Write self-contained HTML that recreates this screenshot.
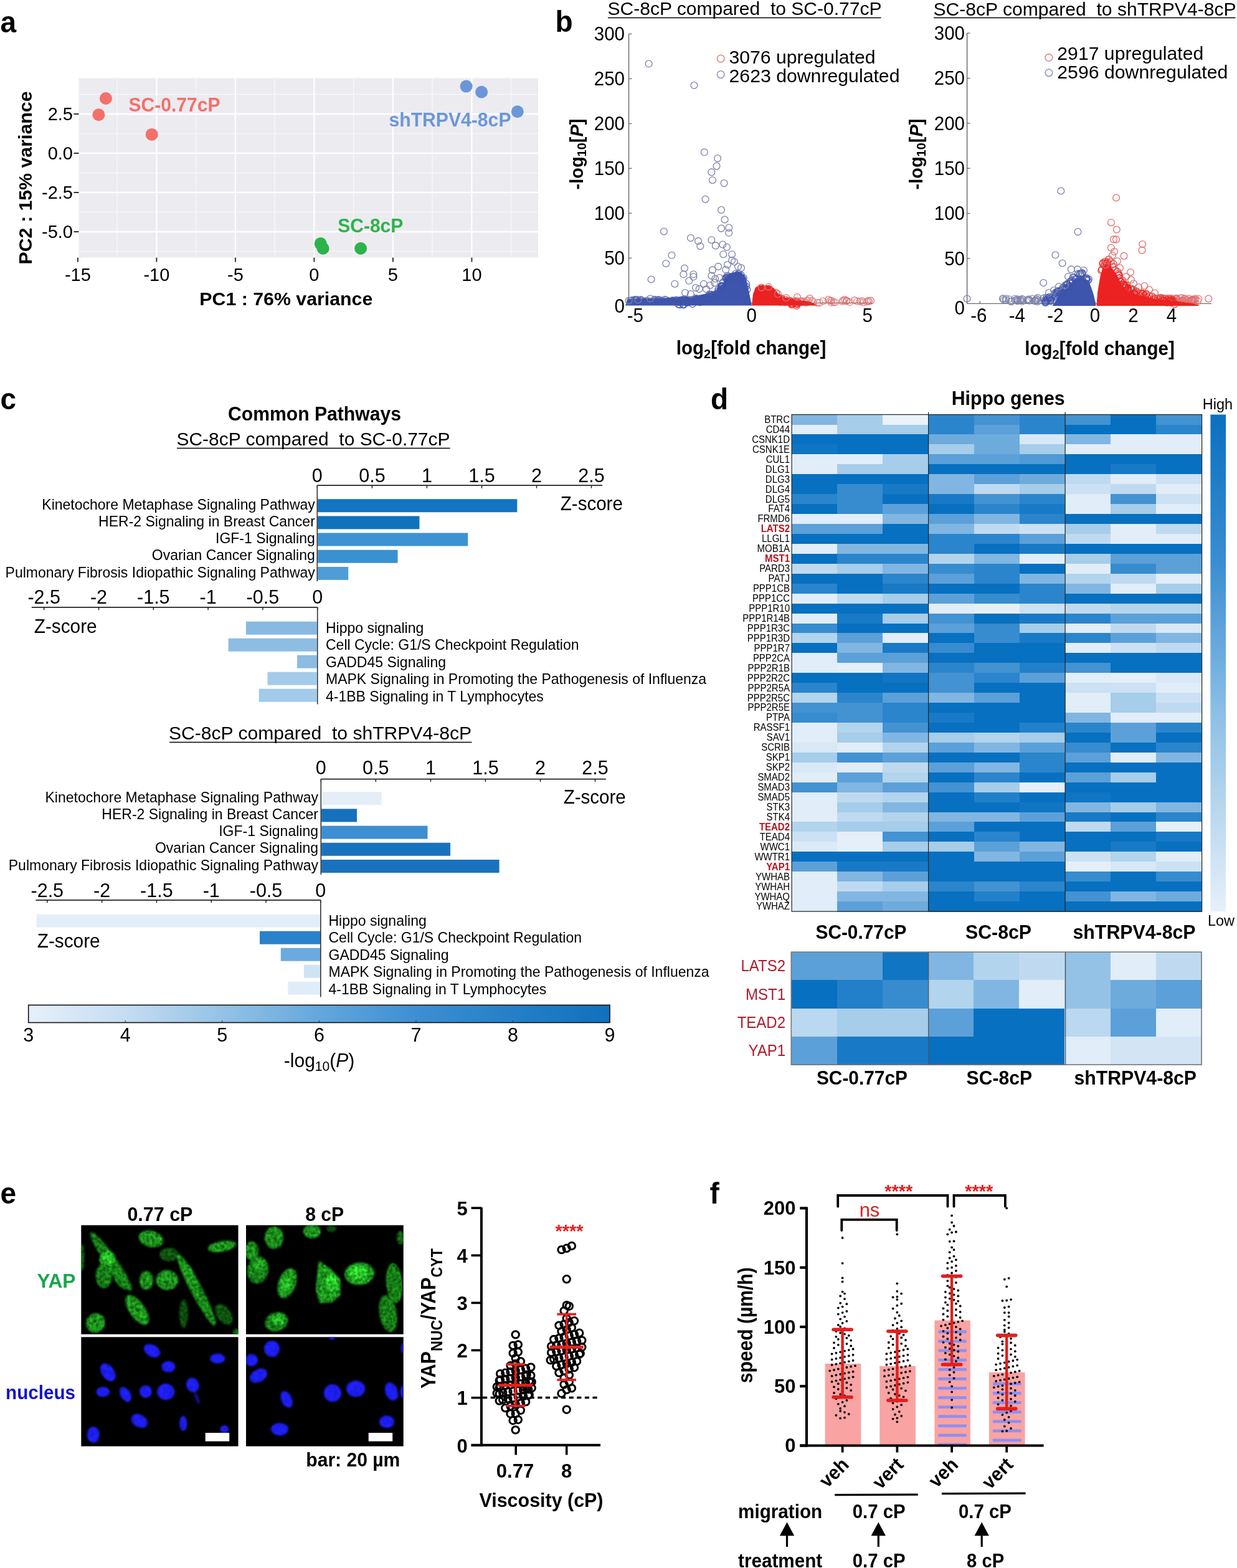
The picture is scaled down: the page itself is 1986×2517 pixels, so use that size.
<!DOCTYPE html>
<html><head><meta charset="utf-8"><title>Figure</title>
<style>html,body{margin:0;padding:0;background:#fff;}svg{display:block;}</style>
</head><body>
<svg width="1986" height="2517" viewBox="0 0 1986 2517" font-family='"Liberation Sans", Arial, Helvetica, sans-serif'>
<rect width="1986" height="2517" fill="#fff"/>
<text x="0" y="0" font-size="46" font-weight="bold" transform="translate(0.5 51.5) scale(1 1.038)">a</text>
<rect x="126.5" y="125.5" width="737.5" height="288" fill="#ecebf0"/>
<line x1="188.1" y1="125.5" x2="188.1" y2="413.5" stroke="#fafafa" stroke-width="1.1"/>
<line x1="314.6" y1="125.5" x2="314.6" y2="413.5" stroke="#fafafa" stroke-width="1.1"/>
<line x1="441.1" y1="125.5" x2="441.1" y2="413.5" stroke="#fafafa" stroke-width="1.1"/>
<line x1="567.6" y1="125.5" x2="567.6" y2="413.5" stroke="#fafafa" stroke-width="1.1"/>
<line x1="694.1" y1="125.5" x2="694.1" y2="413.5" stroke="#fafafa" stroke-width="1.1"/>
<line x1="820.6" y1="125.5" x2="820.6" y2="413.5" stroke="#fafafa" stroke-width="1.1"/>
<line x1="126.5" y1="151.5" x2="864" y2="151.5" stroke="#fafafa" stroke-width="1.1"/>
<line x1="126.5" y1="214.5" x2="864" y2="214.5" stroke="#fafafa" stroke-width="1.1"/>
<line x1="126.5" y1="277.5" x2="864" y2="277.5" stroke="#fafafa" stroke-width="1.1"/>
<line x1="126.5" y1="340.5" x2="864" y2="340.5" stroke="#fafafa" stroke-width="1.1"/>
<line x1="126.5" y1="403.5" x2="864" y2="403.5" stroke="#fafafa" stroke-width="1.1"/>
<line x1="251.4" y1="125.5" x2="251.4" y2="413.5" stroke="#ffffff" stroke-width="2.3"/>
<line x1="377.9" y1="125.5" x2="377.9" y2="413.5" stroke="#ffffff" stroke-width="2.3"/>
<line x1="504.4" y1="125.5" x2="504.4" y2="413.5" stroke="#ffffff" stroke-width="2.3"/>
<line x1="630.9" y1="125.5" x2="630.9" y2="413.5" stroke="#ffffff" stroke-width="2.3"/>
<line x1="757.4" y1="125.5" x2="757.4" y2="413.5" stroke="#ffffff" stroke-width="2.3"/>
<line x1="126.5" y1="183" x2="864" y2="183" stroke="#ffffff" stroke-width="2.3"/>
<line x1="126.5" y1="246" x2="864" y2="246" stroke="#ffffff" stroke-width="2.3"/>
<line x1="126.5" y1="309" x2="864" y2="309" stroke="#ffffff" stroke-width="2.3"/>
<line x1="126.5" y1="372" x2="864" y2="372" stroke="#ffffff" stroke-width="2.3"/>
<circle cx="169.9" cy="158" r="10" fill="#f4706a"/>
<circle cx="158.4" cy="184.3" r="10" fill="#f4706a"/>
<circle cx="243.7" cy="215.9" r="10" fill="#f4706a"/>
<circle cx="748.6" cy="138.6" r="10" fill="#6b97d8"/>
<circle cx="773.1" cy="147.7" r="10" fill="#6b97d8"/>
<circle cx="830.8" cy="179.3" r="10" fill="#6b97d8"/>
<circle cx="514.7" cy="391.1" r="10" fill="#2eb34b"/>
<circle cx="518.6" cy="398.8" r="10" fill="#2eb34b"/>
<circle cx="579.1" cy="398.8" r="10" fill="#2eb34b"/>
<text x="0" y="0" font-size="29.5" font-weight="bold" fill="#f4706a" textLength="147" lengthAdjust="spacingAndGlyphs" transform="translate(206.5 179) scale(1 1.038)">SC-0.77cP</text>
<text x="0" y="0" font-size="29.5" font-weight="bold" fill="#6b97d8" textLength="196" lengthAdjust="spacingAndGlyphs" transform="translate(624.5 202.5) scale(1 1.038)">shTRPV4-8cP</text>
<text x="0" y="0" font-size="29.5" font-weight="bold" fill="#2eb34b" textLength="105" lengthAdjust="spacingAndGlyphs" transform="translate(542.3 373) scale(1 1.038)">SC-8cP</text>
<line x1="118.5" y1="183" x2="126.5" y2="183" stroke="#333" stroke-width="2"/>
<text x="0" y="0" font-size="29" text-anchor="end" transform="translate(117 193.4) scale(1 1.038)">2.5</text>
<line x1="118.5" y1="246" x2="126.5" y2="246" stroke="#333" stroke-width="2"/>
<text x="0" y="0" font-size="29" text-anchor="end" transform="translate(117 256.4) scale(1 1.038)">0.0</text>
<line x1="118.5" y1="309" x2="126.5" y2="309" stroke="#333" stroke-width="2"/>
<text x="0" y="0" font-size="29" text-anchor="end" transform="translate(117 319.4) scale(1 1.038)">-2.5</text>
<line x1="118.5" y1="372" x2="126.5" y2="372" stroke="#333" stroke-width="2"/>
<text x="0" y="0" font-size="29" text-anchor="end" transform="translate(117 382.4) scale(1 1.038)">-5.0</text>
<line x1="124.9" y1="413.5" x2="124.9" y2="420.5" stroke="#333" stroke-width="2"/>
<text x="0" y="0" font-size="29" text-anchor="middle" transform="translate(124.9 451) scale(1 1.038)">-15</text>
<line x1="251.4" y1="413.5" x2="251.4" y2="420.5" stroke="#333" stroke-width="2"/>
<text x="0" y="0" font-size="29" text-anchor="middle" transform="translate(251.4 451) scale(1 1.038)">-10</text>
<line x1="377.9" y1="413.5" x2="377.9" y2="420.5" stroke="#333" stroke-width="2"/>
<text x="0" y="0" font-size="29" text-anchor="middle" transform="translate(377.9 451) scale(1 1.038)">-5</text>
<line x1="504.4" y1="413.5" x2="504.4" y2="420.5" stroke="#333" stroke-width="2"/>
<text x="0" y="0" font-size="29" text-anchor="middle" transform="translate(504.4 451) scale(1 1.038)">0</text>
<line x1="630.9" y1="413.5" x2="630.9" y2="420.5" stroke="#333" stroke-width="2"/>
<text x="0" y="0" font-size="29" text-anchor="middle" transform="translate(630.9 451) scale(1 1.038)">5</text>
<line x1="757.4" y1="413.5" x2="757.4" y2="420.5" stroke="#333" stroke-width="2"/>
<text x="0" y="0" font-size="29" text-anchor="middle" transform="translate(757.4 451) scale(1 1.038)">10</text>
<text x="0" y="0" font-size="29" text-anchor="middle" font-weight="bold" textLength="278" lengthAdjust="spacingAndGlyphs" transform="translate(459.3 490) scale(1 1.038)">PC1 : 76% variance</text>
<text x="0" y="0" font-size="29" text-anchor="middle" font-weight="bold" textLength="278" lengthAdjust="spacingAndGlyphs" transform="translate(51.4 285.5) rotate(-90) scale(1 1.038)">PC2 : 15% variance</text>
<text x="0" y="0" font-size="46" font-weight="bold" transform="translate(891.5 50.8) scale(1 1.038)">b</text>
<line x1="1009.5" y1="54.4" x2="1009.5" y2="486.3" stroke="#6e6e6e" stroke-width="1.5"/>
<line x1="1009.5" y1="486.3" x2="1400" y2="486.3" stroke="#6e6e6e" stroke-width="1.2"/>
<line x1="1009.5" y1="54.4" x2="1014.5" y2="54.4" stroke="#6e6e6e" stroke-width="1.3"/>
<line x1="1009.5" y1="126.4" x2="1014.5" y2="126.4" stroke="#6e6e6e" stroke-width="1.3"/>
<line x1="1009.5" y1="198.4" x2="1014.5" y2="198.4" stroke="#6e6e6e" stroke-width="1.3"/>
<line x1="1009.5" y1="270.3" x2="1014.5" y2="270.3" stroke="#6e6e6e" stroke-width="1.3"/>
<line x1="1009.5" y1="342.3" x2="1014.5" y2="342.3" stroke="#6e6e6e" stroke-width="1.3"/>
<line x1="1009.5" y1="414.3" x2="1014.5" y2="414.3" stroke="#6e6e6e" stroke-width="1.3"/>
<text x="0" y="0" font-size="29.5" text-anchor="end" transform="translate(1003 64.6) scale(1 1.038)">300</text>
<text x="0" y="0" font-size="29.5" text-anchor="end" transform="translate(1003 136.6) scale(1 1.038)">250</text>
<text x="0" y="0" font-size="29.5" text-anchor="end" transform="translate(1003 208.6) scale(1 1.038)">200</text>
<text x="0" y="0" font-size="29.5" text-anchor="end" transform="translate(1003 280.5) scale(1 1.038)">150</text>
<text x="0" y="0" font-size="29.5" text-anchor="end" transform="translate(1003 352.5) scale(1 1.038)">100</text>
<text x="0" y="0" font-size="29.5" text-anchor="end" transform="translate(1003 424.5) scale(1 1.038)">50</text>
<text x="0" y="0" font-size="29.5" text-anchor="end" transform="translate(1003 502) scale(1 1.038)">0</text>
<text x="0" y="0" font-size="29.5" text-anchor="middle" transform="translate(1019.9 517) scale(1 1.038)">-5</text>
<text x="0" y="0" font-size="29.5" text-anchor="middle" transform="translate(1206.7 517) scale(1 1.038)">0</text>
<text x="0" y="0" font-size="29.5" text-anchor="middle" transform="translate(1392.6 517) scale(1 1.038)">5</text>
<circle cx="1051.8" cy="481.6" r="5.4" fill="none" stroke="#5a68b0" stroke-width="1.3" stroke-opacity="0.8"/>
<circle cx="1093.3" cy="481.9" r="5.4" fill="none" stroke="#5a68b0" stroke-width="1.3" stroke-opacity="0.8"/>
<circle cx="1056.7" cy="481.5" r="5.4" fill="none" stroke="#5a68b0" stroke-width="1.3" stroke-opacity="0.8"/>
<circle cx="1028.3" cy="481.8" r="5.4" fill="none" stroke="#5a68b0" stroke-width="1.3" stroke-opacity="0.8"/>
<circle cx="1067.4" cy="480.9" r="5.4" fill="none" stroke="#5a68b0" stroke-width="1.3" stroke-opacity="0.8"/>
<circle cx="1020.3" cy="482.4" r="5.4" fill="none" stroke="#5a68b0" stroke-width="1.3" stroke-opacity="0.8"/>
<circle cx="1020" cy="480.9" r="5.4" fill="none" stroke="#5a68b0" stroke-width="1.3" stroke-opacity="0.8"/>
<circle cx="1073" cy="483.2" r="5.4" fill="none" stroke="#5a68b0" stroke-width="1.3" stroke-opacity="0.8"/>
<circle cx="1098.4" cy="480.4" r="5.4" fill="none" stroke="#5a68b0" stroke-width="1.3" stroke-opacity="0.8"/>
<circle cx="1069.5" cy="481.5" r="5.4" fill="none" stroke="#5a68b0" stroke-width="1.3" stroke-opacity="0.8"/>
<circle cx="1025.9" cy="483.3" r="5.4" fill="none" stroke="#5a68b0" stroke-width="1.3" stroke-opacity="0.8"/>
<circle cx="1058.5" cy="483.1" r="5.4" fill="none" stroke="#5a68b0" stroke-width="1.3" stroke-opacity="0.8"/>
<circle cx="1028.7" cy="482.6" r="5.4" fill="none" stroke="#5a68b0" stroke-width="1.3" stroke-opacity="0.8"/>
<circle cx="1014.6" cy="481.9" r="5.4" fill="none" stroke="#5a68b0" stroke-width="1.3" stroke-opacity="0.8"/>
<circle cx="1050.8" cy="480.8" r="5.4" fill="none" stroke="#5a68b0" stroke-width="1.3" stroke-opacity="0.8"/>
<circle cx="1057.7" cy="481.4" r="5.4" fill="none" stroke="#5a68b0" stroke-width="1.3" stroke-opacity="0.8"/>
<circle cx="1056" cy="481.3" r="5.4" fill="none" stroke="#5a68b0" stroke-width="1.3" stroke-opacity="0.8"/>
<circle cx="1052.2" cy="482.5" r="5.4" fill="none" stroke="#5a68b0" stroke-width="1.3" stroke-opacity="0.8"/>
<circle cx="1099.8" cy="480.3" r="5.4" fill="none" stroke="#5a68b0" stroke-width="1.3" stroke-opacity="0.8"/>
<circle cx="1085.9" cy="481.2" r="5.4" fill="none" stroke="#5a68b0" stroke-width="1.3" stroke-opacity="0.8"/>
<circle cx="1039.7" cy="482.6" r="5.4" fill="none" stroke="#5a68b0" stroke-width="1.3" stroke-opacity="0.8"/>
<circle cx="1037.4" cy="483.1" r="5.4" fill="none" stroke="#5a68b0" stroke-width="1.3" stroke-opacity="0.8"/>
<circle cx="1079.4" cy="482.1" r="5.4" fill="none" stroke="#5a68b0" stroke-width="1.3" stroke-opacity="0.8"/>
<circle cx="1086.5" cy="482.1" r="5.4" fill="none" stroke="#5a68b0" stroke-width="1.3" stroke-opacity="0.8"/>
<circle cx="1096.3" cy="480.8" r="5.4" fill="none" stroke="#5a68b0" stroke-width="1.3" stroke-opacity="0.8"/>
<circle cx="1012" cy="482.7" r="5.4" fill="none" stroke="#5a68b0" stroke-width="1.3" stroke-opacity="0.8"/>
<circle cx="1092.1" cy="481.9" r="5.4" fill="none" stroke="#5a68b0" stroke-width="1.3" stroke-opacity="0.8"/>
<circle cx="1098.3" cy="482.1" r="5.4" fill="none" stroke="#5a68b0" stroke-width="1.3" stroke-opacity="0.8"/>
<circle cx="1018.4" cy="481.4" r="5.4" fill="none" stroke="#5a68b0" stroke-width="1.3" stroke-opacity="0.8"/>
<circle cx="1080.5" cy="482.5" r="5.4" fill="none" stroke="#5a68b0" stroke-width="1.3" stroke-opacity="0.8"/>
<circle cx="1019.7" cy="482.3" r="5.4" fill="none" stroke="#5a68b0" stroke-width="1.3" stroke-opacity="0.8"/>
<circle cx="1096.8" cy="481" r="5.4" fill="none" stroke="#5a68b0" stroke-width="1.3" stroke-opacity="0.8"/>
<circle cx="1022.4" cy="482.6" r="5.4" fill="none" stroke="#5a68b0" stroke-width="1.3" stroke-opacity="0.8"/>
<circle cx="1020.9" cy="483.1" r="5.4" fill="none" stroke="#5a68b0" stroke-width="1.3" stroke-opacity="0.8"/>
<circle cx="1082.1" cy="482.8" r="5.4" fill="none" stroke="#5a68b0" stroke-width="1.3" stroke-opacity="0.8"/>
<circle cx="1061.2" cy="482" r="5.4" fill="none" stroke="#5a68b0" stroke-width="1.3" stroke-opacity="0.8"/>
<circle cx="1028.8" cy="481.1" r="5.4" fill="none" stroke="#5a68b0" stroke-width="1.3" stroke-opacity="0.8"/>
<circle cx="1023.5" cy="481.4" r="5.4" fill="none" stroke="#5a68b0" stroke-width="1.3" stroke-opacity="0.8"/>
<circle cx="1022.3" cy="482" r="5.4" fill="none" stroke="#5a68b0" stroke-width="1.3" stroke-opacity="0.8"/>
<circle cx="1030.7" cy="482.5" r="5.4" fill="none" stroke="#5a68b0" stroke-width="1.3" stroke-opacity="0.8"/>
<circle cx="1393.7" cy="483.1" r="5.4" fill="none" stroke="#e07070" stroke-width="1.3" stroke-opacity="0.8"/>
<circle cx="1295" cy="482.8" r="5.4" fill="none" stroke="#e07070" stroke-width="1.3" stroke-opacity="0.8"/>
<circle cx="1281.2" cy="484.7" r="5.4" fill="none" stroke="#e07070" stroke-width="1.3" stroke-opacity="0.8"/>
<circle cx="1376.4" cy="483.7" r="5.4" fill="none" stroke="#e07070" stroke-width="1.3" stroke-opacity="0.8"/>
<circle cx="1264.8" cy="482.3" r="5.4" fill="none" stroke="#e07070" stroke-width="1.3" stroke-opacity="0.8"/>
<circle cx="1281.6" cy="485.3" r="5.4" fill="none" stroke="#e07070" stroke-width="1.3" stroke-opacity="0.8"/>
<circle cx="1364.4" cy="485" r="5.4" fill="none" stroke="#e07070" stroke-width="1.3" stroke-opacity="0.8"/>
<circle cx="1293.9" cy="486" r="5.4" fill="none" stroke="#e07070" stroke-width="1.3" stroke-opacity="0.8"/>
<circle cx="1263.3" cy="484" r="5.4" fill="none" stroke="#e07070" stroke-width="1.3" stroke-opacity="0.8"/>
<circle cx="1286" cy="483.9" r="5.4" fill="none" stroke="#e07070" stroke-width="1.3" stroke-opacity="0.8"/>
<circle cx="1305" cy="484.5" r="5.4" fill="none" stroke="#e07070" stroke-width="1.3" stroke-opacity="0.8"/>
<circle cx="1392" cy="484.4" r="5.4" fill="none" stroke="#e07070" stroke-width="1.3" stroke-opacity="0.8"/>
<circle cx="1335" cy="482.8" r="5.4" fill="none" stroke="#e07070" stroke-width="1.3" stroke-opacity="0.8"/>
<circle cx="1277.1" cy="485.7" r="5.4" fill="none" stroke="#e07070" stroke-width="1.3" stroke-opacity="0.8"/>
<circle cx="1384.4" cy="483" r="5.4" fill="none" stroke="#e07070" stroke-width="1.3" stroke-opacity="0.8"/>
<circle cx="1286.9" cy="485.5" r="5.4" fill="none" stroke="#e07070" stroke-width="1.3" stroke-opacity="0.8"/>
<circle cx="1359.4" cy="482.5" r="5.4" fill="none" stroke="#e07070" stroke-width="1.3" stroke-opacity="0.8"/>
<circle cx="1279.1" cy="482.5" r="5.4" fill="none" stroke="#e07070" stroke-width="1.3" stroke-opacity="0.8"/>
<circle cx="1380.6" cy="483.9" r="5.4" fill="none" stroke="#e07070" stroke-width="1.3" stroke-opacity="0.8"/>
<circle cx="1312.4" cy="485.9" r="5.4" fill="none" stroke="#e07070" stroke-width="1.3" stroke-opacity="0.8"/>
<circle cx="1255.7" cy="482.4" r="5.4" fill="none" stroke="#e07070" stroke-width="1.3" stroke-opacity="0.8"/>
<circle cx="1285.3" cy="483.5" r="5.4" fill="none" stroke="#e07070" stroke-width="1.3" stroke-opacity="0.8"/>
<circle cx="1288" cy="483" r="5.4" fill="none" stroke="#e07070" stroke-width="1.3" stroke-opacity="0.8"/>
<circle cx="1338.3" cy="485.1" r="5.4" fill="none" stroke="#e07070" stroke-width="1.3" stroke-opacity="0.8"/>
<circle cx="1276" cy="483.4" r="5.4" fill="none" stroke="#e07070" stroke-width="1.3" stroke-opacity="0.8"/>
<circle cx="1260.2" cy="485.4" r="5.4" fill="none" stroke="#e07070" stroke-width="1.3" stroke-opacity="0.8"/>
<circle cx="1332.8" cy="482.9" r="5.4" fill="none" stroke="#e07070" stroke-width="1.3" stroke-opacity="0.8"/>
<circle cx="1340.9" cy="485.2" r="5.4" fill="none" stroke="#e07070" stroke-width="1.3" stroke-opacity="0.8"/>
<circle cx="1385.8" cy="485.5" r="5.4" fill="none" stroke="#e07070" stroke-width="1.3" stroke-opacity="0.8"/>
<circle cx="1252.5" cy="485.2" r="5.4" fill="none" stroke="#e07070" stroke-width="1.3" stroke-opacity="0.8"/>
<circle cx="1316" cy="486.1" r="5.4" fill="none" stroke="#e07070" stroke-width="1.3" stroke-opacity="0.8"/>
<circle cx="1276.1" cy="484.8" r="5.4" fill="none" stroke="#e07070" stroke-width="1.3" stroke-opacity="0.8"/>
<circle cx="1334.7" cy="485.8" r="5.4" fill="none" stroke="#e07070" stroke-width="1.3" stroke-opacity="0.8"/>
<circle cx="1303.6" cy="482.7" r="5.4" fill="none" stroke="#e07070" stroke-width="1.3" stroke-opacity="0.8"/>
<circle cx="1395.1" cy="483.7" r="5.4" fill="none" stroke="#e07070" stroke-width="1.3" stroke-opacity="0.8"/>
<circle cx="1352.3" cy="484" r="5.4" fill="none" stroke="#e07070" stroke-width="1.3" stroke-opacity="0.8"/>
<circle cx="1270.8" cy="486.2" r="5.4" fill="none" stroke="#e07070" stroke-width="1.3" stroke-opacity="0.8"/>
<circle cx="1252.6" cy="482.7" r="5.4" fill="none" stroke="#e07070" stroke-width="1.3" stroke-opacity="0.8"/>
<circle cx="1353.7" cy="482.4" r="5.4" fill="none" stroke="#e07070" stroke-width="1.3" stroke-opacity="0.8"/>
<circle cx="1253.1" cy="483.8" r="5.4" fill="none" stroke="#e07070" stroke-width="1.3" stroke-opacity="0.8"/>
<circle cx="1321.4" cy="483.4" r="5.4" fill="none" stroke="#e07070" stroke-width="1.3" stroke-opacity="0.8"/>
<circle cx="1297.2" cy="482.3" r="5.4" fill="none" stroke="#e07070" stroke-width="1.3" stroke-opacity="0.8"/>
<circle cx="1261.1" cy="484.1" r="5.4" fill="none" stroke="#e07070" stroke-width="1.3" stroke-opacity="0.8"/>
<circle cx="1359.1" cy="482.7" r="5.4" fill="none" stroke="#e07070" stroke-width="1.3" stroke-opacity="0.8"/>
<circle cx="1359.1" cy="483.5" r="5.4" fill="none" stroke="#e07070" stroke-width="1.3" stroke-opacity="0.8"/>
<path d="M1004 490.5 L1004 490.5 L1008 480 L1030 479 L1060 478.5 L1085 477.5 L1116 475 L1140 470 L1151 465 L1160 456 L1166 444 L1171 439 L1180 436.5 L1190 437 L1196 443 L1200 456 L1204 476 L1207 490.5 L1207 490.5 Z" fill="#3d55ad"/>
<path d="M1207 490.5 L1207 490 L1209 472 L1213 462 L1220 458 L1235 458 L1242 462 L1247 468 L1252 475 L1265 479 L1285 482 L1300 484 L1312 490 L1312 490.5 Z" fill="#ec2222"/>
<circle cx="1176.8" cy="446.4" r="5.4" fill="none" stroke="#3d55ad" stroke-width="1.3" stroke-opacity="0.85"/>
<circle cx="1127.4" cy="481.8" r="5.4" fill="none" stroke="#3d55ad" stroke-width="1.3" stroke-opacity="0.85"/>
<circle cx="1188.9" cy="448.2" r="5.4" fill="none" stroke="#3d55ad" stroke-width="1.3" stroke-opacity="0.85"/>
<circle cx="1134.7" cy="480.7" r="5.4" fill="none" stroke="#3d55ad" stroke-width="1.3" stroke-opacity="0.85"/>
<circle cx="1184.7" cy="443.9" r="5.4" fill="none" stroke="#3d55ad" stroke-width="1.3" stroke-opacity="0.85"/>
<circle cx="1158" cy="459.1" r="5.4" fill="none" stroke="#3d55ad" stroke-width="1.3" stroke-opacity="0.85"/>
<circle cx="1153.3" cy="467.5" r="5.4" fill="none" stroke="#3d55ad" stroke-width="1.3" stroke-opacity="0.85"/>
<circle cx="1097" cy="488.4" r="5.4" fill="none" stroke="#3d55ad" stroke-width="1.3" stroke-opacity="0.85"/>
<circle cx="1199.3" cy="464.9" r="5.4" fill="none" stroke="#3d55ad" stroke-width="1.3" stroke-opacity="0.85"/>
<circle cx="1169.6" cy="444.2" r="5.4" fill="none" stroke="#3d55ad" stroke-width="1.3" stroke-opacity="0.85"/>
<circle cx="1170.3" cy="445.7" r="5.4" fill="none" stroke="#3d55ad" stroke-width="1.3" stroke-opacity="0.85"/>
<circle cx="1137.3" cy="480.3" r="5.4" fill="none" stroke="#3d55ad" stroke-width="1.3" stroke-opacity="0.85"/>
<circle cx="1097.4" cy="489.4" r="5.4" fill="none" stroke="#3d55ad" stroke-width="1.3" stroke-opacity="0.85"/>
<circle cx="1091.3" cy="489.2" r="5.4" fill="none" stroke="#3d55ad" stroke-width="1.3" stroke-opacity="0.85"/>
<circle cx="1141.9" cy="472.9" r="5.4" fill="none" stroke="#3d55ad" stroke-width="1.3" stroke-opacity="0.85"/>
<circle cx="1166.2" cy="446.4" r="5.4" fill="none" stroke="#3d55ad" stroke-width="1.3" stroke-opacity="0.85"/>
<circle cx="1156.8" cy="465.5" r="5.4" fill="none" stroke="#3d55ad" stroke-width="1.3" stroke-opacity="0.85"/>
<circle cx="1116.7" cy="478.9" r="5.4" fill="none" stroke="#3d55ad" stroke-width="1.3" stroke-opacity="0.85"/>
<circle cx="1121.7" cy="483.4" r="5.4" fill="none" stroke="#3d55ad" stroke-width="1.3" stroke-opacity="0.85"/>
<circle cx="1110.7" cy="481.6" r="5.4" fill="none" stroke="#3d55ad" stroke-width="1.3" stroke-opacity="0.85"/>
<circle cx="1189.4" cy="446.5" r="5.4" fill="none" stroke="#3d55ad" stroke-width="1.3" stroke-opacity="0.85"/>
<circle cx="1137.5" cy="480.8" r="5.4" fill="none" stroke="#3d55ad" stroke-width="1.3" stroke-opacity="0.85"/>
<circle cx="1124.6" cy="482.5" r="5.4" fill="none" stroke="#3d55ad" stroke-width="1.3" stroke-opacity="0.85"/>
<circle cx="1110.2" cy="484" r="5.4" fill="none" stroke="#3d55ad" stroke-width="1.3" stroke-opacity="0.85"/>
<circle cx="1178.3" cy="445.8" r="5.4" fill="none" stroke="#3d55ad" stroke-width="1.3" stroke-opacity="0.85"/>
<circle cx="1186.6" cy="442.9" r="5.4" fill="none" stroke="#3d55ad" stroke-width="1.3" stroke-opacity="0.85"/>
<circle cx="1153.3" cy="464.8" r="5.4" fill="none" stroke="#3d55ad" stroke-width="1.3" stroke-opacity="0.85"/>
<circle cx="1103.3" cy="485.9" r="5.4" fill="none" stroke="#3d55ad" stroke-width="1.3" stroke-opacity="0.85"/>
<circle cx="1181.8" cy="445.3" r="5.4" fill="none" stroke="#3d55ad" stroke-width="1.3" stroke-opacity="0.85"/>
<circle cx="1167.7" cy="450" r="5.4" fill="none" stroke="#3d55ad" stroke-width="1.3" stroke-opacity="0.85"/>
<circle cx="1119" cy="479.6" r="5.4" fill="none" stroke="#3d55ad" stroke-width="1.3" stroke-opacity="0.85"/>
<circle cx="1138.5" cy="474.9" r="5.4" fill="none" stroke="#3d55ad" stroke-width="1.3" stroke-opacity="0.85"/>
<circle cx="1112" cy="483.5" r="5.4" fill="none" stroke="#3d55ad" stroke-width="1.3" stroke-opacity="0.85"/>
<circle cx="1158.1" cy="460" r="5.4" fill="none" stroke="#3d55ad" stroke-width="1.3" stroke-opacity="0.85"/>
<circle cx="1123.3" cy="484.4" r="5.4" fill="none" stroke="#3d55ad" stroke-width="1.3" stroke-opacity="0.85"/>
<circle cx="1198" cy="455.6" r="5.4" fill="none" stroke="#3d55ad" stroke-width="1.3" stroke-opacity="0.85"/>
<circle cx="1096.4" cy="483.1" r="5.4" fill="none" stroke="#3d55ad" stroke-width="1.3" stroke-opacity="0.85"/>
<circle cx="1185.8" cy="439.5" r="5.4" fill="none" stroke="#3d55ad" stroke-width="1.3" stroke-opacity="0.85"/>
<circle cx="1167.4" cy="446.6" r="5.4" fill="none" stroke="#3d55ad" stroke-width="1.3" stroke-opacity="0.85"/>
<circle cx="1122.6" cy="484.2" r="5.4" fill="none" stroke="#3d55ad" stroke-width="1.3" stroke-opacity="0.85"/>
<circle cx="1090.1" cy="485.2" r="5.4" fill="none" stroke="#3d55ad" stroke-width="1.3" stroke-opacity="0.85"/>
<circle cx="1138.9" cy="472.5" r="5.4" fill="none" stroke="#3d55ad" stroke-width="1.3" stroke-opacity="0.85"/>
<circle cx="1180.9" cy="439.5" r="5.4" fill="none" stroke="#3d55ad" stroke-width="1.3" stroke-opacity="0.85"/>
<circle cx="1103.8" cy="481.8" r="5.4" fill="none" stroke="#3d55ad" stroke-width="1.3" stroke-opacity="0.85"/>
<circle cx="1158.5" cy="459.1" r="5.4" fill="none" stroke="#3d55ad" stroke-width="1.3" stroke-opacity="0.85"/>
<circle cx="1158.6" cy="460.8" r="5.4" fill="none" stroke="#3d55ad" stroke-width="1.3" stroke-opacity="0.85"/>
<circle cx="1178.4" cy="446.2" r="5.4" fill="none" stroke="#3d55ad" stroke-width="1.3" stroke-opacity="0.85"/>
<circle cx="1164.7" cy="446.2" r="5.4" fill="none" stroke="#3d55ad" stroke-width="1.3" stroke-opacity="0.85"/>
<circle cx="1141.2" cy="472.8" r="5.4" fill="none" stroke="#3d55ad" stroke-width="1.3" stroke-opacity="0.85"/>
<circle cx="1089.2" cy="488.4" r="5.4" fill="none" stroke="#3d55ad" stroke-width="1.3" stroke-opacity="0.85"/>
<circle cx="1168" cy="442.9" r="5.4" fill="none" stroke="#3d55ad" stroke-width="1.3" stroke-opacity="0.85"/>
<circle cx="1118.5" cy="481.4" r="5.4" fill="none" stroke="#3d55ad" stroke-width="1.3" stroke-opacity="0.85"/>
<circle cx="1166.1" cy="446.6" r="5.4" fill="none" stroke="#3d55ad" stroke-width="1.3" stroke-opacity="0.85"/>
<circle cx="1156.8" cy="464" r="5.4" fill="none" stroke="#3d55ad" stroke-width="1.3" stroke-opacity="0.85"/>
<circle cx="1132.1" cy="481.4" r="5.4" fill="none" stroke="#3d55ad" stroke-width="1.3" stroke-opacity="0.85"/>
<circle cx="1189.5" cy="441.3" r="5.4" fill="none" stroke="#3d55ad" stroke-width="1.3" stroke-opacity="0.85"/>
<circle cx="1192.5" cy="448.2" r="5.4" fill="none" stroke="#3d55ad" stroke-width="1.3" stroke-opacity="0.85"/>
<circle cx="1102.5" cy="485.7" r="5.4" fill="none" stroke="#3d55ad" stroke-width="1.3" stroke-opacity="0.85"/>
<circle cx="1158.1" cy="463.8" r="5.4" fill="none" stroke="#3d55ad" stroke-width="1.3" stroke-opacity="0.85"/>
<circle cx="1130.2" cy="480" r="5.4" fill="none" stroke="#3d55ad" stroke-width="1.3" stroke-opacity="0.85"/>
<circle cx="1186.5" cy="446.6" r="5.4" fill="none" stroke="#3d55ad" stroke-width="1.3" stroke-opacity="0.85"/>
<circle cx="1193.8" cy="446.3" r="5.4" fill="none" stroke="#3d55ad" stroke-width="1.3" stroke-opacity="0.85"/>
<circle cx="1160.9" cy="453.1" r="5.4" fill="none" stroke="#3d55ad" stroke-width="1.3" stroke-opacity="0.85"/>
<circle cx="1168.9" cy="448.3" r="5.4" fill="none" stroke="#3d55ad" stroke-width="1.3" stroke-opacity="0.85"/>
<circle cx="1159.9" cy="459.6" r="5.4" fill="none" stroke="#3d55ad" stroke-width="1.3" stroke-opacity="0.85"/>
<circle cx="1111.9" cy="487.9" r="5.4" fill="none" stroke="#3d55ad" stroke-width="1.3" stroke-opacity="0.85"/>
<circle cx="1197.8" cy="459.6" r="5.4" fill="none" stroke="#3d55ad" stroke-width="1.3" stroke-opacity="0.85"/>
<circle cx="1148.1" cy="473.9" r="5.4" fill="none" stroke="#3d55ad" stroke-width="1.3" stroke-opacity="0.85"/>
<circle cx="1123.9" cy="484.9" r="5.4" fill="none" stroke="#3d55ad" stroke-width="1.3" stroke-opacity="0.85"/>
<circle cx="1183.8" cy="441.6" r="5.4" fill="none" stroke="#3d55ad" stroke-width="1.3" stroke-opacity="0.85"/>
<circle cx="1217.8" cy="465.3" r="5.4" fill="none" stroke="#ec2222" stroke-width="1.3" stroke-opacity="0.85"/>
<circle cx="1250.5" cy="481.3" r="5.4" fill="none" stroke="#ec2222" stroke-width="1.3" stroke-opacity="0.85"/>
<circle cx="1246.1" cy="470.1" r="5.4" fill="none" stroke="#ec2222" stroke-width="1.3" stroke-opacity="0.85"/>
<circle cx="1268.6" cy="483" r="5.4" fill="none" stroke="#ec2222" stroke-width="1.3" stroke-opacity="0.85"/>
<circle cx="1268" cy="483.7" r="5.4" fill="none" stroke="#ec2222" stroke-width="1.3" stroke-opacity="0.85"/>
<circle cx="1235.5" cy="466.8" r="5.4" fill="none" stroke="#ec2222" stroke-width="1.3" stroke-opacity="0.85"/>
<circle cx="1221.8" cy="462" r="5.4" fill="none" stroke="#ec2222" stroke-width="1.3" stroke-opacity="0.85"/>
<circle cx="1248.2" cy="477.7" r="5.4" fill="none" stroke="#ec2222" stroke-width="1.3" stroke-opacity="0.85"/>
<circle cx="1270.8" cy="487.7" r="5.4" fill="none" stroke="#ec2222" stroke-width="1.3" stroke-opacity="0.85"/>
<circle cx="1278.2" cy="487.4" r="5.4" fill="none" stroke="#ec2222" stroke-width="1.3" stroke-opacity="0.85"/>
<circle cx="1278.4" cy="484.6" r="5.4" fill="none" stroke="#ec2222" stroke-width="1.3" stroke-opacity="0.85"/>
<circle cx="1227.5" cy="464.7" r="5.4" fill="none" stroke="#ec2222" stroke-width="1.3" stroke-opacity="0.85"/>
<circle cx="1232.3" cy="466.1" r="5.4" fill="none" stroke="#ec2222" stroke-width="1.3" stroke-opacity="0.85"/>
<circle cx="1256.7" cy="483.1" r="5.4" fill="none" stroke="#ec2222" stroke-width="1.3" stroke-opacity="0.85"/>
<circle cx="1271.1" cy="486.8" r="5.4" fill="none" stroke="#ec2222" stroke-width="1.3" stroke-opacity="0.85"/>
<circle cx="1233.8" cy="463.7" r="5.4" fill="none" stroke="#ec2222" stroke-width="1.3" stroke-opacity="0.85"/>
<circle cx="1271.2" cy="489.2" r="5.4" fill="none" stroke="#ec2222" stroke-width="1.3" stroke-opacity="0.85"/>
<circle cx="1226.6" cy="467" r="5.4" fill="none" stroke="#ec2222" stroke-width="1.3" stroke-opacity="0.85"/>
<circle cx="1279.8" cy="487.9" r="5.4" fill="none" stroke="#ec2222" stroke-width="1.3" stroke-opacity="0.85"/>
<circle cx="1252.1" cy="479.4" r="5.4" fill="none" stroke="#ec2222" stroke-width="1.3" stroke-opacity="0.85"/>
<circle cx="1249.5" cy="478" r="5.4" fill="none" stroke="#ec2222" stroke-width="1.3" stroke-opacity="0.85"/>
<circle cx="1254.4" cy="478.9" r="5.4" fill="none" stroke="#ec2222" stroke-width="1.3" stroke-opacity="0.85"/>
<circle cx="1279.9" cy="487.8" r="5.4" fill="none" stroke="#ec2222" stroke-width="1.3" stroke-opacity="0.85"/>
<circle cx="1240" cy="469.5" r="5.4" fill="none" stroke="#ec2222" stroke-width="1.3" stroke-opacity="0.85"/>
<circle cx="1251.4" cy="480.6" r="5.4" fill="none" stroke="#ec2222" stroke-width="1.3" stroke-opacity="0.85"/>
<circle cx="1260.4" cy="481" r="5.4" fill="none" stroke="#ec2222" stroke-width="1.3" stroke-opacity="0.85"/>
<circle cx="1249.7" cy="477.7" r="5.4" fill="none" stroke="#ec2222" stroke-width="1.3" stroke-opacity="0.85"/>
<circle cx="1279" cy="490.6" r="5.4" fill="none" stroke="#ec2222" stroke-width="1.3" stroke-opacity="0.85"/>
<circle cx="1230.8" cy="464.3" r="5.4" fill="none" stroke="#ec2222" stroke-width="1.3" stroke-opacity="0.85"/>
<circle cx="1220.9" cy="464" r="5.4" fill="none" stroke="#ec2222" stroke-width="1.3" stroke-opacity="0.85"/>
<circle cx="1041.6" cy="102.3" r="5.4" fill="none" stroke="#7d82aa" stroke-width="1.3"/>
<circle cx="1114.4" cy="137" r="5.4" fill="none" stroke="#7d82aa" stroke-width="1.3"/>
<circle cx="1130.8" cy="244.3" r="5.4" fill="none" stroke="#7d82aa" stroke-width="1.3"/>
<circle cx="1152.1" cy="254.1" r="5.4" fill="none" stroke="#7d82aa" stroke-width="1.3"/>
<circle cx="1150.5" cy="266.6" r="5.4" fill="none" stroke="#7d82aa" stroke-width="1.3"/>
<circle cx="1142.3" cy="276.4" r="5.4" fill="none" stroke="#7d82aa" stroke-width="1.3"/>
<circle cx="1143.9" cy="289.2" r="5.4" fill="none" stroke="#7d82aa" stroke-width="1.3"/>
<circle cx="1162.6" cy="294.1" r="5.4" fill="none" stroke="#7d82aa" stroke-width="1.3"/>
<circle cx="1132.5" cy="319.7" r="5.4" fill="none" stroke="#7d82aa" stroke-width="1.3"/>
<circle cx="1158" cy="337" r="5.4" fill="none" stroke="#7d82aa" stroke-width="1.3"/>
<circle cx="1163.6" cy="352.5" r="5.4" fill="none" stroke="#7d82aa" stroke-width="1.3"/>
<circle cx="1158" cy="366.6" r="5.4" fill="none" stroke="#7d82aa" stroke-width="1.3"/>
<circle cx="1170.2" cy="365.6" r="5.4" fill="none" stroke="#7d82aa" stroke-width="1.3"/>
<circle cx="1170.2" cy="373.8" r="5.4" fill="none" stroke="#7d82aa" stroke-width="1.3"/>
<circle cx="1065.9" cy="371.5" r="5.4" fill="none" stroke="#7d82aa" stroke-width="1.3"/>
<circle cx="1108.9" cy="382" r="5.4" fill="none" stroke="#7d82aa" stroke-width="1.3"/>
<circle cx="1121" cy="386.9" r="5.4" fill="none" stroke="#7d82aa" stroke-width="1.3"/>
<circle cx="1124.3" cy="395.1" r="5.4" fill="none" stroke="#7d82aa" stroke-width="1.3"/>
<circle cx="1142.3" cy="385.2" r="5.4" fill="none" stroke="#7d82aa" stroke-width="1.3"/>
<circle cx="1148.9" cy="394.4" r="5.4" fill="none" stroke="#7d82aa" stroke-width="1.3"/>
<circle cx="1160.3" cy="392.5" r="5.4" fill="none" stroke="#7d82aa" stroke-width="1.3"/>
<circle cx="1166.9" cy="396.7" r="5.4" fill="none" stroke="#7d82aa" stroke-width="1.3"/>
<circle cx="1161.3" cy="408.2" r="5.4" fill="none" stroke="#7d82aa" stroke-width="1.3"/>
<circle cx="1175.1" cy="408.2" r="5.4" fill="none" stroke="#7d82aa" stroke-width="1.3"/>
<circle cx="1175.1" cy="418" r="5.4" fill="none" stroke="#7d82aa" stroke-width="1.3"/>
<circle cx="1179" cy="420.3" r="5.4" fill="none" stroke="#7d82aa" stroke-width="1.3"/>
<circle cx="1078.4" cy="409.8" r="5.4" fill="none" stroke="#7d82aa" stroke-width="1.3"/>
<circle cx="1069.2" cy="423" r="5.4" fill="none" stroke="#7d82aa" stroke-width="1.3"/>
<circle cx="1099" cy="430.5" r="5.4" fill="none" stroke="#7d82aa" stroke-width="1.3"/>
<circle cx="1097.4" cy="440.3" r="5.4" fill="none" stroke="#7d82aa" stroke-width="1.3"/>
<circle cx="1113.4" cy="440.3" r="5.4" fill="none" stroke="#7d82aa" stroke-width="1.3"/>
<circle cx="1113.4" cy="444.3" r="5.4" fill="none" stroke="#7d82aa" stroke-width="1.3"/>
<circle cx="1106.2" cy="450.8" r="5.4" fill="none" stroke="#7d82aa" stroke-width="1.3"/>
<circle cx="1153.1" cy="427.9" r="5.4" fill="none" stroke="#7d82aa" stroke-width="1.3"/>
<circle cx="1143.9" cy="433.4" r="5.4" fill="none" stroke="#7d82aa" stroke-width="1.3"/>
<circle cx="1142.3" cy="442.6" r="5.4" fill="none" stroke="#7d82aa" stroke-width="1.3"/>
<circle cx="1148.2" cy="447.5" r="5.4" fill="none" stroke="#7d82aa" stroke-width="1.3"/>
<circle cx="1147.2" cy="454.1" r="5.4" fill="none" stroke="#7d82aa" stroke-width="1.3"/>
<circle cx="1165.2" cy="432.8" r="5.4" fill="none" stroke="#7d82aa" stroke-width="1.3"/>
<circle cx="1045.6" cy="448.5" r="5.4" fill="none" stroke="#7d82aa" stroke-width="1.3"/>
<circle cx="1083.3" cy="455.7" r="5.4" fill="none" stroke="#7d82aa" stroke-width="1.3"/>
<circle cx="1129.8" cy="455.7" r="5.4" fill="none" stroke="#7d82aa" stroke-width="1.3"/>
<circle cx="1122.6" cy="463.9" r="5.4" fill="none" stroke="#7d82aa" stroke-width="1.3"/>
<circle cx="1108.9" cy="472.1" r="5.4" fill="none" stroke="#7d82aa" stroke-width="1.3"/>
<circle cx="1009.5" cy="482.6" r="5.4" fill="none" stroke="#7d82aa" stroke-width="1.3"/>
<circle cx="1024.3" cy="481.3" r="5.4" fill="none" stroke="#7d82aa" stroke-width="1.3"/>
<circle cx="1043.9" cy="479.3" r="5.4" fill="none" stroke="#7d82aa" stroke-width="1.3"/>
<circle cx="1134" cy="464" r="5.4" fill="none" stroke="#7d82aa" stroke-width="1.3"/>
<circle cx="1140" cy="458" r="5.4" fill="none" stroke="#7d82aa" stroke-width="1.3"/>
<circle cx="1155" cy="446" r="5.4" fill="none" stroke="#7d82aa" stroke-width="1.3"/>
<circle cx="1168" cy="425" r="5.4" fill="none" stroke="#7d82aa" stroke-width="1.3"/>
<circle cx="1185" cy="428" r="5.4" fill="none" stroke="#7d82aa" stroke-width="1.3"/>
<circle cx="1190" cy="430" r="5.4" fill="none" stroke="#7d82aa" stroke-width="1.3"/>
<circle cx="1117" cy="462" r="5.4" fill="none" stroke="#7d82aa" stroke-width="1.3"/>
<circle cx="1100" cy="470" r="5.4" fill="none" stroke="#7d82aa" stroke-width="1.3"/>
<circle cx="1222.6" cy="461.6" r="5.4" fill="none" stroke="#e07070" stroke-width="1.3"/>
<circle cx="1234" cy="460.7" r="5.4" fill="none" stroke="#e07070" stroke-width="1.3"/>
<circle cx="1248.9" cy="472" r="5.4" fill="none" stroke="#e07070" stroke-width="1.3"/>
<circle cx="1280" cy="477" r="5.4" fill="none" stroke="#e07070" stroke-width="1.3"/>
<circle cx="1398" cy="482.6" r="5.4" fill="none" stroke="#e07070" stroke-width="1.3"/>
<circle cx="1262" cy="478" r="5.4" fill="none" stroke="#e07070" stroke-width="1.3"/>
<circle cx="1300" cy="479" r="5.4" fill="none" stroke="#e07070" stroke-width="1.3"/>
<circle cx="1330" cy="481" r="5.4" fill="none" stroke="#e07070" stroke-width="1.3"/>
<circle cx="1356" cy="481" r="5.4" fill="none" stroke="#e07070" stroke-width="1.3"/>
<circle cx="1372" cy="482" r="5.4" fill="none" stroke="#e07070" stroke-width="1.3"/>
<circle cx="1157.2" cy="94.1" r="5.8" fill="none" stroke="#d88a8a" stroke-width="1.6"/>
<circle cx="1157.2" cy="119.6" r="5.8" fill="none" stroke="#8c94b8" stroke-width="1.6"/>
<text x="0" y="0" font-size="29" textLength="235" lengthAdjust="spacingAndGlyphs" transform="translate(1170.5 102.2) scale(1 1.038)">3076 upregulated</text>
<text x="0" y="0" font-size="29" textLength="274" lengthAdjust="spacingAndGlyphs" transform="translate(1170.5 132.1) scale(1 1.038)">2623 downregulated</text>
<text x="0" y="0" font-size="28.6" textLength="440" lengthAdjust="spacingAndGlyphs" transform="translate(975.5 24) scale(1 1.038)" xml:space="preserve">SC-8cP compared  to SC-0.77cP</text>
<line x1="976" y1="28.4" x2="1414.5" y2="28.4" stroke="#000" stroke-width="1.5"/>
<text x="0" y="0" font-size="29" text-anchor="middle" font-weight="bold" transform="translate(935.5 247.5) rotate(-90) scale(1 1.038)">-log<tspan font-size="20" dy="5">10</tspan><tspan dy="-5">[</tspan><tspan font-style="italic">P</tspan>]</text>
<text x="0" y="0" font-size="29.5" text-anchor="middle" font-weight="bold" transform="translate(1206 569) scale(1 1.038)">log<tspan font-size="20" dy="6">2</tspan><tspan dy="-6">[fold change]</tspan></text>
<line x1="1552.6" y1="53" x2="1552.6" y2="487.3" stroke="#6e6e6e" stroke-width="1.5"/>
<line x1="1552.6" y1="487.3" x2="1945" y2="487.3" stroke="#6e6e6e" stroke-width="1.2"/>
<line x1="1552.6" y1="53.2" x2="1557.6" y2="53.2" stroke="#6e6e6e" stroke-width="1.3"/>
<line x1="1552.6" y1="125.6" x2="1557.6" y2="125.6" stroke="#6e6e6e" stroke-width="1.3"/>
<line x1="1552.6" y1="197.9" x2="1557.6" y2="197.9" stroke="#6e6e6e" stroke-width="1.3"/>
<line x1="1552.6" y1="270.2" x2="1557.6" y2="270.2" stroke="#6e6e6e" stroke-width="1.3"/>
<line x1="1552.6" y1="342.6" x2="1557.6" y2="342.6" stroke="#6e6e6e" stroke-width="1.3"/>
<line x1="1552.6" y1="414.9" x2="1557.6" y2="414.9" stroke="#6e6e6e" stroke-width="1.3"/>
<line x1="1573.3" y1="487.3" x2="1573.3" y2="483.3" stroke="#6e6e6e" stroke-width="1.3"/>
<line x1="1634.8" y1="487.3" x2="1634.8" y2="483.3" stroke="#6e6e6e" stroke-width="1.3"/>
<line x1="1696.4" y1="487.3" x2="1696.4" y2="483.3" stroke="#6e6e6e" stroke-width="1.3"/>
<line x1="1757.9" y1="487.3" x2="1757.9" y2="483.3" stroke="#6e6e6e" stroke-width="1.3"/>
<line x1="1819.4" y1="487.3" x2="1819.4" y2="483.3" stroke="#6e6e6e" stroke-width="1.3"/>
<line x1="1881" y1="487.3" x2="1881" y2="483.3" stroke="#6e6e6e" stroke-width="1.3"/>
<text x="0" y="0" font-size="29.5" text-anchor="end" transform="translate(1549 63.8) scale(1 1.038)">300</text>
<text x="0" y="0" font-size="29.5" text-anchor="end" transform="translate(1549 136.2) scale(1 1.038)">250</text>
<text x="0" y="0" font-size="29.5" text-anchor="end" transform="translate(1549 208.5) scale(1 1.038)">200</text>
<text x="0" y="0" font-size="29.5" text-anchor="end" transform="translate(1549 280.9) scale(1 1.038)">150</text>
<text x="0" y="0" font-size="29.5" text-anchor="end" transform="translate(1549 353.2) scale(1 1.038)">100</text>
<text x="0" y="0" font-size="29.5" text-anchor="end" transform="translate(1549 425.6) scale(1 1.038)">50</text>
<text x="0" y="0" font-size="29.5" text-anchor="end" transform="translate(1549 505) scale(1 1.038)">0</text>
<text x="0" y="0" font-size="29.5" text-anchor="middle" transform="translate(1571.3 517) scale(1 1.038)">-6</text>
<text x="0" y="0" font-size="29.5" text-anchor="middle" transform="translate(1632.8 517) scale(1 1.038)">-4</text>
<text x="0" y="0" font-size="29.5" text-anchor="middle" transform="translate(1694.4 517) scale(1 1.038)">-2</text>
<text x="0" y="0" font-size="29.5" text-anchor="middle" transform="translate(1757.9 517) scale(1 1.038)">0</text>
<text x="0" y="0" font-size="29.5" text-anchor="middle" transform="translate(1819.4 517) scale(1 1.038)">2</text>
<text x="0" y="0" font-size="29.5" text-anchor="middle" transform="translate(1881 517) scale(1 1.038)">4</text>
<circle cx="1686.6" cy="483.6" r="5.4" fill="none" stroke="#7d82aa" stroke-width="1.3" stroke-opacity="0.85"/>
<circle cx="1609.9" cy="479.3" r="5.4" fill="none" stroke="#7d82aa" stroke-width="1.3" stroke-opacity="0.85"/>
<circle cx="1623.1" cy="483.7" r="5.4" fill="none" stroke="#7d82aa" stroke-width="1.3" stroke-opacity="0.85"/>
<circle cx="1661.4" cy="482.6" r="5.4" fill="none" stroke="#7d82aa" stroke-width="1.3" stroke-opacity="0.85"/>
<circle cx="1680.9" cy="483.1" r="5.4" fill="none" stroke="#7d82aa" stroke-width="1.3" stroke-opacity="0.85"/>
<circle cx="1686.7" cy="482.7" r="5.4" fill="none" stroke="#7d82aa" stroke-width="1.3" stroke-opacity="0.85"/>
<circle cx="1657.3" cy="479.6" r="5.4" fill="none" stroke="#7d82aa" stroke-width="1.3" stroke-opacity="0.85"/>
<circle cx="1664.2" cy="479.7" r="5.4" fill="none" stroke="#7d82aa" stroke-width="1.3" stroke-opacity="0.85"/>
<circle cx="1666.1" cy="484.1" r="5.4" fill="none" stroke="#7d82aa" stroke-width="1.3" stroke-opacity="0.85"/>
<circle cx="1680.3" cy="481.4" r="5.4" fill="none" stroke="#7d82aa" stroke-width="1.3" stroke-opacity="0.85"/>
<circle cx="1633.5" cy="483.3" r="5.4" fill="none" stroke="#7d82aa" stroke-width="1.3" stroke-opacity="0.85"/>
<circle cx="1677.7" cy="481.4" r="5.4" fill="none" stroke="#7d82aa" stroke-width="1.3" stroke-opacity="0.85"/>
<circle cx="1684.9" cy="480.4" r="5.4" fill="none" stroke="#7d82aa" stroke-width="1.3" stroke-opacity="0.85"/>
<circle cx="1686.8" cy="481.5" r="5.4" fill="none" stroke="#7d82aa" stroke-width="1.3" stroke-opacity="0.85"/>
<circle cx="1665.3" cy="481.2" r="5.4" fill="none" stroke="#7d82aa" stroke-width="1.3" stroke-opacity="0.85"/>
<circle cx="1629.2" cy="479.5" r="5.4" fill="none" stroke="#7d82aa" stroke-width="1.3" stroke-opacity="0.85"/>
<circle cx="1633.6" cy="480.4" r="5.4" fill="none" stroke="#7d82aa" stroke-width="1.3" stroke-opacity="0.85"/>
<circle cx="1686.3" cy="481" r="5.4" fill="none" stroke="#7d82aa" stroke-width="1.3" stroke-opacity="0.85"/>
<circle cx="1619.7" cy="480.2" r="5.4" fill="none" stroke="#7d82aa" stroke-width="1.3" stroke-opacity="0.85"/>
<circle cx="1662.7" cy="483.4" r="5.4" fill="none" stroke="#7d82aa" stroke-width="1.3" stroke-opacity="0.85"/>
<circle cx="1612" cy="481.6" r="5.4" fill="none" stroke="#7d82aa" stroke-width="1.3" stroke-opacity="0.85"/>
<circle cx="1610.6" cy="479.7" r="5.4" fill="none" stroke="#7d82aa" stroke-width="1.3" stroke-opacity="0.85"/>
<circle cx="1649.5" cy="481.7" r="5.4" fill="none" stroke="#7d82aa" stroke-width="1.3" stroke-opacity="0.85"/>
<circle cx="1641.6" cy="481" r="5.4" fill="none" stroke="#7d82aa" stroke-width="1.3" stroke-opacity="0.85"/>
<circle cx="1683.2" cy="482.8" r="5.4" fill="none" stroke="#7d82aa" stroke-width="1.3" stroke-opacity="0.85"/>
<circle cx="1638.6" cy="481.4" r="5.4" fill="none" stroke="#7d82aa" stroke-width="1.3" stroke-opacity="0.85"/>
<circle cx="1632.4" cy="481.3" r="5.4" fill="none" stroke="#7d82aa" stroke-width="1.3" stroke-opacity="0.85"/>
<circle cx="1652.5" cy="482.1" r="5.4" fill="none" stroke="#7d82aa" stroke-width="1.3" stroke-opacity="0.85"/>
<circle cx="1663.2" cy="481.7" r="5.4" fill="none" stroke="#7d82aa" stroke-width="1.3" stroke-opacity="0.85"/>
<circle cx="1615.2" cy="479.3" r="5.4" fill="none" stroke="#7d82aa" stroke-width="1.3" stroke-opacity="0.85"/>
<circle cx="1637.2" cy="482.1" r="5.4" fill="none" stroke="#7d82aa" stroke-width="1.3" stroke-opacity="0.85"/>
<circle cx="1641" cy="479.7" r="5.4" fill="none" stroke="#7d82aa" stroke-width="1.3" stroke-opacity="0.85"/>
<circle cx="1686.1" cy="481.7" r="5.4" fill="none" stroke="#7d82aa" stroke-width="1.3" stroke-opacity="0.85"/>
<circle cx="1640.9" cy="483.8" r="5.4" fill="none" stroke="#7d82aa" stroke-width="1.3" stroke-opacity="0.85"/>
<circle cx="1681.4" cy="483.4" r="5.4" fill="none" stroke="#7d82aa" stroke-width="1.3" stroke-opacity="0.85"/>
<circle cx="1652.8" cy="482.6" r="5.4" fill="none" stroke="#7d82aa" stroke-width="1.3" stroke-opacity="0.85"/>
<circle cx="1634.9" cy="482.5" r="5.4" fill="none" stroke="#7d82aa" stroke-width="1.3" stroke-opacity="0.85"/>
<circle cx="1623.7" cy="484.1" r="5.4" fill="none" stroke="#7d82aa" stroke-width="1.3" stroke-opacity="0.85"/>
<circle cx="1651.9" cy="480.3" r="5.4" fill="none" stroke="#7d82aa" stroke-width="1.3" stroke-opacity="0.85"/>
<circle cx="1661.1" cy="483.3" r="5.4" fill="none" stroke="#7d82aa" stroke-width="1.3" stroke-opacity="0.85"/>
<circle cx="1902" cy="484" r="5.4" fill="none" stroke="#e07070" stroke-width="1.3" stroke-opacity="0.85"/>
<circle cx="1880.8" cy="479.3" r="5.4" fill="none" stroke="#e07070" stroke-width="1.3" stroke-opacity="0.85"/>
<circle cx="1919.1" cy="481.5" r="5.4" fill="none" stroke="#e07070" stroke-width="1.3" stroke-opacity="0.85"/>
<circle cx="1913.5" cy="481.3" r="5.4" fill="none" stroke="#e07070" stroke-width="1.3" stroke-opacity="0.85"/>
<circle cx="1889.3" cy="480.8" r="5.4" fill="none" stroke="#e07070" stroke-width="1.3" stroke-opacity="0.85"/>
<circle cx="1924.3" cy="479.8" r="5.4" fill="none" stroke="#e07070" stroke-width="1.3" stroke-opacity="0.85"/>
<circle cx="1885.5" cy="479.9" r="5.4" fill="none" stroke="#e07070" stroke-width="1.3" stroke-opacity="0.85"/>
<circle cx="1898.2" cy="482.2" r="5.4" fill="none" stroke="#e07070" stroke-width="1.3" stroke-opacity="0.85"/>
<circle cx="1908.8" cy="479.4" r="5.4" fill="none" stroke="#e07070" stroke-width="1.3" stroke-opacity="0.85"/>
<circle cx="1895.6" cy="478.6" r="5.4" fill="none" stroke="#e07070" stroke-width="1.3" stroke-opacity="0.85"/>
<circle cx="1851.4" cy="481.3" r="5.4" fill="none" stroke="#e07070" stroke-width="1.3" stroke-opacity="0.85"/>
<circle cx="1897.6" cy="482.3" r="5.4" fill="none" stroke="#e07070" stroke-width="1.3" stroke-opacity="0.85"/>
<circle cx="1862.9" cy="480.1" r="5.4" fill="none" stroke="#e07070" stroke-width="1.3" stroke-opacity="0.85"/>
<circle cx="1882.6" cy="482.7" r="5.4" fill="none" stroke="#e07070" stroke-width="1.3" stroke-opacity="0.85"/>
<circle cx="1853.1" cy="478.5" r="5.4" fill="none" stroke="#e07070" stroke-width="1.3" stroke-opacity="0.85"/>
<circle cx="1876.4" cy="483.6" r="5.4" fill="none" stroke="#e07070" stroke-width="1.3" stroke-opacity="0.85"/>
<circle cx="1866.2" cy="482.8" r="5.4" fill="none" stroke="#e07070" stroke-width="1.3" stroke-opacity="0.85"/>
<circle cx="1915" cy="483.2" r="5.4" fill="none" stroke="#e07070" stroke-width="1.3" stroke-opacity="0.85"/>
<circle cx="1870.7" cy="483.7" r="5.4" fill="none" stroke="#e07070" stroke-width="1.3" stroke-opacity="0.85"/>
<circle cx="1885.2" cy="483.1" r="5.4" fill="none" stroke="#e07070" stroke-width="1.3" stroke-opacity="0.85"/>
<circle cx="1875.8" cy="479.9" r="5.4" fill="none" stroke="#e07070" stroke-width="1.3" stroke-opacity="0.85"/>
<circle cx="1919.4" cy="479.3" r="5.4" fill="none" stroke="#e07070" stroke-width="1.3" stroke-opacity="0.85"/>
<circle cx="1852.9" cy="482" r="5.4" fill="none" stroke="#e07070" stroke-width="1.3" stroke-opacity="0.85"/>
<circle cx="1913.7" cy="484.1" r="5.4" fill="none" stroke="#e07070" stroke-width="1.3" stroke-opacity="0.85"/>
<circle cx="1865.2" cy="481.4" r="5.4" fill="none" stroke="#e07070" stroke-width="1.3" stroke-opacity="0.85"/>
<circle cx="1878.7" cy="479.8" r="5.4" fill="none" stroke="#e07070" stroke-width="1.3" stroke-opacity="0.85"/>
<circle cx="1903.9" cy="481.5" r="5.4" fill="none" stroke="#e07070" stroke-width="1.3" stroke-opacity="0.85"/>
<circle cx="1868.7" cy="482.9" r="5.4" fill="none" stroke="#e07070" stroke-width="1.3" stroke-opacity="0.85"/>
<circle cx="1870" cy="483.9" r="5.4" fill="none" stroke="#e07070" stroke-width="1.3" stroke-opacity="0.85"/>
<circle cx="1899.9" cy="483.4" r="5.4" fill="none" stroke="#e07070" stroke-width="1.3" stroke-opacity="0.85"/>
<circle cx="1916.7" cy="480.4" r="5.4" fill="none" stroke="#e07070" stroke-width="1.3" stroke-opacity="0.85"/>
<circle cx="1854.3" cy="481.3" r="5.4" fill="none" stroke="#e07070" stroke-width="1.3" stroke-opacity="0.85"/>
<circle cx="1895.3" cy="484" r="5.4" fill="none" stroke="#e07070" stroke-width="1.3" stroke-opacity="0.85"/>
<circle cx="1886.5" cy="484.1" r="5.4" fill="none" stroke="#e07070" stroke-width="1.3" stroke-opacity="0.85"/>
<circle cx="1907.5" cy="484.3" r="5.4" fill="none" stroke="#e07070" stroke-width="1.3" stroke-opacity="0.85"/>
<circle cx="1897.4" cy="478.4" r="5.4" fill="none" stroke="#e07070" stroke-width="1.3" stroke-opacity="0.85"/>
<circle cx="1913.5" cy="482.9" r="5.4" fill="none" stroke="#e07070" stroke-width="1.3" stroke-opacity="0.85"/>
<circle cx="1890.1" cy="483.5" r="5.4" fill="none" stroke="#e07070" stroke-width="1.3" stroke-opacity="0.85"/>
<circle cx="1875.7" cy="479.1" r="5.4" fill="none" stroke="#e07070" stroke-width="1.3" stroke-opacity="0.85"/>
<circle cx="1911.3" cy="484.2" r="5.4" fill="none" stroke="#e07070" stroke-width="1.3" stroke-opacity="0.85"/>
<circle cx="1878.5" cy="480.5" r="5.4" fill="none" stroke="#e07070" stroke-width="1.3" stroke-opacity="0.85"/>
<circle cx="1863.2" cy="479.5" r="5.4" fill="none" stroke="#e07070" stroke-width="1.3" stroke-opacity="0.85"/>
<circle cx="1917" cy="481" r="5.4" fill="none" stroke="#e07070" stroke-width="1.3" stroke-opacity="0.85"/>
<circle cx="1877.2" cy="479.2" r="5.4" fill="none" stroke="#e07070" stroke-width="1.3" stroke-opacity="0.85"/>
<circle cx="1888.5" cy="483.2" r="5.4" fill="none" stroke="#e07070" stroke-width="1.3" stroke-opacity="0.85"/>
<circle cx="1870.8" cy="483.3" r="5.4" fill="none" stroke="#e07070" stroke-width="1.3" stroke-opacity="0.85"/>
<circle cx="1912.9" cy="481.2" r="5.4" fill="none" stroke="#e07070" stroke-width="1.3" stroke-opacity="0.85"/>
<circle cx="1902.2" cy="479.4" r="5.4" fill="none" stroke="#e07070" stroke-width="1.3" stroke-opacity="0.85"/>
<circle cx="1923" cy="483.2" r="5.4" fill="none" stroke="#e07070" stroke-width="1.3" stroke-opacity="0.85"/>
<circle cx="1880.4" cy="479.1" r="5.4" fill="none" stroke="#e07070" stroke-width="1.3" stroke-opacity="0.85"/>
<circle cx="1907.1" cy="482" r="5.4" fill="none" stroke="#e07070" stroke-width="1.3" stroke-opacity="0.85"/>
<circle cx="1899.2" cy="483.1" r="5.4" fill="none" stroke="#e07070" stroke-width="1.3" stroke-opacity="0.85"/>
<circle cx="1862.1" cy="484" r="5.4" fill="none" stroke="#e07070" stroke-width="1.3" stroke-opacity="0.85"/>
<circle cx="1878.5" cy="482.9" r="5.4" fill="none" stroke="#e07070" stroke-width="1.3" stroke-opacity="0.85"/>
<circle cx="1888.8" cy="478.5" r="5.4" fill="none" stroke="#e07070" stroke-width="1.3" stroke-opacity="0.85"/>
<circle cx="1861.5" cy="481" r="5.4" fill="none" stroke="#e07070" stroke-width="1.3" stroke-opacity="0.85"/>
<circle cx="1914.8" cy="480.7" r="5.4" fill="none" stroke="#e07070" stroke-width="1.3" stroke-opacity="0.85"/>
<circle cx="1889.5" cy="479.7" r="5.4" fill="none" stroke="#e07070" stroke-width="1.3" stroke-opacity="0.85"/>
<circle cx="1851.6" cy="478.6" r="5.4" fill="none" stroke="#e07070" stroke-width="1.3" stroke-opacity="0.85"/>
<circle cx="1901.5" cy="479.5" r="5.4" fill="none" stroke="#e07070" stroke-width="1.3" stroke-opacity="0.85"/>
<path d="M1690 491 L1690 490 L1697 480 L1704 470 L1716 458 L1726.5 447 L1737 444.5 L1747.6 450.5 L1751.8 461 L1756 473.5 L1759.5 490 L1759.5 491 Z" fill="#3d55ad"/>
<path d="M1760.5 491 L1760.5 490 L1762 470 L1766.5 443.2 L1770.7 428.5 L1781.3 424.3 L1789.7 437 L1796 447.5 L1802.4 460 L1810.8 468.5 L1831.9 474.9 L1853 479 L1874 482.2 L1895 484.3 L1915 487 L1925 490 L1925 491 Z" fill="#ec2222"/>
<circle cx="1737.7" cy="438.4" r="5.4" fill="none" stroke="#3d55ad" stroke-width="1.3" stroke-opacity="0.85"/>
<circle cx="1680.1" cy="477.9" r="5.4" fill="none" stroke="#3d55ad" stroke-width="1.3" stroke-opacity="0.85"/>
<circle cx="1713.4" cy="463.6" r="5.4" fill="none" stroke="#3d55ad" stroke-width="1.3" stroke-opacity="0.85"/>
<circle cx="1744.1" cy="445.9" r="5.4" fill="none" stroke="#3d55ad" stroke-width="1.3" stroke-opacity="0.85"/>
<circle cx="1722.3" cy="452.1" r="5.4" fill="none" stroke="#3d55ad" stroke-width="1.3" stroke-opacity="0.85"/>
<circle cx="1700.3" cy="474.3" r="5.4" fill="none" stroke="#3d55ad" stroke-width="1.3" stroke-opacity="0.85"/>
<circle cx="1746.6" cy="450.5" r="5.4" fill="none" stroke="#3d55ad" stroke-width="1.3" stroke-opacity="0.85"/>
<circle cx="1743.5" cy="448.9" r="5.4" fill="none" stroke="#3d55ad" stroke-width="1.3" stroke-opacity="0.85"/>
<circle cx="1724.6" cy="445.6" r="5.4" fill="none" stroke="#3d55ad" stroke-width="1.3" stroke-opacity="0.85"/>
<circle cx="1696.4" cy="470.5" r="5.4" fill="none" stroke="#3d55ad" stroke-width="1.3" stroke-opacity="0.85"/>
<circle cx="1679.4" cy="484.9" r="5.4" fill="none" stroke="#3d55ad" stroke-width="1.3" stroke-opacity="0.85"/>
<circle cx="1697.7" cy="467.6" r="5.4" fill="none" stroke="#3d55ad" stroke-width="1.3" stroke-opacity="0.85"/>
<circle cx="1699" cy="467.4" r="5.4" fill="none" stroke="#3d55ad" stroke-width="1.3" stroke-opacity="0.85"/>
<circle cx="1708.8" cy="461.7" r="5.4" fill="none" stroke="#3d55ad" stroke-width="1.3" stroke-opacity="0.85"/>
<circle cx="1688.3" cy="477.8" r="5.4" fill="none" stroke="#3d55ad" stroke-width="1.3" stroke-opacity="0.85"/>
<circle cx="1706.5" cy="463.8" r="5.4" fill="none" stroke="#3d55ad" stroke-width="1.3" stroke-opacity="0.85"/>
<circle cx="1736.8" cy="439.8" r="5.4" fill="none" stroke="#3d55ad" stroke-width="1.3" stroke-opacity="0.85"/>
<circle cx="1716.1" cy="460.7" r="5.4" fill="none" stroke="#3d55ad" stroke-width="1.3" stroke-opacity="0.85"/>
<circle cx="1747.9" cy="448.3" r="5.4" fill="none" stroke="#3d55ad" stroke-width="1.3" stroke-opacity="0.85"/>
<circle cx="1678.1" cy="485.5" r="5.4" fill="none" stroke="#3d55ad" stroke-width="1.3" stroke-opacity="0.85"/>
<circle cx="1714.1" cy="456.5" r="5.4" fill="none" stroke="#3d55ad" stroke-width="1.3" stroke-opacity="0.85"/>
<circle cx="1684.7" cy="476.9" r="5.4" fill="none" stroke="#3d55ad" stroke-width="1.3" stroke-opacity="0.85"/>
<circle cx="1698.6" cy="468" r="5.4" fill="none" stroke="#3d55ad" stroke-width="1.3" stroke-opacity="0.85"/>
<circle cx="1678.7" cy="485.7" r="5.4" fill="none" stroke="#3d55ad" stroke-width="1.3" stroke-opacity="0.85"/>
<circle cx="1737.3" cy="438.3" r="5.4" fill="none" stroke="#3d55ad" stroke-width="1.3" stroke-opacity="0.85"/>
<circle cx="1711.5" cy="463.8" r="5.4" fill="none" stroke="#3d55ad" stroke-width="1.3" stroke-opacity="0.85"/>
<circle cx="1713.3" cy="455.8" r="5.4" fill="none" stroke="#3d55ad" stroke-width="1.3" stroke-opacity="0.85"/>
<circle cx="1700.8" cy="468.6" r="5.4" fill="none" stroke="#3d55ad" stroke-width="1.3" stroke-opacity="0.85"/>
<circle cx="1744.5" cy="447.7" r="5.4" fill="none" stroke="#3d55ad" stroke-width="1.3" stroke-opacity="0.85"/>
<circle cx="1709.9" cy="463.6" r="5.4" fill="none" stroke="#3d55ad" stroke-width="1.3" stroke-opacity="0.85"/>
<circle cx="1678.7" cy="482.9" r="5.4" fill="none" stroke="#3d55ad" stroke-width="1.3" stroke-opacity="0.85"/>
<circle cx="1736.4" cy="443.3" r="5.4" fill="none" stroke="#3d55ad" stroke-width="1.3" stroke-opacity="0.85"/>
<circle cx="1702.4" cy="466.4" r="5.4" fill="none" stroke="#3d55ad" stroke-width="1.3" stroke-opacity="0.85"/>
<circle cx="1675.8" cy="478.5" r="5.4" fill="none" stroke="#3d55ad" stroke-width="1.3" stroke-opacity="0.85"/>
<circle cx="1686.7" cy="478.2" r="5.4" fill="none" stroke="#3d55ad" stroke-width="1.3" stroke-opacity="0.85"/>
<circle cx="1734.1" cy="440" r="5.4" fill="none" stroke="#3d55ad" stroke-width="1.3" stroke-opacity="0.85"/>
<circle cx="1710.9" cy="462.8" r="5.4" fill="none" stroke="#3d55ad" stroke-width="1.3" stroke-opacity="0.85"/>
<circle cx="1722.8" cy="445" r="5.4" fill="none" stroke="#3d55ad" stroke-width="1.3" stroke-opacity="0.85"/>
<circle cx="1745" cy="448.1" r="5.4" fill="none" stroke="#3d55ad" stroke-width="1.3" stroke-opacity="0.85"/>
<circle cx="1698" cy="469.3" r="5.4" fill="none" stroke="#3d55ad" stroke-width="1.3" stroke-opacity="0.85"/>
<circle cx="1727.4" cy="448.9" r="5.4" fill="none" stroke="#3d55ad" stroke-width="1.3" stroke-opacity="0.85"/>
<circle cx="1700.6" cy="468.8" r="5.4" fill="none" stroke="#3d55ad" stroke-width="1.3" stroke-opacity="0.85"/>
<circle cx="1717.3" cy="453" r="5.4" fill="none" stroke="#3d55ad" stroke-width="1.3" stroke-opacity="0.85"/>
<circle cx="1705.8" cy="469.4" r="5.4" fill="none" stroke="#3d55ad" stroke-width="1.3" stroke-opacity="0.85"/>
<circle cx="1717.3" cy="458.9" r="5.4" fill="none" stroke="#3d55ad" stroke-width="1.3" stroke-opacity="0.85"/>
<circle cx="1694.9" cy="477.3" r="5.4" fill="none" stroke="#3d55ad" stroke-width="1.3" stroke-opacity="0.85"/>
<circle cx="1734.5" cy="439.9" r="5.4" fill="none" stroke="#3d55ad" stroke-width="1.3" stroke-opacity="0.85"/>
<circle cx="1715.3" cy="459.7" r="5.4" fill="none" stroke="#3d55ad" stroke-width="1.3" stroke-opacity="0.85"/>
<circle cx="1718.5" cy="455.4" r="5.4" fill="none" stroke="#3d55ad" stroke-width="1.3" stroke-opacity="0.85"/>
<circle cx="1693.2" cy="475.6" r="5.4" fill="none" stroke="#3d55ad" stroke-width="1.3" stroke-opacity="0.85"/>
<circle cx="1701.9" cy="471.4" r="5.4" fill="none" stroke="#3d55ad" stroke-width="1.3" stroke-opacity="0.85"/>
<circle cx="1703.3" cy="472" r="5.4" fill="none" stroke="#3d55ad" stroke-width="1.3" stroke-opacity="0.85"/>
<circle cx="1719.1" cy="451.3" r="5.4" fill="none" stroke="#3d55ad" stroke-width="1.3" stroke-opacity="0.85"/>
<circle cx="1706.6" cy="461.7" r="5.4" fill="none" stroke="#3d55ad" stroke-width="1.3" stroke-opacity="0.85"/>
<circle cx="1731" cy="439.6" r="5.4" fill="none" stroke="#3d55ad" stroke-width="1.3" stroke-opacity="0.85"/>
<circle cx="1721" cy="449.8" r="5.4" fill="none" stroke="#3d55ad" stroke-width="1.3" stroke-opacity="0.85"/>
<circle cx="1734.1" cy="439.2" r="5.4" fill="none" stroke="#3d55ad" stroke-width="1.3" stroke-opacity="0.85"/>
<circle cx="1726.7" cy="447.2" r="5.4" fill="none" stroke="#3d55ad" stroke-width="1.3" stroke-opacity="0.85"/>
<circle cx="1692.7" cy="472.2" r="5.4" fill="none" stroke="#3d55ad" stroke-width="1.3" stroke-opacity="0.85"/>
<circle cx="1703.3" cy="469" r="5.4" fill="none" stroke="#3d55ad" stroke-width="1.3" stroke-opacity="0.85"/>
<circle cx="1694.8" cy="469.6" r="5.4" fill="none" stroke="#3d55ad" stroke-width="1.3" stroke-opacity="0.85"/>
<circle cx="1708.5" cy="466.2" r="5.4" fill="none" stroke="#3d55ad" stroke-width="1.3" stroke-opacity="0.85"/>
<circle cx="1687" cy="482.5" r="5.4" fill="none" stroke="#3d55ad" stroke-width="1.3" stroke-opacity="0.85"/>
<circle cx="1713.6" cy="456.3" r="5.4" fill="none" stroke="#3d55ad" stroke-width="1.3" stroke-opacity="0.85"/>
<circle cx="1682.6" cy="478.8" r="5.4" fill="none" stroke="#3d55ad" stroke-width="1.3" stroke-opacity="0.85"/>
<circle cx="1711.2" cy="458.4" r="5.4" fill="none" stroke="#3d55ad" stroke-width="1.3" stroke-opacity="0.85"/>
<circle cx="1681.4" cy="480.4" r="5.4" fill="none" stroke="#3d55ad" stroke-width="1.3" stroke-opacity="0.85"/>
<circle cx="1694.3" cy="473.9" r="5.4" fill="none" stroke="#3d55ad" stroke-width="1.3" stroke-opacity="0.85"/>
<circle cx="1709.3" cy="464.7" r="5.4" fill="none" stroke="#3d55ad" stroke-width="1.3" stroke-opacity="0.85"/>
<circle cx="1718.9" cy="451.6" r="5.4" fill="none" stroke="#3d55ad" stroke-width="1.3" stroke-opacity="0.85"/>
<circle cx="1790.3" cy="433.5" r="5.4" fill="none" stroke="#ec2222" stroke-width="1.3" stroke-opacity="0.85"/>
<circle cx="1774.3" cy="420" r="5.4" fill="none" stroke="#ec2222" stroke-width="1.3" stroke-opacity="0.85"/>
<circle cx="1776.7" cy="424.2" r="5.4" fill="none" stroke="#ec2222" stroke-width="1.3" stroke-opacity="0.85"/>
<circle cx="1835.1" cy="477.3" r="5.4" fill="none" stroke="#ec2222" stroke-width="1.3" stroke-opacity="0.85"/>
<circle cx="1845.7" cy="475.6" r="5.4" fill="none" stroke="#ec2222" stroke-width="1.3" stroke-opacity="0.85"/>
<circle cx="1821.4" cy="470.8" r="5.4" fill="none" stroke="#ec2222" stroke-width="1.3" stroke-opacity="0.85"/>
<circle cx="1796.7" cy="446.6" r="5.4" fill="none" stroke="#ec2222" stroke-width="1.3" stroke-opacity="0.85"/>
<circle cx="1818.5" cy="464.2" r="5.4" fill="none" stroke="#ec2222" stroke-width="1.3" stroke-opacity="0.85"/>
<circle cx="1810.6" cy="465" r="5.4" fill="none" stroke="#ec2222" stroke-width="1.3" stroke-opacity="0.85"/>
<circle cx="1786.2" cy="428.6" r="5.4" fill="none" stroke="#ec2222" stroke-width="1.3" stroke-opacity="0.85"/>
<circle cx="1882.8" cy="484.4" r="5.4" fill="none" stroke="#ec2222" stroke-width="1.3" stroke-opacity="0.85"/>
<circle cx="1880.2" cy="485.4" r="5.4" fill="none" stroke="#ec2222" stroke-width="1.3" stroke-opacity="0.85"/>
<circle cx="1834.7" cy="471" r="5.4" fill="none" stroke="#ec2222" stroke-width="1.3" stroke-opacity="0.85"/>
<circle cx="1886.1" cy="488.1" r="5.4" fill="none" stroke="#ec2222" stroke-width="1.3" stroke-opacity="0.85"/>
<circle cx="1824" cy="469" r="5.4" fill="none" stroke="#ec2222" stroke-width="1.3" stroke-opacity="0.85"/>
<circle cx="1777.1" cy="422.3" r="5.4" fill="none" stroke="#ec2222" stroke-width="1.3" stroke-opacity="0.85"/>
<circle cx="1874" cy="482.1" r="5.4" fill="none" stroke="#ec2222" stroke-width="1.3" stroke-opacity="0.85"/>
<circle cx="1803.8" cy="456.9" r="5.4" fill="none" stroke="#ec2222" stroke-width="1.3" stroke-opacity="0.85"/>
<circle cx="1866.4" cy="478.9" r="5.4" fill="none" stroke="#ec2222" stroke-width="1.3" stroke-opacity="0.85"/>
<circle cx="1803" cy="456.2" r="5.4" fill="none" stroke="#ec2222" stroke-width="1.3" stroke-opacity="0.85"/>
<circle cx="1773.1" cy="426.3" r="5.4" fill="none" stroke="#ec2222" stroke-width="1.3" stroke-opacity="0.85"/>
<circle cx="1807.1" cy="462.8" r="5.4" fill="none" stroke="#ec2222" stroke-width="1.3" stroke-opacity="0.85"/>
<circle cx="1824.4" cy="467.4" r="5.4" fill="none" stroke="#ec2222" stroke-width="1.3" stroke-opacity="0.85"/>
<circle cx="1770.4" cy="423.5" r="5.4" fill="none" stroke="#ec2222" stroke-width="1.3" stroke-opacity="0.85"/>
<circle cx="1800.3" cy="452.4" r="5.4" fill="none" stroke="#ec2222" stroke-width="1.3" stroke-opacity="0.85"/>
<circle cx="1866.5" cy="482.6" r="5.4" fill="none" stroke="#ec2222" stroke-width="1.3" stroke-opacity="0.85"/>
<circle cx="1806.1" cy="460.2" r="5.4" fill="none" stroke="#ec2222" stroke-width="1.3" stroke-opacity="0.85"/>
<circle cx="1858.8" cy="479" r="5.4" fill="none" stroke="#ec2222" stroke-width="1.3" stroke-opacity="0.85"/>
<circle cx="1778.1" cy="420.5" r="5.4" fill="none" stroke="#ec2222" stroke-width="1.3" stroke-opacity="0.85"/>
<circle cx="1795.5" cy="439.5" r="5.4" fill="none" stroke="#ec2222" stroke-width="1.3" stroke-opacity="0.85"/>
<circle cx="1816.4" cy="463.7" r="5.4" fill="none" stroke="#ec2222" stroke-width="1.3" stroke-opacity="0.85"/>
<circle cx="1879.3" cy="482" r="5.4" fill="none" stroke="#ec2222" stroke-width="1.3" stroke-opacity="0.85"/>
<circle cx="1879.4" cy="485.7" r="5.4" fill="none" stroke="#ec2222" stroke-width="1.3" stroke-opacity="0.85"/>
<circle cx="1769.3" cy="432.6" r="5.4" fill="none" stroke="#ec2222" stroke-width="1.3" stroke-opacity="0.85"/>
<circle cx="1868.4" cy="482.1" r="5.4" fill="none" stroke="#ec2222" stroke-width="1.3" stroke-opacity="0.85"/>
<circle cx="1877.7" cy="483.3" r="5.4" fill="none" stroke="#ec2222" stroke-width="1.3" stroke-opacity="0.85"/>
<circle cx="1771.1" cy="422.1" r="5.4" fill="none" stroke="#ec2222" stroke-width="1.3" stroke-opacity="0.85"/>
<circle cx="1806.5" cy="462.3" r="5.4" fill="none" stroke="#ec2222" stroke-width="1.3" stroke-opacity="0.85"/>
<circle cx="1870.9" cy="479.3" r="5.4" fill="none" stroke="#ec2222" stroke-width="1.3" stroke-opacity="0.85"/>
<circle cx="1811.4" cy="462" r="5.4" fill="none" stroke="#ec2222" stroke-width="1.3" stroke-opacity="0.85"/>
<circle cx="1796.3" cy="442.4" r="5.4" fill="none" stroke="#ec2222" stroke-width="1.3" stroke-opacity="0.85"/>
<circle cx="1819.4" cy="465.4" r="5.4" fill="none" stroke="#ec2222" stroke-width="1.3" stroke-opacity="0.85"/>
<circle cx="1849.5" cy="475.9" r="5.4" fill="none" stroke="#ec2222" stroke-width="1.3" stroke-opacity="0.85"/>
<circle cx="1878.4" cy="483.5" r="5.4" fill="none" stroke="#ec2222" stroke-width="1.3" stroke-opacity="0.85"/>
<circle cx="1821.3" cy="471" r="5.4" fill="none" stroke="#ec2222" stroke-width="1.3" stroke-opacity="0.85"/>
<circle cx="1810.8" cy="462.8" r="5.4" fill="none" stroke="#ec2222" stroke-width="1.3" stroke-opacity="0.85"/>
<circle cx="1783.2" cy="420" r="5.4" fill="none" stroke="#ec2222" stroke-width="1.3" stroke-opacity="0.85"/>
<circle cx="1797.1" cy="446.7" r="5.4" fill="none" stroke="#ec2222" stroke-width="1.3" stroke-opacity="0.85"/>
<circle cx="1812" cy="467" r="5.4" fill="none" stroke="#ec2222" stroke-width="1.3" stroke-opacity="0.85"/>
<circle cx="1802.2" cy="450.1" r="5.4" fill="none" stroke="#ec2222" stroke-width="1.3" stroke-opacity="0.85"/>
<circle cx="1805.8" cy="457.6" r="5.4" fill="none" stroke="#ec2222" stroke-width="1.3" stroke-opacity="0.85"/>
<circle cx="1880.9" cy="481.6" r="5.4" fill="none" stroke="#ec2222" stroke-width="1.3" stroke-opacity="0.85"/>
<circle cx="1794.2" cy="436.4" r="5.4" fill="none" stroke="#ec2222" stroke-width="1.3" stroke-opacity="0.85"/>
<circle cx="1799.4" cy="452.5" r="5.4" fill="none" stroke="#ec2222" stroke-width="1.3" stroke-opacity="0.85"/>
<circle cx="1883.6" cy="482.2" r="5.4" fill="none" stroke="#ec2222" stroke-width="1.3" stroke-opacity="0.85"/>
<circle cx="1774.2" cy="423" r="5.4" fill="none" stroke="#ec2222" stroke-width="1.3" stroke-opacity="0.85"/>
<circle cx="1840.5" cy="472.3" r="5.4" fill="none" stroke="#ec2222" stroke-width="1.3" stroke-opacity="0.85"/>
<circle cx="1819.8" cy="470.5" r="5.4" fill="none" stroke="#ec2222" stroke-width="1.3" stroke-opacity="0.85"/>
<circle cx="1768.2" cy="434.3" r="5.4" fill="none" stroke="#ec2222" stroke-width="1.3" stroke-opacity="0.85"/>
<circle cx="1852.9" cy="481.3" r="5.4" fill="none" stroke="#ec2222" stroke-width="1.3" stroke-opacity="0.85"/>
<circle cx="1828.4" cy="471.3" r="5.4" fill="none" stroke="#ec2222" stroke-width="1.3" stroke-opacity="0.85"/>
<circle cx="1832.3" cy="470.2" r="5.4" fill="none" stroke="#ec2222" stroke-width="1.3" stroke-opacity="0.85"/>
<circle cx="1831.7" cy="470.8" r="5.4" fill="none" stroke="#ec2222" stroke-width="1.3" stroke-opacity="0.85"/>
<circle cx="1807.8" cy="457.4" r="5.4" fill="none" stroke="#ec2222" stroke-width="1.3" stroke-opacity="0.85"/>
<circle cx="1787.7" cy="423.6" r="5.4" fill="none" stroke="#ec2222" stroke-width="1.3" stroke-opacity="0.85"/>
<circle cx="1835.1" cy="471.8" r="5.4" fill="none" stroke="#ec2222" stroke-width="1.3" stroke-opacity="0.85"/>
<circle cx="1836.9" cy="474.4" r="5.4" fill="none" stroke="#ec2222" stroke-width="1.3" stroke-opacity="0.85"/>
<circle cx="1796.9" cy="441.5" r="5.4" fill="none" stroke="#ec2222" stroke-width="1.3" stroke-opacity="0.85"/>
<circle cx="1841.9" cy="477.2" r="5.4" fill="none" stroke="#ec2222" stroke-width="1.3" stroke-opacity="0.85"/>
<circle cx="1853.6" cy="479.2" r="5.4" fill="none" stroke="#ec2222" stroke-width="1.3" stroke-opacity="0.85"/>
<circle cx="1839.9" cy="471.5" r="5.4" fill="none" stroke="#ec2222" stroke-width="1.3" stroke-opacity="0.85"/>
<circle cx="1806" cy="461.1" r="5.4" fill="none" stroke="#ec2222" stroke-width="1.3" stroke-opacity="0.85"/>
<circle cx="1814.8" cy="463.3" r="5.4" fill="none" stroke="#ec2222" stroke-width="1.3" stroke-opacity="0.85"/>
<circle cx="1820.2" cy="471.2" r="5.4" fill="none" stroke="#ec2222" stroke-width="1.3" stroke-opacity="0.85"/>
<circle cx="1780.2" cy="416.4" r="5.4" fill="none" stroke="#ec2222" stroke-width="1.3" stroke-opacity="0.85"/>
<circle cx="1829.8" cy="475.1" r="5.4" fill="none" stroke="#ec2222" stroke-width="1.3" stroke-opacity="0.85"/>
<circle cx="1816.4" cy="465" r="5.4" fill="none" stroke="#ec2222" stroke-width="1.3" stroke-opacity="0.85"/>
<circle cx="1863.2" cy="477.7" r="5.4" fill="none" stroke="#ec2222" stroke-width="1.3" stroke-opacity="0.85"/>
<circle cx="1804.6" cy="457.8" r="5.4" fill="none" stroke="#ec2222" stroke-width="1.3" stroke-opacity="0.85"/>
<circle cx="1873.3" cy="485.8" r="5.4" fill="none" stroke="#ec2222" stroke-width="1.3" stroke-opacity="0.85"/>
<circle cx="1703.3" cy="306.5" r="5.4" fill="none" stroke="#7d82aa" stroke-width="1.3"/>
<circle cx="1730.5" cy="372.1" r="5.4" fill="none" stroke="#7d82aa" stroke-width="1.3"/>
<circle cx="1694.4" cy="409.3" r="5.4" fill="none" stroke="#7d82aa" stroke-width="1.3"/>
<circle cx="1705.6" cy="422.5" r="5.4" fill="none" stroke="#7d82aa" stroke-width="1.3"/>
<circle cx="1675.2" cy="454" r="5.4" fill="none" stroke="#7d82aa" stroke-width="1.3"/>
<circle cx="1552.6" cy="479.5" r="5.4" fill="none" stroke="#7d82aa" stroke-width="1.3"/>
<circle cx="1719.9" cy="432.4" r="5.4" fill="none" stroke="#7d82aa" stroke-width="1.3"/>
<circle cx="1730" cy="432.4" r="5.4" fill="none" stroke="#7d82aa" stroke-width="1.3"/>
<circle cx="1740" cy="434" r="5.4" fill="none" stroke="#7d82aa" stroke-width="1.3"/>
<circle cx="1715" cy="444" r="5.4" fill="none" stroke="#7d82aa" stroke-width="1.3"/>
<circle cx="1700" cy="460" r="5.4" fill="none" stroke="#7d82aa" stroke-width="1.3"/>
<circle cx="1710" cy="458" r="5.4" fill="none" stroke="#7d82aa" stroke-width="1.3"/>
<circle cx="1692" cy="466" r="5.4" fill="none" stroke="#7d82aa" stroke-width="1.3"/>
<circle cx="1684" cy="470" r="5.4" fill="none" stroke="#7d82aa" stroke-width="1.3"/>
<circle cx="1666" cy="478" r="5.4" fill="none" stroke="#7d82aa" stroke-width="1.3"/>
<circle cx="1650" cy="481" r="5.4" fill="none" stroke="#7d82aa" stroke-width="1.3"/>
<circle cx="1630" cy="482" r="5.4" fill="none" stroke="#7d82aa" stroke-width="1.3"/>
<circle cx="1615" cy="482" r="5.4" fill="none" stroke="#7d82aa" stroke-width="1.3"/>
<circle cx="1792.1" cy="317.5" r="5.4" fill="none" stroke="#e07070" stroke-width="1.3"/>
<circle cx="1783.9" cy="357.2" r="5.4" fill="none" stroke="#e07070" stroke-width="1.3"/>
<circle cx="1792.8" cy="368.5" r="5.4" fill="none" stroke="#e07070" stroke-width="1.3"/>
<circle cx="1788" cy="384.4" r="5.4" fill="none" stroke="#e07070" stroke-width="1.3"/>
<circle cx="1792" cy="384.4" r="5.4" fill="none" stroke="#e07070" stroke-width="1.3"/>
<circle cx="1783.9" cy="397.7" r="5.4" fill="none" stroke="#e07070" stroke-width="1.3"/>
<circle cx="1789" cy="404" r="5.4" fill="none" stroke="#e07070" stroke-width="1.3"/>
<circle cx="1834.2" cy="392" r="5.4" fill="none" stroke="#e07070" stroke-width="1.3"/>
<circle cx="1833.6" cy="401.6" r="5.4" fill="none" stroke="#e07070" stroke-width="1.3"/>
<circle cx="1804.4" cy="410.9" r="5.4" fill="none" stroke="#e07070" stroke-width="1.3"/>
<circle cx="1793.8" cy="419.2" r="5.4" fill="none" stroke="#e07070" stroke-width="1.3"/>
<circle cx="1775" cy="425" r="5.4" fill="none" stroke="#e07070" stroke-width="1.3"/>
<circle cx="1815" cy="437" r="5.4" fill="none" stroke="#e07070" stroke-width="1.3"/>
<circle cx="1808" cy="444" r="5.4" fill="none" stroke="#e07070" stroke-width="1.3"/>
<circle cx="1816" cy="449" r="5.4" fill="none" stroke="#e07070" stroke-width="1.3"/>
<circle cx="1837.5" cy="459" r="5.4" fill="none" stroke="#e07070" stroke-width="1.3"/>
<circle cx="1828" cy="461" r="5.4" fill="none" stroke="#e07070" stroke-width="1.3"/>
<circle cx="1854" cy="470.6" r="5.4" fill="none" stroke="#e07070" stroke-width="1.3"/>
<circle cx="1940.3" cy="479.5" r="5.4" fill="none" stroke="#e07070" stroke-width="1.3"/>
<circle cx="1820" cy="455" r="5.4" fill="none" stroke="#e07070" stroke-width="1.3"/>
<circle cx="1845" cy="465" r="5.4" fill="none" stroke="#e07070" stroke-width="1.3"/>
<circle cx="1798" cy="430" r="5.4" fill="none" stroke="#e07070" stroke-width="1.3"/>
<circle cx="1786" cy="410" r="5.4" fill="none" stroke="#e07070" stroke-width="1.3"/>
<circle cx="1683.9" cy="92.4" r="5.8" fill="none" stroke="#d88a8a" stroke-width="1.6"/>
<circle cx="1683.9" cy="116.8" r="5.8" fill="none" stroke="#8c94b8" stroke-width="1.6"/>
<text x="0" y="0" font-size="29" textLength="235" lengthAdjust="spacingAndGlyphs" transform="translate(1697.3 96.1) scale(1 1.038)">2917 upregulated</text>
<text x="0" y="0" font-size="29" textLength="274" lengthAdjust="spacingAndGlyphs" transform="translate(1697.3 125.7) scale(1 1.038)">2596 downregulated</text>
<text x="0" y="0" font-size="28.6" textLength="486" lengthAdjust="spacingAndGlyphs" transform="translate(1498.5 24.5) scale(1 1.038)" xml:space="preserve">SC-8cP compared  to shTRPV4-8cP</text>
<line x1="1499" y1="28.4" x2="1983.5" y2="28.4" stroke="#000" stroke-width="1.5"/>
<text x="0" y="0" font-size="29" text-anchor="middle" font-weight="bold" transform="translate(1480.5 247.5) rotate(-90) scale(1 1.038)">-log<tspan font-size="20" dy="5">10</tspan><tspan dy="-5">[</tspan><tspan font-style="italic">P</tspan>]</text>
<text x="0" y="0" font-size="29.5" text-anchor="middle" font-weight="bold" transform="translate(1765.5 569.5) scale(1 1.038)">log<tspan font-size="20" dy="6">2</tspan><tspan dy="-6">[fold change]</tspan></text>
<text x="0" y="0" font-size="46" font-weight="bold" transform="translate(0.5 657) scale(1 1.038)">c</text>
<text x="0" y="0" font-size="31" text-anchor="middle" font-weight="bold" textLength="278" lengthAdjust="spacingAndGlyphs" transform="translate(505 675) scale(1 1.038)">Common Pathways</text>
<text x="0" y="0" font-size="28.6" textLength="439" lengthAdjust="spacingAndGlyphs" transform="translate(283.5 715.3) scale(1 1.038)" xml:space="preserve">SC-8cP compared  to SC-0.77cP</text>
<line x1="284" y1="719.6" x2="722.5" y2="719.6" stroke="#000" stroke-width="1.5"/>
<line x1="509.3" y1="779.2" x2="966.9" y2="779.2" stroke="#222" stroke-width="1.8"/>
<line x1="509.3" y1="779.2" x2="509.3" y2="783.7" stroke="#222" stroke-width="1.5"/>
<text x="0" y="0" font-size="30.5" text-anchor="middle" transform="translate(509.3 774) scale(1 1.038)">0</text>
<line x1="597.4" y1="779.2" x2="597.4" y2="783.7" stroke="#222" stroke-width="1.5"/>
<text x="0" y="0" font-size="30.5" text-anchor="middle" transform="translate(597.4 774) scale(1 1.038)">0.5</text>
<line x1="685.4" y1="779.2" x2="685.4" y2="783.7" stroke="#222" stroke-width="1.5"/>
<text x="0" y="0" font-size="30.5" text-anchor="middle" transform="translate(685.4 774) scale(1 1.038)">1</text>
<line x1="773.5" y1="779.2" x2="773.5" y2="783.7" stroke="#222" stroke-width="1.5"/>
<text x="0" y="0" font-size="30.5" text-anchor="middle" transform="translate(773.5 774) scale(1 1.038)">1.5</text>
<line x1="861.5" y1="779.2" x2="861.5" y2="783.7" stroke="#222" stroke-width="1.5"/>
<text x="0" y="0" font-size="30.5" text-anchor="middle" transform="translate(861.5 774) scale(1 1.038)">2</text>
<line x1="949.5" y1="779.2" x2="949.5" y2="783.7" stroke="#222" stroke-width="1.5"/>
<text x="0" y="0" font-size="30.5" text-anchor="middle" transform="translate(949.5 774) scale(1 1.038)">2.5</text>
<line x1="509.3" y1="779.2" x2="509.3" y2="933" stroke="#333" stroke-width="1.6"/>
<rect x="510.1" y="801.2" width="320.2" height="21" fill="#1274c2"/>
<text x="0" y="0" font-size="23" text-anchor="end" transform="translate(505.8 817.8) scale(1 1.038)">Kinetochore Metaphase Signaling Pathway</text>
<rect x="510.1" y="828.4" width="163.3" height="21" fill="#0f72bb"/>
<text x="0" y="0" font-size="23" text-anchor="end" transform="translate(505.8 845) scale(1 1.038)">HER-2 Signaling in Breast Cancer</text>
<rect x="510.1" y="855.5" width="241.1" height="21" fill="#3c92d3"/>
<text x="0" y="0" font-size="23" text-anchor="end" transform="translate(505.8 872.1) scale(1 1.038)">IGF-1 Signaling</text>
<rect x="510.1" y="882.7" width="128.4" height="21" fill="#3991d2"/>
<text x="0" y="0" font-size="23" text-anchor="end" transform="translate(505.8 899.3) scale(1 1.038)">Ovarian  Cancer Signaling</text>
<rect x="510.1" y="909.9" width="49.1" height="21" fill="#4e9dd6"/>
<text x="0" y="0" font-size="23" text-anchor="end" transform="translate(505.8 926.5) scale(1 1.038)">Pulmonary Fibrosis Idiopathic Signaling Pathway</text>
<text x="0" y="0" font-size="31" textLength="100" lengthAdjust="spacingAndGlyphs" transform="translate(899.8 819) scale(1 1.038)">Z-score</text>
<line x1="50.8" y1="974.8" x2="509.7" y2="974.8" stroke="#222" stroke-width="1.8"/>
<line x1="70.7" y1="974.8" x2="70.7" y2="979.3" stroke="#222" stroke-width="1.5"/>
<text x="0" y="0" font-size="30.5" text-anchor="middle" transform="translate(70.7 969) scale(1 1.038)">-2.5</text>
<line x1="158.5" y1="974.8" x2="158.5" y2="979.3" stroke="#222" stroke-width="1.5"/>
<text x="0" y="0" font-size="30.5" text-anchor="middle" transform="translate(158.5 969) scale(1 1.038)">-2</text>
<line x1="246.3" y1="974.8" x2="246.3" y2="979.3" stroke="#222" stroke-width="1.5"/>
<text x="0" y="0" font-size="30.5" text-anchor="middle" transform="translate(246.3 969) scale(1 1.038)">-1.5</text>
<line x1="334.1" y1="974.8" x2="334.1" y2="979.3" stroke="#222" stroke-width="1.5"/>
<text x="0" y="0" font-size="30.5" text-anchor="middle" transform="translate(334.1 969) scale(1 1.038)">-1</text>
<line x1="421.9" y1="974.8" x2="421.9" y2="979.3" stroke="#222" stroke-width="1.5"/>
<text x="0" y="0" font-size="30.5" text-anchor="middle" transform="translate(421.9 969) scale(1 1.038)">-0.5</text>
<line x1="509.7" y1="974.8" x2="509.7" y2="979.3" stroke="#222" stroke-width="1.5"/>
<text x="0" y="0" font-size="30.5" text-anchor="middle" transform="translate(509.7 969) scale(1 1.038)">0</text>
<line x1="509.7" y1="974.8" x2="509.7" y2="1130.5" stroke="#333" stroke-width="1.6"/>
<rect x="395" y="997.7" width="113.9" height="21" fill="#88b9e0"/>
<text x="0" y="0" font-size="23" transform="translate(523 1015.9) scale(1 1.038)">Hippo signaling</text>
<rect x="366.6" y="1024.7" width="142.3" height="21" fill="#8dbde3"/>
<text x="0" y="0" font-size="23" transform="translate(523 1043.3) scale(1 1.038)">Cell Cycle: G1/S Checkpoint Regulation</text>
<rect x="477" y="1051.7" width="31.9" height="21" fill="#8cbce2"/>
<text x="0" y="0" font-size="23" transform="translate(523 1070.7) scale(1 1.038)">GADD45 Signaling</text>
<rect x="429.5" y="1078.7" width="79.4" height="21" fill="#a4cbe9"/>
<text x="0" y="0" font-size="23" transform="translate(523 1098.1) scale(1 1.038)">MAPK Signaling in Promoting the Pathogenesis of Influenza</text>
<rect x="415.7" y="1105.7" width="93.2" height="21" fill="#a2cae9"/>
<text x="0" y="0" font-size="23" transform="translate(523 1125.5) scale(1 1.038)">4-1BB Signaling in T Lymphocytes</text>
<text x="0" y="0" font-size="31" textLength="101" lengthAdjust="spacingAndGlyphs" transform="translate(54.7 1016.4) scale(1 1.038)">Z-score</text>
<text x="0" y="0" font-size="28.6" textLength="486" lengthAdjust="spacingAndGlyphs" transform="translate(271 1186.9) scale(1 1.038)" xml:space="preserve">SC-8cP compared  to shTRPV4-8cP</text>
<line x1="272" y1="1191.4" x2="757.5" y2="1191.4" stroke="#000" stroke-width="1.5"/>
<line x1="515.3" y1="1250.6" x2="972.9" y2="1250.6" stroke="#222" stroke-width="1.8"/>
<line x1="515.3" y1="1250.6" x2="515.3" y2="1255.1" stroke="#222" stroke-width="1.5"/>
<text x="0" y="0" font-size="30.5" text-anchor="middle" transform="translate(515.3 1243) scale(1 1.038)">0</text>
<line x1="603.3" y1="1250.6" x2="603.3" y2="1255.1" stroke="#222" stroke-width="1.5"/>
<text x="0" y="0" font-size="30.5" text-anchor="middle" transform="translate(603.3 1243) scale(1 1.038)">0.5</text>
<line x1="691.4" y1="1250.6" x2="691.4" y2="1255.1" stroke="#222" stroke-width="1.5"/>
<text x="0" y="0" font-size="30.5" text-anchor="middle" transform="translate(691.4 1243) scale(1 1.038)">1</text>
<line x1="779.4" y1="1250.6" x2="779.4" y2="1255.1" stroke="#222" stroke-width="1.5"/>
<text x="0" y="0" font-size="30.5" text-anchor="middle" transform="translate(779.4 1243) scale(1 1.038)">1.5</text>
<line x1="867.5" y1="1250.6" x2="867.5" y2="1255.1" stroke="#222" stroke-width="1.5"/>
<text x="0" y="0" font-size="30.5" text-anchor="middle" transform="translate(867.5 1243) scale(1 1.038)">2</text>
<line x1="955.5" y1="1250.6" x2="955.5" y2="1255.1" stroke="#222" stroke-width="1.5"/>
<text x="0" y="0" font-size="30.5" text-anchor="middle" transform="translate(955.5 1243) scale(1 1.038)">2.5</text>
<line x1="515.3" y1="1250.6" x2="515.3" y2="1404" stroke="#333" stroke-width="1.6"/>
<rect x="516.1" y="1271.2" width="96.6" height="21" fill="#e3eef9"/>
<text x="0" y="0" font-size="23" text-anchor="end" transform="translate(511 1287.8) scale(1 1.038)">Kinetochore Metaphase Signaling Pathway</text>
<rect x="516.1" y="1298.4" width="56.9" height="21" fill="#1670bd"/>
<text x="0" y="0" font-size="23" text-anchor="end" transform="translate(511 1315) scale(1 1.038)">HER-2 Signaling in Breast Cancer</text>
<rect x="516.1" y="1325.6" width="170.4" height="21" fill="#3d8ed2"/>
<text x="0" y="0" font-size="23" text-anchor="end" transform="translate(511 1342.2) scale(1 1.038)">IGF-1 Signaling</text>
<rect x="516.1" y="1352.8" width="206.9" height="21" fill="#1a72be"/>
<text x="0" y="0" font-size="23" text-anchor="end" transform="translate(511 1369.4) scale(1 1.038)">Ovarian  Cancer Signaling</text>
<rect x="516.1" y="1380" width="285.5" height="21" fill="#1a72be"/>
<text x="0" y="0" font-size="23" text-anchor="end" transform="translate(511 1396.6) scale(1 1.038)">Pulmonary Fibrosis Idiopathic Signaling Pathway</text>
<text x="0" y="0" font-size="31" textLength="100" lengthAdjust="spacingAndGlyphs" transform="translate(904.7 1290) scale(1 1.038)">Z-score</text>
<line x1="57.4" y1="1444.8" x2="514.8" y2="1444.8" stroke="#222" stroke-width="1.8"/>
<line x1="75.8" y1="1444.8" x2="75.8" y2="1449.3" stroke="#222" stroke-width="1.5"/>
<text x="0" y="0" font-size="30.5" text-anchor="middle" transform="translate(75.8 1439.8) scale(1 1.038)">-2.5</text>
<line x1="163.6" y1="1444.8" x2="163.6" y2="1449.3" stroke="#222" stroke-width="1.5"/>
<text x="0" y="0" font-size="30.5" text-anchor="middle" transform="translate(163.6 1439.8) scale(1 1.038)">-2</text>
<line x1="251.4" y1="1444.8" x2="251.4" y2="1449.3" stroke="#222" stroke-width="1.5"/>
<text x="0" y="0" font-size="30.5" text-anchor="middle" transform="translate(251.4 1439.8) scale(1 1.038)">-1.5</text>
<line x1="339.2" y1="1444.8" x2="339.2" y2="1449.3" stroke="#222" stroke-width="1.5"/>
<text x="0" y="0" font-size="30.5" text-anchor="middle" transform="translate(339.2 1439.8) scale(1 1.038)">-1</text>
<line x1="427" y1="1444.8" x2="427" y2="1449.3" stroke="#222" stroke-width="1.5"/>
<text x="0" y="0" font-size="30.5" text-anchor="middle" transform="translate(427 1439.8) scale(1 1.038)">-0.5</text>
<line x1="514.8" y1="1444.8" x2="514.8" y2="1449.3" stroke="#222" stroke-width="1.5"/>
<text x="0" y="0" font-size="30.5" text-anchor="middle" transform="translate(514.8 1439.8) scale(1 1.038)">0</text>
<line x1="514.8" y1="1444.8" x2="514.8" y2="1600.5" stroke="#333" stroke-width="1.6"/>
<rect x="58.4" y="1467.7" width="455.6" height="21" fill="#e3eef9"/>
<text x="0" y="0" font-size="23" transform="translate(527.5 1485.9) scale(1 1.038)">Hippo signaling</text>
<rect x="417" y="1494.7" width="97" height="21" fill="#2a82cb"/>
<text x="0" y="0" font-size="23" transform="translate(527.5 1513.3) scale(1 1.038)">Cell Cycle: G1/S Checkpoint Regulation</text>
<rect x="450.8" y="1521.7" width="63.2" height="21" fill="#6aaade"/>
<text x="0" y="0" font-size="23" transform="translate(527.5 1540.7) scale(1 1.038)">GADD45 Signaling</text>
<rect x="487.9" y="1548.7" width="26.1" height="21" fill="#cfe3f4"/>
<text x="0" y="0" font-size="23" transform="translate(527.5 1568.1) scale(1 1.038)">MAPK Signaling in Promoting the Pathogenesis of Influenza</text>
<rect x="462.3" y="1575.7" width="51.7" height="21" fill="#e0edf8"/>
<text x="0" y="0" font-size="23" transform="translate(527.5 1595.5) scale(1 1.038)">4-1BB Signaling in T Lymphocytes</text>
<text x="0" y="0" font-size="31" textLength="101" lengthAdjust="spacingAndGlyphs" transform="translate(59.7 1521) scale(1 1.038)">Z-score</text>
<defs><linearGradient id="cbh" x1="0" x2="1" y1="0" y2="0"><stop offset="0" stop-color="#e6f0fa"/><stop offset="0.17" stop-color="#c4dcf1"/><stop offset="0.33" stop-color="#95c3e6"/><stop offset="0.5" stop-color="#64a7dc"/><stop offset="0.67" stop-color="#3c8fd2"/><stop offset="0.83" stop-color="#2580c9"/><stop offset="1" stop-color="#1170bd"/></linearGradient></defs>
<rect x="45.7" y="1613.4" width="933.3" height="28.1" fill="url(#cbh)" stroke="#111" stroke-width="1.6"/>
<text x="0" y="0" font-size="30.5" text-anchor="middle" transform="translate(45.7 1671.6) scale(1 1.038)">3</text>
<line x1="201.2" y1="1641.5" x2="201.2" y2="1638" stroke="#333" stroke-width="1"/>
<text x="0" y="0" font-size="30.5" text-anchor="middle" transform="translate(201.2 1671.6) scale(1 1.038)">4</text>
<line x1="356.8" y1="1641.5" x2="356.8" y2="1638" stroke="#333" stroke-width="1"/>
<text x="0" y="0" font-size="30.5" text-anchor="middle" transform="translate(356.8 1671.6) scale(1 1.038)">5</text>
<line x1="512.4" y1="1641.5" x2="512.4" y2="1638" stroke="#333" stroke-width="1"/>
<text x="0" y="0" font-size="30.5" text-anchor="middle" transform="translate(512.4 1671.6) scale(1 1.038)">6</text>
<line x1="667.9" y1="1641.5" x2="667.9" y2="1638" stroke="#333" stroke-width="1"/>
<text x="0" y="0" font-size="30.5" text-anchor="middle" transform="translate(667.9 1671.6) scale(1 1.038)">7</text>
<line x1="823.5" y1="1641.5" x2="823.5" y2="1638" stroke="#333" stroke-width="1"/>
<text x="0" y="0" font-size="30.5" text-anchor="middle" transform="translate(823.5 1671.6) scale(1 1.038)">8</text>
<text x="0" y="0" font-size="30.5" text-anchor="middle" transform="translate(979 1671.6) scale(1 1.038)">9</text>
<text x="0" y="0" font-size="30" text-anchor="middle" transform="translate(512.5 1713) scale(1 1.038)">-log<tspan font-size="21" dy="6">10</tspan><tspan dy="-6">(</tspan><tspan font-style="italic">P</tspan>)</text>
<text x="0" y="0" font-size="46" font-weight="bold" transform="translate(1141 657) scale(1 1.038)">d</text>
<text x="0" y="0" font-size="30" text-anchor="middle" font-weight="bold" textLength="182" lengthAdjust="spacingAndGlyphs" transform="translate(1618.7 650.3) scale(1 1.038)">Hippo genes</text>
<rect x="1271.1" y="665.5" width="73.8" height="16.6" fill="#81b6e2" shape-rendering="crispEdges"/>
<rect x="1344.3" y="665.5" width="73.8" height="16.6" fill="#a6cdea" shape-rendering="crispEdges"/>
<rect x="1417.4" y="665.5" width="73.8" height="16.6" fill="#eaf2fb" shape-rendering="crispEdges"/>
<rect x="1490.6" y="665.5" width="73.8" height="16.6" fill="#2a85cc" shape-rendering="crispEdges"/>
<rect x="1563.8" y="665.5" width="73.8" height="16.6" fill="#4392d2" shape-rendering="crispEdges"/>
<rect x="1636.9" y="665.5" width="73.8" height="16.6" fill="#2a85cc" shape-rendering="crispEdges"/>
<rect x="1710.1" y="665.5" width="73.8" height="16.6" fill="#4392d2" shape-rendering="crispEdges"/>
<rect x="1783.3" y="665.5" width="73.8" height="16.6" fill="#0770c0" shape-rendering="crispEdges"/>
<rect x="1856.4" y="665.5" width="73.8" height="16.6" fill="#4392d2" shape-rendering="crispEdges"/>
<rect x="1271.1" y="681.5" width="73.8" height="16.6" fill="#e1edf8" shape-rendering="crispEdges"/>
<rect x="1344.3" y="681.5" width="73.8" height="16.6" fill="#a6cdea" shape-rendering="crispEdges"/>
<rect x="1417.4" y="681.5" width="73.8" height="16.6" fill="#a6cdea" shape-rendering="crispEdges"/>
<rect x="1490.6" y="681.5" width="73.8" height="16.6" fill="#2a85cc" shape-rendering="crispEdges"/>
<rect x="1563.8" y="681.5" width="73.8" height="16.6" fill="#5ca0d9" shape-rendering="crispEdges"/>
<rect x="1636.9" y="681.5" width="73.8" height="16.6" fill="#2a85cc" shape-rendering="crispEdges"/>
<rect x="1710.1" y="681.5" width="73.8" height="16.6" fill="#0770c0" shape-rendering="crispEdges"/>
<rect x="1783.3" y="681.5" width="73.8" height="16.6" fill="#0770c0" shape-rendering="crispEdges"/>
<rect x="1856.4" y="681.5" width="73.8" height="16.6" fill="#2a85cc" shape-rendering="crispEdges"/>
<rect x="1271.1" y="697.4" width="73.8" height="16.6" fill="#0770c0" shape-rendering="crispEdges"/>
<rect x="1344.3" y="697.4" width="73.8" height="16.6" fill="#0770c0" shape-rendering="crispEdges"/>
<rect x="1417.4" y="697.4" width="73.8" height="16.6" fill="#0770c0" shape-rendering="crispEdges"/>
<rect x="1490.6" y="697.4" width="73.8" height="16.6" fill="#6eabdd" shape-rendering="crispEdges"/>
<rect x="1563.8" y="697.4" width="73.8" height="16.6" fill="#6eabdd" shape-rendering="crispEdges"/>
<rect x="1636.9" y="697.4" width="73.8" height="16.6" fill="#d8e8f6" shape-rendering="crispEdges"/>
<rect x="1710.1" y="697.4" width="73.8" height="16.6" fill="#81b6e2" shape-rendering="crispEdges"/>
<rect x="1783.3" y="697.4" width="73.8" height="16.6" fill="#e1edf8" shape-rendering="crispEdges"/>
<rect x="1856.4" y="697.4" width="73.8" height="16.6" fill="#e1edf8" shape-rendering="crispEdges"/>
<rect x="1271.1" y="713.4" width="73.8" height="16.6" fill="#1075c3" shape-rendering="crispEdges"/>
<rect x="1344.3" y="713.4" width="73.8" height="16.6" fill="#0770c0" shape-rendering="crispEdges"/>
<rect x="1417.4" y="713.4" width="73.8" height="16.6" fill="#0770c0" shape-rendering="crispEdges"/>
<rect x="1490.6" y="713.4" width="73.8" height="16.6" fill="#a6cdea" shape-rendering="crispEdges"/>
<rect x="1563.8" y="713.4" width="73.8" height="16.6" fill="#6eabdd" shape-rendering="crispEdges"/>
<rect x="1636.9" y="713.4" width="73.8" height="16.6" fill="#a6cdea" shape-rendering="crispEdges"/>
<rect x="1710.1" y="713.4" width="73.8" height="16.6" fill="#e1edf8" shape-rendering="crispEdges"/>
<rect x="1783.3" y="713.4" width="73.8" height="16.6" fill="#e1edf8" shape-rendering="crispEdges"/>
<rect x="1856.4" y="713.4" width="73.8" height="16.6" fill="#e1edf8" shape-rendering="crispEdges"/>
<rect x="1271.1" y="729.3" width="73.8" height="16.6" fill="#e1edf8" shape-rendering="crispEdges"/>
<rect x="1344.3" y="729.3" width="73.8" height="16.6" fill="#e1edf8" shape-rendering="crispEdges"/>
<rect x="1417.4" y="729.3" width="73.8" height="16.6" fill="#a6cdea" shape-rendering="crispEdges"/>
<rect x="1490.6" y="729.3" width="73.8" height="16.6" fill="#5ca0d9" shape-rendering="crispEdges"/>
<rect x="1563.8" y="729.3" width="73.8" height="16.6" fill="#5ca0d9" shape-rendering="crispEdges"/>
<rect x="1636.9" y="729.3" width="73.8" height="16.6" fill="#5099d6" shape-rendering="crispEdges"/>
<rect x="1710.1" y="729.3" width="73.8" height="16.6" fill="#0770c0" shape-rendering="crispEdges"/>
<rect x="1783.3" y="729.3" width="73.8" height="16.6" fill="#0770c0" shape-rendering="crispEdges"/>
<rect x="1856.4" y="729.3" width="73.8" height="16.6" fill="#0770c0" shape-rendering="crispEdges"/>
<rect x="1271.1" y="745.2" width="73.8" height="16.6" fill="#e1edf8" shape-rendering="crispEdges"/>
<rect x="1344.3" y="745.2" width="73.8" height="16.6" fill="#a6cdea" shape-rendering="crispEdges"/>
<rect x="1417.4" y="745.2" width="73.8" height="16.6" fill="#a6cdea" shape-rendering="crispEdges"/>
<rect x="1490.6" y="745.2" width="73.8" height="16.6" fill="#0770c0" shape-rendering="crispEdges"/>
<rect x="1563.8" y="745.2" width="73.8" height="16.6" fill="#0770c0" shape-rendering="crispEdges"/>
<rect x="1636.9" y="745.2" width="73.8" height="16.6" fill="#0770c0" shape-rendering="crispEdges"/>
<rect x="1710.1" y="745.2" width="73.8" height="16.6" fill="#0770c0" shape-rendering="crispEdges"/>
<rect x="1783.3" y="745.2" width="73.8" height="16.6" fill="#187ac6" shape-rendering="crispEdges"/>
<rect x="1856.4" y="745.2" width="73.8" height="16.6" fill="#0770c0" shape-rendering="crispEdges"/>
<rect x="1271.1" y="761.2" width="73.8" height="16.6" fill="#0770c0" shape-rendering="crispEdges"/>
<rect x="1344.3" y="761.2" width="73.8" height="16.6" fill="#0770c0" shape-rendering="crispEdges"/>
<rect x="1417.4" y="761.2" width="73.8" height="16.6" fill="#0770c0" shape-rendering="crispEdges"/>
<rect x="1490.6" y="761.2" width="73.8" height="16.6" fill="#81b6e2" shape-rendering="crispEdges"/>
<rect x="1563.8" y="761.2" width="73.8" height="16.6" fill="#5ca0d9" shape-rendering="crispEdges"/>
<rect x="1636.9" y="761.2" width="73.8" height="16.6" fill="#6eabdd" shape-rendering="crispEdges"/>
<rect x="1710.1" y="761.2" width="73.8" height="16.6" fill="#bfdaf0" shape-rendering="crispEdges"/>
<rect x="1783.3" y="761.2" width="73.8" height="16.6" fill="#e1edf8" shape-rendering="crispEdges"/>
<rect x="1856.4" y="761.2" width="73.8" height="16.6" fill="#cce1f3" shape-rendering="crispEdges"/>
<rect x="1271.1" y="777.1" width="73.8" height="16.6" fill="#0770c0" shape-rendering="crispEdges"/>
<rect x="1344.3" y="777.1" width="73.8" height="16.6" fill="#368ccf" shape-rendering="crispEdges"/>
<rect x="1417.4" y="777.1" width="73.8" height="16.6" fill="#187ac6" shape-rendering="crispEdges"/>
<rect x="1490.6" y="777.1" width="73.8" height="16.6" fill="#81b6e2" shape-rendering="crispEdges"/>
<rect x="1563.8" y="777.1" width="73.8" height="16.6" fill="#bfdaf0" shape-rendering="crispEdges"/>
<rect x="1636.9" y="777.1" width="73.8" height="16.6" fill="#a6cdea" shape-rendering="crispEdges"/>
<rect x="1710.1" y="777.1" width="73.8" height="16.6" fill="#cce1f3" shape-rendering="crispEdges"/>
<rect x="1783.3" y="777.1" width="73.8" height="16.6" fill="#bfdaf0" shape-rendering="crispEdges"/>
<rect x="1856.4" y="777.1" width="73.8" height="16.6" fill="#e1edf8" shape-rendering="crispEdges"/>
<rect x="1271.1" y="793.1" width="73.8" height="16.6" fill="#2a85cc" shape-rendering="crispEdges"/>
<rect x="1344.3" y="793.1" width="73.8" height="16.6" fill="#368ccf" shape-rendering="crispEdges"/>
<rect x="1417.4" y="793.1" width="73.8" height="16.6" fill="#0770c0" shape-rendering="crispEdges"/>
<rect x="1490.6" y="793.1" width="73.8" height="16.6" fill="#187ac6" shape-rendering="crispEdges"/>
<rect x="1563.8" y="793.1" width="73.8" height="16.6" fill="#4392d2" shape-rendering="crispEdges"/>
<rect x="1636.9" y="793.1" width="73.8" height="16.6" fill="#2a85cc" shape-rendering="crispEdges"/>
<rect x="1710.1" y="793.1" width="73.8" height="16.6" fill="#e1edf8" shape-rendering="crispEdges"/>
<rect x="1783.3" y="793.1" width="73.8" height="16.6" fill="#4392d2" shape-rendering="crispEdges"/>
<rect x="1856.4" y="793.1" width="73.8" height="16.6" fill="#cce1f3" shape-rendering="crispEdges"/>
<rect x="1271.1" y="809" width="73.8" height="16.6" fill="#0770c0" shape-rendering="crispEdges"/>
<rect x="1344.3" y="809" width="73.8" height="16.6" fill="#368ccf" shape-rendering="crispEdges"/>
<rect x="1417.4" y="809" width="73.8" height="16.6" fill="#5ca0d9" shape-rendering="crispEdges"/>
<rect x="1490.6" y="809" width="73.8" height="16.6" fill="#0770c0" shape-rendering="crispEdges"/>
<rect x="1563.8" y="809" width="73.8" height="16.6" fill="#2a85cc" shape-rendering="crispEdges"/>
<rect x="1636.9" y="809" width="73.8" height="16.6" fill="#187ac6" shape-rendering="crispEdges"/>
<rect x="1710.1" y="809" width="73.8" height="16.6" fill="#e1edf8" shape-rendering="crispEdges"/>
<rect x="1783.3" y="809" width="73.8" height="16.6" fill="#a6cdea" shape-rendering="crispEdges"/>
<rect x="1856.4" y="809" width="73.8" height="16.6" fill="#e1edf8" shape-rendering="crispEdges"/>
<rect x="1271.1" y="825" width="73.8" height="16.6" fill="#e1edf8" shape-rendering="crispEdges"/>
<rect x="1344.3" y="825" width="73.8" height="16.6" fill="#e1edf8" shape-rendering="crispEdges"/>
<rect x="1417.4" y="825" width="73.8" height="16.6" fill="#81b6e2" shape-rendering="crispEdges"/>
<rect x="1490.6" y="825" width="73.8" height="16.6" fill="#5ca0d9" shape-rendering="crispEdges"/>
<rect x="1563.8" y="825" width="73.8" height="16.6" fill="#81b6e2" shape-rendering="crispEdges"/>
<rect x="1636.9" y="825" width="73.8" height="16.6" fill="#2a85cc" shape-rendering="crispEdges"/>
<rect x="1710.1" y="825" width="73.8" height="16.6" fill="#0770c0" shape-rendering="crispEdges"/>
<rect x="1783.3" y="825" width="73.8" height="16.6" fill="#0770c0" shape-rendering="crispEdges"/>
<rect x="1856.4" y="825" width="73.8" height="16.6" fill="#0770c0" shape-rendering="crispEdges"/>
<rect x="1271.1" y="841" width="73.8" height="16.6" fill="#5ca0d9" shape-rendering="crispEdges"/>
<rect x="1344.3" y="841" width="73.8" height="16.6" fill="#5ca0d9" shape-rendering="crispEdges"/>
<rect x="1417.4" y="841" width="73.8" height="16.6" fill="#0770c0" shape-rendering="crispEdges"/>
<rect x="1490.6" y="841" width="73.8" height="16.6" fill="#81b6e2" shape-rendering="crispEdges"/>
<rect x="1563.8" y="841" width="73.8" height="16.6" fill="#bfdaf0" shape-rendering="crispEdges"/>
<rect x="1636.9" y="841" width="73.8" height="16.6" fill="#cce1f3" shape-rendering="crispEdges"/>
<rect x="1710.1" y="841" width="73.8" height="16.6" fill="#a6cdea" shape-rendering="crispEdges"/>
<rect x="1783.3" y="841" width="73.8" height="16.6" fill="#e1edf8" shape-rendering="crispEdges"/>
<rect x="1856.4" y="841" width="73.8" height="16.6" fill="#bfdaf0" shape-rendering="crispEdges"/>
<rect x="1271.1" y="856.9" width="73.8" height="16.6" fill="#0770c0" shape-rendering="crispEdges"/>
<rect x="1344.3" y="856.9" width="73.8" height="16.6" fill="#0770c0" shape-rendering="crispEdges"/>
<rect x="1417.4" y="856.9" width="73.8" height="16.6" fill="#0770c0" shape-rendering="crispEdges"/>
<rect x="1490.6" y="856.9" width="73.8" height="16.6" fill="#2a85cc" shape-rendering="crispEdges"/>
<rect x="1563.8" y="856.9" width="73.8" height="16.6" fill="#2a85cc" shape-rendering="crispEdges"/>
<rect x="1636.9" y="856.9" width="73.8" height="16.6" fill="#5ca0d9" shape-rendering="crispEdges"/>
<rect x="1710.1" y="856.9" width="73.8" height="16.6" fill="#bfdaf0" shape-rendering="crispEdges"/>
<rect x="1783.3" y="856.9" width="73.8" height="16.6" fill="#e1edf8" shape-rendering="crispEdges"/>
<rect x="1856.4" y="856.9" width="73.8" height="16.6" fill="#e1edf8" shape-rendering="crispEdges"/>
<rect x="1271.1" y="872.9" width="73.8" height="16.6" fill="#e1edf8" shape-rendering="crispEdges"/>
<rect x="1344.3" y="872.9" width="73.8" height="16.6" fill="#81b6e2" shape-rendering="crispEdges"/>
<rect x="1417.4" y="872.9" width="73.8" height="16.6" fill="#81b6e2" shape-rendering="crispEdges"/>
<rect x="1490.6" y="872.9" width="73.8" height="16.6" fill="#2a85cc" shape-rendering="crispEdges"/>
<rect x="1563.8" y="872.9" width="73.8" height="16.6" fill="#0770c0" shape-rendering="crispEdges"/>
<rect x="1636.9" y="872.9" width="73.8" height="16.6" fill="#187ac6" shape-rendering="crispEdges"/>
<rect x="1710.1" y="872.9" width="73.8" height="16.6" fill="#0770c0" shape-rendering="crispEdges"/>
<rect x="1783.3" y="872.9" width="73.8" height="16.6" fill="#0770c0" shape-rendering="crispEdges"/>
<rect x="1856.4" y="872.9" width="73.8" height="16.6" fill="#0770c0" shape-rendering="crispEdges"/>
<rect x="1271.1" y="888.8" width="73.8" height="16.6" fill="#0770c0" shape-rendering="crispEdges"/>
<rect x="1344.3" y="888.8" width="73.8" height="16.6" fill="#2a85cc" shape-rendering="crispEdges"/>
<rect x="1417.4" y="888.8" width="73.8" height="16.6" fill="#2a85cc" shape-rendering="crispEdges"/>
<rect x="1490.6" y="888.8" width="73.8" height="16.6" fill="#b2d4ed" shape-rendering="crispEdges"/>
<rect x="1563.8" y="888.8" width="73.8" height="16.6" fill="#81b6e2" shape-rendering="crispEdges"/>
<rect x="1636.9" y="888.8" width="73.8" height="16.6" fill="#e1edf8" shape-rendering="crispEdges"/>
<rect x="1710.1" y="888.8" width="73.8" height="16.6" fill="#a6cdea" shape-rendering="crispEdges"/>
<rect x="1783.3" y="888.8" width="73.8" height="16.6" fill="#5ca0d9" shape-rendering="crispEdges"/>
<rect x="1856.4" y="888.8" width="73.8" height="16.6" fill="#5ca0d9" shape-rendering="crispEdges"/>
<rect x="1271.1" y="904.8" width="73.8" height="16.6" fill="#bfdaf0" shape-rendering="crispEdges"/>
<rect x="1344.3" y="904.8" width="73.8" height="16.6" fill="#a6cdea" shape-rendering="crispEdges"/>
<rect x="1417.4" y="904.8" width="73.8" height="16.6" fill="#81b6e2" shape-rendering="crispEdges"/>
<rect x="1490.6" y="904.8" width="73.8" height="16.6" fill="#368ccf" shape-rendering="crispEdges"/>
<rect x="1563.8" y="904.8" width="73.8" height="16.6" fill="#2a85cc" shape-rendering="crispEdges"/>
<rect x="1636.9" y="904.8" width="73.8" height="16.6" fill="#0770c0" shape-rendering="crispEdges"/>
<rect x="1710.1" y="904.8" width="73.8" height="16.6" fill="#e1edf8" shape-rendering="crispEdges"/>
<rect x="1783.3" y="904.8" width="73.8" height="16.6" fill="#368ccf" shape-rendering="crispEdges"/>
<rect x="1856.4" y="904.8" width="73.8" height="16.6" fill="#5ca0d9" shape-rendering="crispEdges"/>
<rect x="1271.1" y="920.7" width="73.8" height="16.6" fill="#0770c0" shape-rendering="crispEdges"/>
<rect x="1344.3" y="920.7" width="73.8" height="16.6" fill="#0770c0" shape-rendering="crispEdges"/>
<rect x="1417.4" y="920.7" width="73.8" height="16.6" fill="#2a85cc" shape-rendering="crispEdges"/>
<rect x="1490.6" y="920.7" width="73.8" height="16.6" fill="#5ca0d9" shape-rendering="crispEdges"/>
<rect x="1563.8" y="920.7" width="73.8" height="16.6" fill="#2a85cc" shape-rendering="crispEdges"/>
<rect x="1636.9" y="920.7" width="73.8" height="16.6" fill="#81b6e2" shape-rendering="crispEdges"/>
<rect x="1710.1" y="920.7" width="73.8" height="16.6" fill="#b2d4ed" shape-rendering="crispEdges"/>
<rect x="1783.3" y="920.7" width="73.8" height="16.6" fill="#bfdaf0" shape-rendering="crispEdges"/>
<rect x="1856.4" y="920.7" width="73.8" height="16.6" fill="#e1edf8" shape-rendering="crispEdges"/>
<rect x="1271.1" y="936.6" width="73.8" height="16.6" fill="#2a85cc" shape-rendering="crispEdges"/>
<rect x="1344.3" y="936.6" width="73.8" height="16.6" fill="#0770c0" shape-rendering="crispEdges"/>
<rect x="1417.4" y="936.6" width="73.8" height="16.6" fill="#187ac6" shape-rendering="crispEdges"/>
<rect x="1490.6" y="936.6" width="73.8" height="16.6" fill="#0770c0" shape-rendering="crispEdges"/>
<rect x="1563.8" y="936.6" width="73.8" height="16.6" fill="#0770c0" shape-rendering="crispEdges"/>
<rect x="1636.9" y="936.6" width="73.8" height="16.6" fill="#2a85cc" shape-rendering="crispEdges"/>
<rect x="1710.1" y="936.6" width="73.8" height="16.6" fill="#81b6e2" shape-rendering="crispEdges"/>
<rect x="1783.3" y="936.6" width="73.8" height="16.6" fill="#e1edf8" shape-rendering="crispEdges"/>
<rect x="1856.4" y="936.6" width="73.8" height="16.6" fill="#a6cdea" shape-rendering="crispEdges"/>
<rect x="1271.1" y="952.6" width="73.8" height="16.6" fill="#e1edf8" shape-rendering="crispEdges"/>
<rect x="1344.3" y="952.6" width="73.8" height="16.6" fill="#bfdaf0" shape-rendering="crispEdges"/>
<rect x="1417.4" y="952.6" width="73.8" height="16.6" fill="#a6cdea" shape-rendering="crispEdges"/>
<rect x="1490.6" y="952.6" width="73.8" height="16.6" fill="#5ca0d9" shape-rendering="crispEdges"/>
<rect x="1563.8" y="952.6" width="73.8" height="16.6" fill="#368ccf" shape-rendering="crispEdges"/>
<rect x="1636.9" y="952.6" width="73.8" height="16.6" fill="#2a85cc" shape-rendering="crispEdges"/>
<rect x="1710.1" y="952.6" width="73.8" height="16.6" fill="#0770c0" shape-rendering="crispEdges"/>
<rect x="1783.3" y="952.6" width="73.8" height="16.6" fill="#0770c0" shape-rendering="crispEdges"/>
<rect x="1856.4" y="952.6" width="73.8" height="16.6" fill="#0770c0" shape-rendering="crispEdges"/>
<rect x="1271.1" y="968.5" width="73.8" height="16.6" fill="#0770c0" shape-rendering="crispEdges"/>
<rect x="1344.3" y="968.5" width="73.8" height="16.6" fill="#0770c0" shape-rendering="crispEdges"/>
<rect x="1417.4" y="968.5" width="73.8" height="16.6" fill="#0770c0" shape-rendering="crispEdges"/>
<rect x="1490.6" y="968.5" width="73.8" height="16.6" fill="#e1edf8" shape-rendering="crispEdges"/>
<rect x="1563.8" y="968.5" width="73.8" height="16.6" fill="#e5effa" shape-rendering="crispEdges"/>
<rect x="1636.9" y="968.5" width="73.8" height="16.6" fill="#cce1f3" shape-rendering="crispEdges"/>
<rect x="1710.1" y="968.5" width="73.8" height="16.6" fill="#bfdaf0" shape-rendering="crispEdges"/>
<rect x="1783.3" y="968.5" width="73.8" height="16.6" fill="#b2d4ed" shape-rendering="crispEdges"/>
<rect x="1856.4" y="968.5" width="73.8" height="16.6" fill="#b2d4ed" shape-rendering="crispEdges"/>
<rect x="1271.1" y="984.5" width="73.8" height="16.6" fill="#e1edf8" shape-rendering="crispEdges"/>
<rect x="1344.3" y="984.5" width="73.8" height="16.6" fill="#187ac6" shape-rendering="crispEdges"/>
<rect x="1417.4" y="984.5" width="73.8" height="16.6" fill="#a6cdea" shape-rendering="crispEdges"/>
<rect x="1490.6" y="984.5" width="73.8" height="16.6" fill="#4392d2" shape-rendering="crispEdges"/>
<rect x="1563.8" y="984.5" width="73.8" height="16.6" fill="#0770c0" shape-rendering="crispEdges"/>
<rect x="1636.9" y="984.5" width="73.8" height="16.6" fill="#187ac6" shape-rendering="crispEdges"/>
<rect x="1710.1" y="984.5" width="73.8" height="16.6" fill="#2a85cc" shape-rendering="crispEdges"/>
<rect x="1783.3" y="984.5" width="73.8" height="16.6" fill="#5ca0d9" shape-rendering="crispEdges"/>
<rect x="1856.4" y="984.5" width="73.8" height="16.6" fill="#5ca0d9" shape-rendering="crispEdges"/>
<rect x="1271.1" y="1000.5" width="73.8" height="16.6" fill="#368ccf" shape-rendering="crispEdges"/>
<rect x="1344.3" y="1000.5" width="73.8" height="16.6" fill="#0770c0" shape-rendering="crispEdges"/>
<rect x="1417.4" y="1000.5" width="73.8" height="16.6" fill="#0770c0" shape-rendering="crispEdges"/>
<rect x="1490.6" y="1000.5" width="73.8" height="16.6" fill="#5ca0d9" shape-rendering="crispEdges"/>
<rect x="1563.8" y="1000.5" width="73.8" height="16.6" fill="#368ccf" shape-rendering="crispEdges"/>
<rect x="1636.9" y="1000.5" width="73.8" height="16.6" fill="#a6cdea" shape-rendering="crispEdges"/>
<rect x="1710.1" y="1000.5" width="73.8" height="16.6" fill="#e1edf8" shape-rendering="crispEdges"/>
<rect x="1783.3" y="1000.5" width="73.8" height="16.6" fill="#bfdaf0" shape-rendering="crispEdges"/>
<rect x="1856.4" y="1000.5" width="73.8" height="16.6" fill="#d8e8f6" shape-rendering="crispEdges"/>
<rect x="1271.1" y="1016.4" width="73.8" height="16.6" fill="#b2d4ed" shape-rendering="crispEdges"/>
<rect x="1344.3" y="1016.4" width="73.8" height="16.6" fill="#5ca0d9" shape-rendering="crispEdges"/>
<rect x="1417.4" y="1016.4" width="73.8" height="16.6" fill="#e1edf8" shape-rendering="crispEdges"/>
<rect x="1490.6" y="1016.4" width="73.8" height="16.6" fill="#0770c0" shape-rendering="crispEdges"/>
<rect x="1563.8" y="1016.4" width="73.8" height="16.6" fill="#368ccf" shape-rendering="crispEdges"/>
<rect x="1636.9" y="1016.4" width="73.8" height="16.6" fill="#187ac6" shape-rendering="crispEdges"/>
<rect x="1710.1" y="1016.4" width="73.8" height="16.6" fill="#2a85cc" shape-rendering="crispEdges"/>
<rect x="1783.3" y="1016.4" width="73.8" height="16.6" fill="#5ca0d9" shape-rendering="crispEdges"/>
<rect x="1856.4" y="1016.4" width="73.8" height="16.6" fill="#81b6e2" shape-rendering="crispEdges"/>
<rect x="1271.1" y="1032.3" width="73.8" height="16.6" fill="#0770c0" shape-rendering="crispEdges"/>
<rect x="1344.3" y="1032.3" width="73.8" height="16.6" fill="#81b6e2" shape-rendering="crispEdges"/>
<rect x="1417.4" y="1032.3" width="73.8" height="16.6" fill="#187ac6" shape-rendering="crispEdges"/>
<rect x="1490.6" y="1032.3" width="73.8" height="16.6" fill="#368ccf" shape-rendering="crispEdges"/>
<rect x="1563.8" y="1032.3" width="73.8" height="16.6" fill="#0770c0" shape-rendering="crispEdges"/>
<rect x="1636.9" y="1032.3" width="73.8" height="16.6" fill="#0770c0" shape-rendering="crispEdges"/>
<rect x="1710.1" y="1032.3" width="73.8" height="16.6" fill="#e1edf8" shape-rendering="crispEdges"/>
<rect x="1783.3" y="1032.3" width="73.8" height="16.6" fill="#cce1f3" shape-rendering="crispEdges"/>
<rect x="1856.4" y="1032.3" width="73.8" height="16.6" fill="#bfdaf0" shape-rendering="crispEdges"/>
<rect x="1271.1" y="1048.3" width="73.8" height="16.6" fill="#e1edf8" shape-rendering="crispEdges"/>
<rect x="1344.3" y="1048.3" width="73.8" height="16.6" fill="#5ca0d9" shape-rendering="crispEdges"/>
<rect x="1417.4" y="1048.3" width="73.8" height="16.6" fill="#5ca0d9" shape-rendering="crispEdges"/>
<rect x="1490.6" y="1048.3" width="73.8" height="16.6" fill="#0770c0" shape-rendering="crispEdges"/>
<rect x="1563.8" y="1048.3" width="73.8" height="16.6" fill="#0770c0" shape-rendering="crispEdges"/>
<rect x="1636.9" y="1048.3" width="73.8" height="16.6" fill="#0770c0" shape-rendering="crispEdges"/>
<rect x="1710.1" y="1048.3" width="73.8" height="16.6" fill="#0770c0" shape-rendering="crispEdges"/>
<rect x="1783.3" y="1048.3" width="73.8" height="16.6" fill="#0770c0" shape-rendering="crispEdges"/>
<rect x="1856.4" y="1048.3" width="73.8" height="16.6" fill="#0770c0" shape-rendering="crispEdges"/>
<rect x="1271.1" y="1064.2" width="73.8" height="16.6" fill="#e1edf8" shape-rendering="crispEdges"/>
<rect x="1344.3" y="1064.2" width="73.8" height="16.6" fill="#e5effa" shape-rendering="crispEdges"/>
<rect x="1417.4" y="1064.2" width="73.8" height="16.6" fill="#81b6e2" shape-rendering="crispEdges"/>
<rect x="1490.6" y="1064.2" width="73.8" height="16.6" fill="#2a85cc" shape-rendering="crispEdges"/>
<rect x="1563.8" y="1064.2" width="73.8" height="16.6" fill="#4392d2" shape-rendering="crispEdges"/>
<rect x="1636.9" y="1064.2" width="73.8" height="16.6" fill="#2180c9" shape-rendering="crispEdges"/>
<rect x="1710.1" y="1064.2" width="73.8" height="16.6" fill="#4392d2" shape-rendering="crispEdges"/>
<rect x="1783.3" y="1064.2" width="73.8" height="16.6" fill="#0770c0" shape-rendering="crispEdges"/>
<rect x="1856.4" y="1064.2" width="73.8" height="16.6" fill="#0770c0" shape-rendering="crispEdges"/>
<rect x="1271.1" y="1080.2" width="73.8" height="16.6" fill="#0770c0" shape-rendering="crispEdges"/>
<rect x="1344.3" y="1080.2" width="73.8" height="16.6" fill="#0770c0" shape-rendering="crispEdges"/>
<rect x="1417.4" y="1080.2" width="73.8" height="16.6" fill="#1075c3" shape-rendering="crispEdges"/>
<rect x="1490.6" y="1080.2" width="73.8" height="16.6" fill="#4392d2" shape-rendering="crispEdges"/>
<rect x="1563.8" y="1080.2" width="73.8" height="16.6" fill="#2a85cc" shape-rendering="crispEdges"/>
<rect x="1636.9" y="1080.2" width="73.8" height="16.6" fill="#5ca0d9" shape-rendering="crispEdges"/>
<rect x="1710.1" y="1080.2" width="73.8" height="16.6" fill="#e1edf8" shape-rendering="crispEdges"/>
<rect x="1783.3" y="1080.2" width="73.8" height="16.6" fill="#e5effa" shape-rendering="crispEdges"/>
<rect x="1856.4" y="1080.2" width="73.8" height="16.6" fill="#d8e8f6" shape-rendering="crispEdges"/>
<rect x="1271.1" y="1096.2" width="73.8" height="16.6" fill="#2a85cc" shape-rendering="crispEdges"/>
<rect x="1344.3" y="1096.2" width="73.8" height="16.6" fill="#0770c0" shape-rendering="crispEdges"/>
<rect x="1417.4" y="1096.2" width="73.8" height="16.6" fill="#0770c0" shape-rendering="crispEdges"/>
<rect x="1490.6" y="1096.2" width="73.8" height="16.6" fill="#4392d2" shape-rendering="crispEdges"/>
<rect x="1563.8" y="1096.2" width="73.8" height="16.6" fill="#0770c0" shape-rendering="crispEdges"/>
<rect x="1636.9" y="1096.2" width="73.8" height="16.6" fill="#0770c0" shape-rendering="crispEdges"/>
<rect x="1710.1" y="1096.2" width="73.8" height="16.6" fill="#cce1f3" shape-rendering="crispEdges"/>
<rect x="1783.3" y="1096.2" width="73.8" height="16.6" fill="#cce1f3" shape-rendering="crispEdges"/>
<rect x="1856.4" y="1096.2" width="73.8" height="16.6" fill="#e1edf8" shape-rendering="crispEdges"/>
<rect x="1271.1" y="1112.1" width="73.8" height="16.6" fill="#b2d4ed" shape-rendering="crispEdges"/>
<rect x="1344.3" y="1112.1" width="73.8" height="16.6" fill="#2a85cc" shape-rendering="crispEdges"/>
<rect x="1417.4" y="1112.1" width="73.8" height="16.6" fill="#5ca0d9" shape-rendering="crispEdges"/>
<rect x="1490.6" y="1112.1" width="73.8" height="16.6" fill="#81b6e2" shape-rendering="crispEdges"/>
<rect x="1563.8" y="1112.1" width="73.8" height="16.6" fill="#5ca0d9" shape-rendering="crispEdges"/>
<rect x="1636.9" y="1112.1" width="73.8" height="16.6" fill="#0770c0" shape-rendering="crispEdges"/>
<rect x="1710.1" y="1112.1" width="73.8" height="16.6" fill="#e1edf8" shape-rendering="crispEdges"/>
<rect x="1783.3" y="1112.1" width="73.8" height="16.6" fill="#a6cdea" shape-rendering="crispEdges"/>
<rect x="1856.4" y="1112.1" width="73.8" height="16.6" fill="#cce1f3" shape-rendering="crispEdges"/>
<rect x="1271.1" y="1128" width="73.8" height="16.6" fill="#4392d2" shape-rendering="crispEdges"/>
<rect x="1344.3" y="1128" width="73.8" height="16.6" fill="#4392d2" shape-rendering="crispEdges"/>
<rect x="1417.4" y="1128" width="73.8" height="16.6" fill="#2a85cc" shape-rendering="crispEdges"/>
<rect x="1490.6" y="1128" width="73.8" height="16.6" fill="#0770c0" shape-rendering="crispEdges"/>
<rect x="1563.8" y="1128" width="73.8" height="16.6" fill="#0770c0" shape-rendering="crispEdges"/>
<rect x="1636.9" y="1128" width="73.8" height="16.6" fill="#0770c0" shape-rendering="crispEdges"/>
<rect x="1710.1" y="1128" width="73.8" height="16.6" fill="#e1edf8" shape-rendering="crispEdges"/>
<rect x="1783.3" y="1128" width="73.8" height="16.6" fill="#a6cdea" shape-rendering="crispEdges"/>
<rect x="1856.4" y="1128" width="73.8" height="16.6" fill="#bfdaf0" shape-rendering="crispEdges"/>
<rect x="1271.1" y="1144" width="73.8" height="16.6" fill="#368ccf" shape-rendering="crispEdges"/>
<rect x="1344.3" y="1144" width="73.8" height="16.6" fill="#4392d2" shape-rendering="crispEdges"/>
<rect x="1417.4" y="1144" width="73.8" height="16.6" fill="#2a85cc" shape-rendering="crispEdges"/>
<rect x="1490.6" y="1144" width="73.8" height="16.6" fill="#187ac6" shape-rendering="crispEdges"/>
<rect x="1563.8" y="1144" width="73.8" height="16.6" fill="#0770c0" shape-rendering="crispEdges"/>
<rect x="1636.9" y="1144" width="73.8" height="16.6" fill="#0770c0" shape-rendering="crispEdges"/>
<rect x="1710.1" y="1144" width="73.8" height="16.6" fill="#81b6e2" shape-rendering="crispEdges"/>
<rect x="1783.3" y="1144" width="73.8" height="16.6" fill="#e1edf8" shape-rendering="crispEdges"/>
<rect x="1856.4" y="1144" width="73.8" height="16.6" fill="#e1edf8" shape-rendering="crispEdges"/>
<rect x="1271.1" y="1160" width="73.8" height="16.6" fill="#e1edf8" shape-rendering="crispEdges"/>
<rect x="1344.3" y="1160" width="73.8" height="16.6" fill="#b2d4ed" shape-rendering="crispEdges"/>
<rect x="1417.4" y="1160" width="73.8" height="16.6" fill="#4392d2" shape-rendering="crispEdges"/>
<rect x="1490.6" y="1160" width="73.8" height="16.6" fill="#0770c0" shape-rendering="crispEdges"/>
<rect x="1563.8" y="1160" width="73.8" height="16.6" fill="#0770c0" shape-rendering="crispEdges"/>
<rect x="1636.9" y="1160" width="73.8" height="16.6" fill="#2180c9" shape-rendering="crispEdges"/>
<rect x="1710.1" y="1160" width="73.8" height="16.6" fill="#2a85cc" shape-rendering="crispEdges"/>
<rect x="1783.3" y="1160" width="73.8" height="16.6" fill="#5ca0d9" shape-rendering="crispEdges"/>
<rect x="1856.4" y="1160" width="73.8" height="16.6" fill="#2a85cc" shape-rendering="crispEdges"/>
<rect x="1271.1" y="1175.9" width="73.8" height="16.6" fill="#e1edf8" shape-rendering="crispEdges"/>
<rect x="1344.3" y="1175.9" width="73.8" height="16.6" fill="#a6cdea" shape-rendering="crispEdges"/>
<rect x="1417.4" y="1175.9" width="73.8" height="16.6" fill="#81b6e2" shape-rendering="crispEdges"/>
<rect x="1490.6" y="1175.9" width="73.8" height="16.6" fill="#a6cdea" shape-rendering="crispEdges"/>
<rect x="1563.8" y="1175.9" width="73.8" height="16.6" fill="#b2d4ed" shape-rendering="crispEdges"/>
<rect x="1636.9" y="1175.9" width="73.8" height="16.6" fill="#a6cdea" shape-rendering="crispEdges"/>
<rect x="1710.1" y="1175.9" width="73.8" height="16.6" fill="#0770c0" shape-rendering="crispEdges"/>
<rect x="1783.3" y="1175.9" width="73.8" height="16.6" fill="#5ca0d9" shape-rendering="crispEdges"/>
<rect x="1856.4" y="1175.9" width="73.8" height="16.6" fill="#0770c0" shape-rendering="crispEdges"/>
<rect x="1271.1" y="1191.8" width="73.8" height="16.6" fill="#d8e8f6" shape-rendering="crispEdges"/>
<rect x="1344.3" y="1191.8" width="73.8" height="16.6" fill="#e1edf8" shape-rendering="crispEdges"/>
<rect x="1417.4" y="1191.8" width="73.8" height="16.6" fill="#b2d4ed" shape-rendering="crispEdges"/>
<rect x="1490.6" y="1191.8" width="73.8" height="16.6" fill="#5ca0d9" shape-rendering="crispEdges"/>
<rect x="1563.8" y="1191.8" width="73.8" height="16.6" fill="#81b6e2" shape-rendering="crispEdges"/>
<rect x="1636.9" y="1191.8" width="73.8" height="16.6" fill="#5ca0d9" shape-rendering="crispEdges"/>
<rect x="1710.1" y="1191.8" width="73.8" height="16.6" fill="#368ccf" shape-rendering="crispEdges"/>
<rect x="1783.3" y="1191.8" width="73.8" height="16.6" fill="#0770c0" shape-rendering="crispEdges"/>
<rect x="1856.4" y="1191.8" width="73.8" height="16.6" fill="#2a85cc" shape-rendering="crispEdges"/>
<rect x="1271.1" y="1207.8" width="73.8" height="16.6" fill="#a6cdea" shape-rendering="crispEdges"/>
<rect x="1344.3" y="1207.8" width="73.8" height="16.6" fill="#4392d2" shape-rendering="crispEdges"/>
<rect x="1417.4" y="1207.8" width="73.8" height="16.6" fill="#5ca0d9" shape-rendering="crispEdges"/>
<rect x="1490.6" y="1207.8" width="73.8" height="16.6" fill="#0770c0" shape-rendering="crispEdges"/>
<rect x="1563.8" y="1207.8" width="73.8" height="16.6" fill="#0770c0" shape-rendering="crispEdges"/>
<rect x="1636.9" y="1207.8" width="73.8" height="16.6" fill="#2a85cc" shape-rendering="crispEdges"/>
<rect x="1710.1" y="1207.8" width="73.8" height="16.6" fill="#5ca0d9" shape-rendering="crispEdges"/>
<rect x="1783.3" y="1207.8" width="73.8" height="16.6" fill="#e1edf8" shape-rendering="crispEdges"/>
<rect x="1856.4" y="1207.8" width="73.8" height="16.6" fill="#81b6e2" shape-rendering="crispEdges"/>
<rect x="1271.1" y="1223.8" width="73.8" height="16.6" fill="#d8e8f6" shape-rendering="crispEdges"/>
<rect x="1344.3" y="1223.8" width="73.8" height="16.6" fill="#e1edf8" shape-rendering="crispEdges"/>
<rect x="1417.4" y="1223.8" width="73.8" height="16.6" fill="#bfdaf0" shape-rendering="crispEdges"/>
<rect x="1490.6" y="1223.8" width="73.8" height="16.6" fill="#5ca0d9" shape-rendering="crispEdges"/>
<rect x="1563.8" y="1223.8" width="73.8" height="16.6" fill="#81b6e2" shape-rendering="crispEdges"/>
<rect x="1636.9" y="1223.8" width="73.8" height="16.6" fill="#2a85cc" shape-rendering="crispEdges"/>
<rect x="1710.1" y="1223.8" width="73.8" height="16.6" fill="#0770c0" shape-rendering="crispEdges"/>
<rect x="1783.3" y="1223.8" width="73.8" height="16.6" fill="#0770c0" shape-rendering="crispEdges"/>
<rect x="1856.4" y="1223.8" width="73.8" height="16.6" fill="#0770c0" shape-rendering="crispEdges"/>
<rect x="1271.1" y="1239.7" width="73.8" height="16.6" fill="#e1edf8" shape-rendering="crispEdges"/>
<rect x="1344.3" y="1239.7" width="73.8" height="16.6" fill="#5ca0d9" shape-rendering="crispEdges"/>
<rect x="1417.4" y="1239.7" width="73.8" height="16.6" fill="#b2d4ed" shape-rendering="crispEdges"/>
<rect x="1490.6" y="1239.7" width="73.8" height="16.6" fill="#0770c0" shape-rendering="crispEdges"/>
<rect x="1563.8" y="1239.7" width="73.8" height="16.6" fill="#2a85cc" shape-rendering="crispEdges"/>
<rect x="1636.9" y="1239.7" width="73.8" height="16.6" fill="#0770c0" shape-rendering="crispEdges"/>
<rect x="1710.1" y="1239.7" width="73.8" height="16.6" fill="#5ca0d9" shape-rendering="crispEdges"/>
<rect x="1783.3" y="1239.7" width="73.8" height="16.6" fill="#a6cdea" shape-rendering="crispEdges"/>
<rect x="1856.4" y="1239.7" width="73.8" height="16.6" fill="#0770c0" shape-rendering="crispEdges"/>
<rect x="1271.1" y="1255.7" width="73.8" height="16.6" fill="#4392d2" shape-rendering="crispEdges"/>
<rect x="1344.3" y="1255.7" width="73.8" height="16.6" fill="#81b6e2" shape-rendering="crispEdges"/>
<rect x="1417.4" y="1255.7" width="73.8" height="16.6" fill="#5ca0d9" shape-rendering="crispEdges"/>
<rect x="1490.6" y="1255.7" width="73.8" height="16.6" fill="#4392d2" shape-rendering="crispEdges"/>
<rect x="1563.8" y="1255.7" width="73.8" height="16.6" fill="#a6cdea" shape-rendering="crispEdges"/>
<rect x="1636.9" y="1255.7" width="73.8" height="16.6" fill="#e5effa" shape-rendering="crispEdges"/>
<rect x="1710.1" y="1255.7" width="73.8" height="16.6" fill="#0770c0" shape-rendering="crispEdges"/>
<rect x="1783.3" y="1255.7" width="73.8" height="16.6" fill="#0770c0" shape-rendering="crispEdges"/>
<rect x="1856.4" y="1255.7" width="73.8" height="16.6" fill="#0770c0" shape-rendering="crispEdges"/>
<rect x="1271.1" y="1271.6" width="73.8" height="16.6" fill="#e1edf8" shape-rendering="crispEdges"/>
<rect x="1344.3" y="1271.6" width="73.8" height="16.6" fill="#bfdaf0" shape-rendering="crispEdges"/>
<rect x="1417.4" y="1271.6" width="73.8" height="16.6" fill="#b2d4ed" shape-rendering="crispEdges"/>
<rect x="1490.6" y="1271.6" width="73.8" height="16.6" fill="#0770c0" shape-rendering="crispEdges"/>
<rect x="1563.8" y="1271.6" width="73.8" height="16.6" fill="#2180c9" shape-rendering="crispEdges"/>
<rect x="1636.9" y="1271.6" width="73.8" height="16.6" fill="#0770c0" shape-rendering="crispEdges"/>
<rect x="1710.1" y="1271.6" width="73.8" height="16.6" fill="#1075c3" shape-rendering="crispEdges"/>
<rect x="1783.3" y="1271.6" width="73.8" height="16.6" fill="#0770c0" shape-rendering="crispEdges"/>
<rect x="1856.4" y="1271.6" width="73.8" height="16.6" fill="#0770c0" shape-rendering="crispEdges"/>
<rect x="1271.1" y="1287.5" width="73.8" height="16.6" fill="#e1edf8" shape-rendering="crispEdges"/>
<rect x="1344.3" y="1287.5" width="73.8" height="16.6" fill="#a6cdea" shape-rendering="crispEdges"/>
<rect x="1417.4" y="1287.5" width="73.8" height="16.6" fill="#81b6e2" shape-rendering="crispEdges"/>
<rect x="1490.6" y="1287.5" width="73.8" height="16.6" fill="#0770c0" shape-rendering="crispEdges"/>
<rect x="1563.8" y="1287.5" width="73.8" height="16.6" fill="#0770c0" shape-rendering="crispEdges"/>
<rect x="1636.9" y="1287.5" width="73.8" height="16.6" fill="#1075c3" shape-rendering="crispEdges"/>
<rect x="1710.1" y="1287.5" width="73.8" height="16.6" fill="#81b6e2" shape-rendering="crispEdges"/>
<rect x="1783.3" y="1287.5" width="73.8" height="16.6" fill="#a6cdea" shape-rendering="crispEdges"/>
<rect x="1856.4" y="1287.5" width="73.8" height="16.6" fill="#81b6e2" shape-rendering="crispEdges"/>
<rect x="1271.1" y="1303.5" width="73.8" height="16.6" fill="#e1edf8" shape-rendering="crispEdges"/>
<rect x="1344.3" y="1303.5" width="73.8" height="16.6" fill="#bfdaf0" shape-rendering="crispEdges"/>
<rect x="1417.4" y="1303.5" width="73.8" height="16.6" fill="#b2d4ed" shape-rendering="crispEdges"/>
<rect x="1490.6" y="1303.5" width="73.8" height="16.6" fill="#81b6e2" shape-rendering="crispEdges"/>
<rect x="1563.8" y="1303.5" width="73.8" height="16.6" fill="#81b6e2" shape-rendering="crispEdges"/>
<rect x="1636.9" y="1303.5" width="73.8" height="16.6" fill="#5ca0d9" shape-rendering="crispEdges"/>
<rect x="1710.1" y="1303.5" width="73.8" height="16.6" fill="#187ac6" shape-rendering="crispEdges"/>
<rect x="1783.3" y="1303.5" width="73.8" height="16.6" fill="#0770c0" shape-rendering="crispEdges"/>
<rect x="1856.4" y="1303.5" width="73.8" height="16.6" fill="#2a85cc" shape-rendering="crispEdges"/>
<rect x="1271.1" y="1319.4" width="73.8" height="16.6" fill="#b2d4ed" shape-rendering="crispEdges"/>
<rect x="1344.3" y="1319.4" width="73.8" height="16.6" fill="#a6cdea" shape-rendering="crispEdges"/>
<rect x="1417.4" y="1319.4" width="73.8" height="16.6" fill="#a6cdea" shape-rendering="crispEdges"/>
<rect x="1490.6" y="1319.4" width="73.8" height="16.6" fill="#5ca0d9" shape-rendering="crispEdges"/>
<rect x="1563.8" y="1319.4" width="73.8" height="16.6" fill="#0770c0" shape-rendering="crispEdges"/>
<rect x="1636.9" y="1319.4" width="73.8" height="16.6" fill="#0770c0" shape-rendering="crispEdges"/>
<rect x="1710.1" y="1319.4" width="73.8" height="16.6" fill="#bfdaf0" shape-rendering="crispEdges"/>
<rect x="1783.3" y="1319.4" width="73.8" height="16.6" fill="#5ca0d9" shape-rendering="crispEdges"/>
<rect x="1856.4" y="1319.4" width="73.8" height="16.6" fill="#e5effa" shape-rendering="crispEdges"/>
<rect x="1271.1" y="1335.4" width="73.8" height="16.6" fill="#cce1f3" shape-rendering="crispEdges"/>
<rect x="1344.3" y="1335.4" width="73.8" height="16.6" fill="#e5effa" shape-rendering="crispEdges"/>
<rect x="1417.4" y="1335.4" width="73.8" height="16.6" fill="#4392d2" shape-rendering="crispEdges"/>
<rect x="1490.6" y="1335.4" width="73.8" height="16.6" fill="#0770c0" shape-rendering="crispEdges"/>
<rect x="1563.8" y="1335.4" width="73.8" height="16.6" fill="#2a85cc" shape-rendering="crispEdges"/>
<rect x="1636.9" y="1335.4" width="73.8" height="16.6" fill="#0770c0" shape-rendering="crispEdges"/>
<rect x="1710.1" y="1335.4" width="73.8" height="16.6" fill="#0770c0" shape-rendering="crispEdges"/>
<rect x="1783.3" y="1335.4" width="73.8" height="16.6" fill="#0770c0" shape-rendering="crispEdges"/>
<rect x="1856.4" y="1335.4" width="73.8" height="16.6" fill="#187ac6" shape-rendering="crispEdges"/>
<rect x="1271.1" y="1351.3" width="73.8" height="16.6" fill="#dceaf7" shape-rendering="crispEdges"/>
<rect x="1344.3" y="1351.3" width="73.8" height="16.6" fill="#e5effa" shape-rendering="crispEdges"/>
<rect x="1417.4" y="1351.3" width="73.8" height="16.6" fill="#a6cdea" shape-rendering="crispEdges"/>
<rect x="1490.6" y="1351.3" width="73.8" height="16.6" fill="#a6cdea" shape-rendering="crispEdges"/>
<rect x="1563.8" y="1351.3" width="73.8" height="16.6" fill="#5ca0d9" shape-rendering="crispEdges"/>
<rect x="1636.9" y="1351.3" width="73.8" height="16.6" fill="#81b6e2" shape-rendering="crispEdges"/>
<rect x="1710.1" y="1351.3" width="73.8" height="16.6" fill="#0770c0" shape-rendering="crispEdges"/>
<rect x="1783.3" y="1351.3" width="73.8" height="16.6" fill="#187ac6" shape-rendering="crispEdges"/>
<rect x="1856.4" y="1351.3" width="73.8" height="16.6" fill="#0770c0" shape-rendering="crispEdges"/>
<rect x="1271.1" y="1367.3" width="73.8" height="16.6" fill="#0770c0" shape-rendering="crispEdges"/>
<rect x="1344.3" y="1367.3" width="73.8" height="16.6" fill="#0770c0" shape-rendering="crispEdges"/>
<rect x="1417.4" y="1367.3" width="73.8" height="16.6" fill="#0770c0" shape-rendering="crispEdges"/>
<rect x="1490.6" y="1367.3" width="73.8" height="16.6" fill="#0770c0" shape-rendering="crispEdges"/>
<rect x="1563.8" y="1367.3" width="73.8" height="16.6" fill="#81b6e2" shape-rendering="crispEdges"/>
<rect x="1636.9" y="1367.3" width="73.8" height="16.6" fill="#5ca0d9" shape-rendering="crispEdges"/>
<rect x="1710.1" y="1367.3" width="73.8" height="16.6" fill="#cce1f3" shape-rendering="crispEdges"/>
<rect x="1783.3" y="1367.3" width="73.8" height="16.6" fill="#b2d4ed" shape-rendering="crispEdges"/>
<rect x="1856.4" y="1367.3" width="73.8" height="16.6" fill="#e1edf8" shape-rendering="crispEdges"/>
<rect x="1271.1" y="1383.2" width="73.8" height="16.6" fill="#5ca0d9" shape-rendering="crispEdges"/>
<rect x="1344.3" y="1383.2" width="73.8" height="16.6" fill="#187ac6" shape-rendering="crispEdges"/>
<rect x="1417.4" y="1383.2" width="73.8" height="16.6" fill="#187ac6" shape-rendering="crispEdges"/>
<rect x="1490.6" y="1383.2" width="73.8" height="16.6" fill="#0770c0" shape-rendering="crispEdges"/>
<rect x="1563.8" y="1383.2" width="73.8" height="16.6" fill="#0770c0" shape-rendering="crispEdges"/>
<rect x="1636.9" y="1383.2" width="73.8" height="16.6" fill="#0770c0" shape-rendering="crispEdges"/>
<rect x="1710.1" y="1383.2" width="73.8" height="16.6" fill="#e5effa" shape-rendering="crispEdges"/>
<rect x="1783.3" y="1383.2" width="73.8" height="16.6" fill="#d8e8f6" shape-rendering="crispEdges"/>
<rect x="1856.4" y="1383.2" width="73.8" height="16.6" fill="#cce1f3" shape-rendering="crispEdges"/>
<rect x="1271.1" y="1399.2" width="73.8" height="16.6" fill="#e1edf8" shape-rendering="crispEdges"/>
<rect x="1344.3" y="1399.2" width="73.8" height="16.6" fill="#81b6e2" shape-rendering="crispEdges"/>
<rect x="1417.4" y="1399.2" width="73.8" height="16.6" fill="#5ca0d9" shape-rendering="crispEdges"/>
<rect x="1490.6" y="1399.2" width="73.8" height="16.6" fill="#0770c0" shape-rendering="crispEdges"/>
<rect x="1563.8" y="1399.2" width="73.8" height="16.6" fill="#0770c0" shape-rendering="crispEdges"/>
<rect x="1636.9" y="1399.2" width="73.8" height="16.6" fill="#0770c0" shape-rendering="crispEdges"/>
<rect x="1710.1" y="1399.2" width="73.8" height="16.6" fill="#368ccf" shape-rendering="crispEdges"/>
<rect x="1783.3" y="1399.2" width="73.8" height="16.6" fill="#0770c0" shape-rendering="crispEdges"/>
<rect x="1856.4" y="1399.2" width="73.8" height="16.6" fill="#368ccf" shape-rendering="crispEdges"/>
<rect x="1271.1" y="1415.2" width="73.8" height="16.6" fill="#e1edf8" shape-rendering="crispEdges"/>
<rect x="1344.3" y="1415.2" width="73.8" height="16.6" fill="#bfdaf0" shape-rendering="crispEdges"/>
<rect x="1417.4" y="1415.2" width="73.8" height="16.6" fill="#a6cdea" shape-rendering="crispEdges"/>
<rect x="1490.6" y="1415.2" width="73.8" height="16.6" fill="#2a85cc" shape-rendering="crispEdges"/>
<rect x="1563.8" y="1415.2" width="73.8" height="16.6" fill="#4392d2" shape-rendering="crispEdges"/>
<rect x="1636.9" y="1415.2" width="73.8" height="16.6" fill="#2a85cc" shape-rendering="crispEdges"/>
<rect x="1710.1" y="1415.2" width="73.8" height="16.6" fill="#0770c0" shape-rendering="crispEdges"/>
<rect x="1783.3" y="1415.2" width="73.8" height="16.6" fill="#0770c0" shape-rendering="crispEdges"/>
<rect x="1856.4" y="1415.2" width="73.8" height="16.6" fill="#0770c0" shape-rendering="crispEdges"/>
<rect x="1271.1" y="1431.1" width="73.8" height="16.6" fill="#e1edf8" shape-rendering="crispEdges"/>
<rect x="1344.3" y="1431.1" width="73.8" height="16.6" fill="#81b6e2" shape-rendering="crispEdges"/>
<rect x="1417.4" y="1431.1" width="73.8" height="16.6" fill="#81b6e2" shape-rendering="crispEdges"/>
<rect x="1490.6" y="1431.1" width="73.8" height="16.6" fill="#0770c0" shape-rendering="crispEdges"/>
<rect x="1563.8" y="1431.1" width="73.8" height="16.6" fill="#2180c9" shape-rendering="crispEdges"/>
<rect x="1636.9" y="1431.1" width="73.8" height="16.6" fill="#0770c0" shape-rendering="crispEdges"/>
<rect x="1710.1" y="1431.1" width="73.8" height="16.6" fill="#4392d2" shape-rendering="crispEdges"/>
<rect x="1783.3" y="1431.1" width="73.8" height="16.6" fill="#81b6e2" shape-rendering="crispEdges"/>
<rect x="1856.4" y="1431.1" width="73.8" height="16.6" fill="#6eabdd" shape-rendering="crispEdges"/>
<rect x="1271.1" y="1447" width="73.8" height="16.6" fill="#e1edf8" shape-rendering="crispEdges"/>
<rect x="1344.3" y="1447" width="73.8" height="16.6" fill="#5ca0d9" shape-rendering="crispEdges"/>
<rect x="1417.4" y="1447" width="73.8" height="16.6" fill="#6eabdd" shape-rendering="crispEdges"/>
<rect x="1490.6" y="1447" width="73.8" height="16.6" fill="#0770c0" shape-rendering="crispEdges"/>
<rect x="1563.8" y="1447" width="73.8" height="16.6" fill="#0770c0" shape-rendering="crispEdges"/>
<rect x="1636.9" y="1447" width="73.8" height="16.6" fill="#0770c0" shape-rendering="crispEdges"/>
<rect x="1710.1" y="1447" width="73.8" height="16.6" fill="#0770c0" shape-rendering="crispEdges"/>
<rect x="1783.3" y="1447" width="73.8" height="16.6" fill="#0770c0" shape-rendering="crispEdges"/>
<rect x="1856.4" y="1447" width="73.8" height="16.6" fill="#0770c0" shape-rendering="crispEdges"/>
<rect x="1271.1" y="665.5" width="658.5" height="797.5" fill="none" stroke="#222" stroke-width="1.2"/>
<line x1="1490.6" y1="661.5" x2="1490.6" y2="1463" stroke="#222" stroke-width="1.2"/>
<line x1="1710.1" y1="661.5" x2="1710.1" y2="1463" stroke="#222" stroke-width="1.2"/>
<text x="0" y="0" font-size="15" text-anchor="end" transform="translate(1268 678.9) scale(1 1.038)">BTRC</text>
<text x="0" y="0" font-size="15" text-anchor="end" transform="translate(1268 694.8) scale(1 1.038)">CD44</text>
<text x="0" y="0" font-size="15" text-anchor="end" transform="translate(1268 710.8) scale(1 1.038)">CSNK1D</text>
<text x="0" y="0" font-size="15" text-anchor="end" transform="translate(1268 726.7) scale(1 1.038)">CSNK1E</text>
<text x="0" y="0" font-size="15" text-anchor="end" transform="translate(1268 742.7) scale(1 1.038)">CUL1</text>
<text x="0" y="0" font-size="15" text-anchor="end" transform="translate(1268 758.6) scale(1 1.038)">DLG1</text>
<text x="0" y="0" font-size="15" text-anchor="end" transform="translate(1268 774.6) scale(1 1.038)">DLG3</text>
<text x="0" y="0" font-size="15" text-anchor="end" transform="translate(1268 790.5) scale(1 1.038)">DLG4</text>
<text x="0" y="0" font-size="15" text-anchor="end" transform="translate(1268 806.5) scale(1 1.038)">DLG5</text>
<text x="0" y="0" font-size="15" text-anchor="end" transform="translate(1268 822.4) scale(1 1.038)">FAT4</text>
<text x="0" y="0" font-size="15" text-anchor="end" transform="translate(1268 838.4) scale(1 1.038)">FRMD6</text>
<text x="0" y="0" font-size="15" text-anchor="end" font-weight="bold" fill="#b3141e" transform="translate(1268 854.3) scale(1 1.038)">LATS2</text>
<text x="0" y="0" font-size="15" text-anchor="end" transform="translate(1268 870.3) scale(1 1.038)">LLGL1</text>
<text x="0" y="0" font-size="15" text-anchor="end" transform="translate(1268 886.2) scale(1 1.038)">MOB1A</text>
<text x="0" y="0" font-size="15" text-anchor="end" font-weight="bold" fill="#b3141e" transform="translate(1268 902.2) scale(1 1.038)">MST1</text>
<text x="0" y="0" font-size="15" text-anchor="end" transform="translate(1268 918.1) scale(1 1.038)">PARD3</text>
<text x="0" y="0" font-size="15" text-anchor="end" transform="translate(1268 934.1) scale(1 1.038)">PATJ</text>
<text x="0" y="0" font-size="15" text-anchor="end" transform="translate(1268 950) scale(1 1.038)">PPP1CB</text>
<text x="0" y="0" font-size="15" text-anchor="end" transform="translate(1268 966) scale(1 1.038)">PPP1CC</text>
<text x="0" y="0" font-size="15" text-anchor="end" transform="translate(1268 981.9) scale(1 1.038)">PPP1R10</text>
<text x="0" y="0" font-size="15" text-anchor="end" transform="translate(1268 997.9) scale(1 1.038)">PPP1R14B</text>
<text x="0" y="0" font-size="15" text-anchor="end" transform="translate(1268 1013.8) scale(1 1.038)">PPP1R3C</text>
<text x="0" y="0" font-size="15" text-anchor="end" transform="translate(1268 1029.8) scale(1 1.038)">PPP1R3D</text>
<text x="0" y="0" font-size="15" text-anchor="end" transform="translate(1268 1045.7) scale(1 1.038)">PPP1R7</text>
<text x="0" y="0" font-size="15" text-anchor="end" transform="translate(1268 1061.7) scale(1 1.038)">PPP2CA</text>
<text x="0" y="0" font-size="15" text-anchor="end" transform="translate(1268 1077.6) scale(1 1.038)">PPP2R1B</text>
<text x="0" y="0" font-size="15" text-anchor="end" transform="translate(1268 1093.6) scale(1 1.038)">PPP2R2C</text>
<text x="0" y="0" font-size="15" text-anchor="end" transform="translate(1268 1109.5) scale(1 1.038)">PPP2R5A</text>
<text x="0" y="0" font-size="15" text-anchor="end" transform="translate(1268 1125.5) scale(1 1.038)">PPP2R5C</text>
<text x="0" y="0" font-size="15" text-anchor="end" transform="translate(1268 1141.4) scale(1 1.038)">PPP2R5E</text>
<text x="0" y="0" font-size="15" text-anchor="end" transform="translate(1268 1157.4) scale(1 1.038)">PTPA</text>
<text x="0" y="0" font-size="15" text-anchor="end" transform="translate(1268 1173.3) scale(1 1.038)">RASSF1</text>
<text x="0" y="0" font-size="15" text-anchor="end" transform="translate(1268 1189.3) scale(1 1.038)">SAV1</text>
<text x="0" y="0" font-size="15" text-anchor="end" transform="translate(1268 1205.2) scale(1 1.038)">SCRIB</text>
<text x="0" y="0" font-size="15" text-anchor="end" transform="translate(1268 1221.2) scale(1 1.038)">SKP1</text>
<text x="0" y="0" font-size="15" text-anchor="end" transform="translate(1268 1237.1) scale(1 1.038)">SKP2</text>
<text x="0" y="0" font-size="15" text-anchor="end" transform="translate(1268 1253.1) scale(1 1.038)">SMAD2</text>
<text x="0" y="0" font-size="15" text-anchor="end" transform="translate(1268 1269) scale(1 1.038)">SMAD3</text>
<text x="0" y="0" font-size="15" text-anchor="end" transform="translate(1268 1285) scale(1 1.038)">SMAD5</text>
<text x="0" y="0" font-size="15" text-anchor="end" transform="translate(1268 1300.9) scale(1 1.038)">STK3</text>
<text x="0" y="0" font-size="15" text-anchor="end" transform="translate(1268 1316.9) scale(1 1.038)">STK4</text>
<text x="0" y="0" font-size="15" text-anchor="end" font-weight="bold" fill="#b3141e" transform="translate(1268 1332.8) scale(1 1.038)">TEAD2</text>
<text x="0" y="0" font-size="15" text-anchor="end" transform="translate(1268 1348.8) scale(1 1.038)">TEAD4</text>
<text x="0" y="0" font-size="15" text-anchor="end" transform="translate(1268 1364.7) scale(1 1.038)">WWC1</text>
<text x="0" y="0" font-size="15" text-anchor="end" transform="translate(1268 1380.7) scale(1 1.038)">WWTR1</text>
<text x="0" y="0" font-size="15" text-anchor="end" font-weight="bold" fill="#b3141e" transform="translate(1268 1396.6) scale(1 1.038)">YAP1</text>
<text x="0" y="0" font-size="15" text-anchor="end" transform="translate(1268 1412.6) scale(1 1.038)">YWHAB</text>
<text x="0" y="0" font-size="15" text-anchor="end" transform="translate(1268 1428.5) scale(1 1.038)">YWHAH</text>
<text x="0" y="0" font-size="15" text-anchor="end" transform="translate(1268 1444.5) scale(1 1.038)">YWHAQ</text>
<text x="0" y="0" font-size="15" text-anchor="end" transform="translate(1268 1460.4) scale(1 1.038)">YWHAZ</text>
<defs><linearGradient id="cbv" x1="0" x2="0" y1="0" y2="1"><stop offset="0" stop-color="#0a70c0"/><stop offset="0.3" stop-color="#3a8ed2"/><stop offset="0.6" stop-color="#8cbfe5"/><stop offset="1" stop-color="#e6f0fa"/></linearGradient></defs>
<rect x="1943.4" y="665.5" width="24.7" height="797.8" fill="url(#cbv)"/>
<text x="0" y="0" font-size="23.5" text-anchor="middle" transform="translate(1955 656.7) scale(1 1.038)">High</text>
<text x="0" y="0" font-size="23.5" text-anchor="middle" transform="translate(1960.5 1485.6) scale(1 1.038)">Low</text>
<text x="0" y="0" font-size="30.5" font-weight="bold" textLength="145.9" lengthAdjust="spacingAndGlyphs" transform="translate(1309.5 1506.7) scale(1 1.038)">SC-0.77cP</text>
<text x="0" y="0" font-size="30.5" font-weight="bold" textLength="106" lengthAdjust="spacingAndGlyphs" transform="translate(1550 1506.7) scale(1 1.038)">SC-8cP</text>
<text x="0" y="0" font-size="30.5" font-weight="bold" textLength="197.1" lengthAdjust="spacingAndGlyphs" transform="translate(1722.5 1506.7) scale(1 1.038)">shTRPV4-8cP</text>
<text x="0" y="0" font-size="30.5" font-weight="bold" textLength="146.1" lengthAdjust="spacingAndGlyphs" transform="translate(1310.9 1740.6) scale(1 1.038)">SC-0.77cP</text>
<text x="0" y="0" font-size="30.5" font-weight="bold" textLength="105.4" lengthAdjust="spacingAndGlyphs" transform="translate(1551.6 1740.6) scale(1 1.038)">SC-8cP</text>
<text x="0" y="0" font-size="30.5" font-weight="bold" textLength="196.6" lengthAdjust="spacingAndGlyphs" transform="translate(1724.4 1740.6) scale(1 1.038)">shTRPV4-8cP</text>
<rect x="1270.3" y="1528.2" width="73.8" height="45.8" fill="#5ca0d9" shape-rendering="crispEdges"/>
<rect x="1343.5" y="1528.2" width="73.8" height="45.8" fill="#5ca0d9" shape-rendering="crispEdges"/>
<rect x="1416.7" y="1528.2" width="73.8" height="45.8" fill="#1075c3" shape-rendering="crispEdges"/>
<rect x="1489.9" y="1528.2" width="73.8" height="45.8" fill="#81b6e2" shape-rendering="crispEdges"/>
<rect x="1563.1" y="1528.2" width="73.8" height="45.8" fill="#b2d4ed" shape-rendering="crispEdges"/>
<rect x="1636.2" y="1528.2" width="73.8" height="45.8" fill="#bfdaf0" shape-rendering="crispEdges"/>
<rect x="1709.4" y="1528.2" width="73.8" height="45.8" fill="#94c2e6" shape-rendering="crispEdges"/>
<rect x="1782.6" y="1528.2" width="73.8" height="45.8" fill="#e1edf8" shape-rendering="crispEdges"/>
<rect x="1855.8" y="1528.2" width="73.8" height="45.8" fill="#bfdaf0" shape-rendering="crispEdges"/>
<rect x="1270.3" y="1573.4" width="73.8" height="45.8" fill="#0770c0" shape-rendering="crispEdges"/>
<rect x="1343.5" y="1573.4" width="73.8" height="45.8" fill="#2180c9" shape-rendering="crispEdges"/>
<rect x="1416.7" y="1573.4" width="73.8" height="45.8" fill="#368ccf" shape-rendering="crispEdges"/>
<rect x="1489.9" y="1573.4" width="73.8" height="45.8" fill="#b2d4ed" shape-rendering="crispEdges"/>
<rect x="1563.1" y="1573.4" width="73.8" height="45.8" fill="#81b6e2" shape-rendering="crispEdges"/>
<rect x="1636.2" y="1573.4" width="73.8" height="45.8" fill="#e1edf8" shape-rendering="crispEdges"/>
<rect x="1709.4" y="1573.4" width="73.8" height="45.8" fill="#94c2e6" shape-rendering="crispEdges"/>
<rect x="1782.6" y="1573.4" width="73.8" height="45.8" fill="#6eabdd" shape-rendering="crispEdges"/>
<rect x="1855.8" y="1573.4" width="73.8" height="45.8" fill="#5ca0d9" shape-rendering="crispEdges"/>
<rect x="1270.3" y="1618.6" width="73.8" height="45.8" fill="#bad8ef" shape-rendering="crispEdges"/>
<rect x="1343.5" y="1618.6" width="73.8" height="45.8" fill="#a6cdea" shape-rendering="crispEdges"/>
<rect x="1416.7" y="1618.6" width="73.8" height="45.8" fill="#a6cdea" shape-rendering="crispEdges"/>
<rect x="1489.9" y="1618.6" width="73.8" height="45.8" fill="#5ca0d9" shape-rendering="crispEdges"/>
<rect x="1563.1" y="1618.6" width="73.8" height="45.8" fill="#0770c0" shape-rendering="crispEdges"/>
<rect x="1636.2" y="1618.6" width="73.8" height="45.8" fill="#0770c0" shape-rendering="crispEdges"/>
<rect x="1709.4" y="1618.6" width="73.8" height="45.8" fill="#bad8ef" shape-rendering="crispEdges"/>
<rect x="1782.6" y="1618.6" width="73.8" height="45.8" fill="#5ca0d9" shape-rendering="crispEdges"/>
<rect x="1855.8" y="1618.6" width="73.8" height="45.8" fill="#e1edf8" shape-rendering="crispEdges"/>
<rect x="1270.3" y="1663.8" width="73.8" height="45.8" fill="#5ca0d9" shape-rendering="crispEdges"/>
<rect x="1343.5" y="1663.8" width="73.8" height="45.8" fill="#187ac6" shape-rendering="crispEdges"/>
<rect x="1416.7" y="1663.8" width="73.8" height="45.8" fill="#187ac6" shape-rendering="crispEdges"/>
<rect x="1489.9" y="1663.8" width="73.8" height="45.8" fill="#0770c0" shape-rendering="crispEdges"/>
<rect x="1563.1" y="1663.8" width="73.8" height="45.8" fill="#0770c0" shape-rendering="crispEdges"/>
<rect x="1636.2" y="1663.8" width="73.8" height="45.8" fill="#0770c0" shape-rendering="crispEdges"/>
<rect x="1709.4" y="1663.8" width="73.8" height="45.8" fill="#e1edf8" shape-rendering="crispEdges"/>
<rect x="1782.6" y="1663.8" width="73.8" height="45.8" fill="#d3e5f5" shape-rendering="crispEdges"/>
<rect x="1855.8" y="1663.8" width="73.8" height="45.8" fill="#d3e5f5" shape-rendering="crispEdges"/>
<rect x="1270.3" y="1528.2" width="658.7" height="180.8" fill="none" stroke="#777" stroke-width="1.6"/>
<line x1="1490.7" y1="1528.2" x2="1490.7" y2="1709" stroke="#555" stroke-width="1.3"/>
<line x1="1710.6" y1="1528.2" x2="1710.6" y2="1709" stroke="#555" stroke-width="1.3"/>
<text x="0" y="0" font-size="24" text-anchor="end" fill="#b01c2e" transform="translate(1261 1559.3) scale(1 1.038)">LATS2</text>
<text x="0" y="0" font-size="24" text-anchor="end" fill="#b01c2e" transform="translate(1261 1604.5) scale(1 1.038)">MST1</text>
<text x="0" y="0" font-size="24" text-anchor="end" fill="#b01c2e" transform="translate(1261 1649.7) scale(1 1.038)">TEAD2</text>
<text x="0" y="0" font-size="24" text-anchor="end" fill="#b01c2e" transform="translate(1261 1694.9) scale(1 1.038)">YAP1</text>
<defs><filter id="blur1" x="-10%" y="-10%" width="120%" height="120%" color-interpolation-filters="sRGB"><feGaussianBlur in="SourceGraphic" stdDeviation="1.5" result="b"/><feTurbulence type="fractalNoise" baseFrequency="0.2" numOctaves="2" seed="4" result="n"/><feColorMatrix in="n" type="matrix" values="0 0 0 0 1  0 0 0 0 1  0 0 0 0 1  1.4 0 0 0 -0.2" result="m"/><feComposite in="b" in2="m" operator="arithmetic" k1="0.9" k2="0.55" k3="0" k4="0"/></filter><filter id="blur2" x="-10%" y="-10%" width="120%" height="120%" color-interpolation-filters="sRGB"><feGaussianBlur in="SourceGraphic" stdDeviation="1.4" result="b"/><feTurbulence type="fractalNoise" baseFrequency="0.15" numOctaves="2" seed="9" result="n"/><feColorMatrix in="n" type="matrix" values="0 0 0 0 1  0 0 0 0 1  0 0 0 0 1  1.0 0 0 0 0" result="m"/><feComposite in="b" in2="m" operator="arithmetic" k1="0.5" k2="0.8" k3="0" k4="0"/></filter></defs>
<text x="0" y="0" font-size="46" font-weight="bold" transform="translate(0.5 1932) scale(1 1.038)">e</text>
<text x="0" y="0" font-size="30.5" text-anchor="middle" font-weight="bold" textLength="105" lengthAdjust="spacingAndGlyphs" transform="translate(256.9 1960.2) scale(1 1.038)">0.77 cP</text>
<text x="0" y="0" font-size="30.5" text-anchor="middle" font-weight="bold" textLength="62" lengthAdjust="spacingAndGlyphs" transform="translate(521.2 1960.2) scale(1 1.038)">8 cP</text>
<text x="0" y="0" font-size="29.5" text-anchor="middle" font-weight="bold" fill="#1aa64c" textLength="62" lengthAdjust="spacingAndGlyphs" transform="translate(90.4 2066.6) scale(1 1.038)">YAP</text>
<text x="0" y="0" font-size="29.5" text-anchor="middle" font-weight="bold" fill="#1412d2" textLength="112" lengthAdjust="spacingAndGlyphs" transform="translate(65.1 2246.3) scale(1 1.038)">nucleus</text>
<text x="0" y="0" font-size="29.5" text-anchor="middle" font-weight="bold" textLength="151" lengthAdjust="spacingAndGlyphs" transform="translate(566.8 2354) scale(1 1.038)">bar: 20 µm</text>
<clipPath id="cTL"><rect x="130.3" y="1966.7" width="252.2" height="175.1"/></clipPath>
<rect x="130.3" y="1966.7" width="252.2" height="175.1" fill="#000"/>
<clipPath id="cTR"><rect x="395" y="1966.7" width="252.7" height="175.1"/></clipPath>
<rect x="395" y="1966.7" width="252.7" height="175.1" fill="#000"/>
<clipPath id="cBL"><rect x="130.3" y="2146.3" width="252.2" height="175.3"/></clipPath>
<rect x="130.3" y="2146.3" width="252.2" height="175.3" fill="#000"/>
<clipPath id="cBR"><rect x="395" y="2146.3" width="252.7" height="175.3"/></clipPath>
<rect x="395" y="2146.3" width="252.7" height="175.3" fill="#000"/>
<g clip-path="url(#cTL)"><g filter="url(#blur1)" transform="translate(130.3 1966.7)">
<ellipse cx="112" cy="22" rx="20" ry="13" fill="#20a420" opacity="0.9" transform="rotate(15 112 22)"/>
<ellipse cx="226" cy="34" rx="23" ry="8.5" fill="#20a420" opacity="0.9" transform="rotate(-10 226 34)"/>
<ellipse cx="48" cy="58" rx="57" ry="9" fill="#188a18" opacity="0.9" transform="rotate(55 48 58)"/>
<ellipse cx="42" cy="54" rx="12" ry="13" fill="#2ed02e" opacity="0.8" transform="rotate(55 42 54)"/>
<ellipse cx="64" cy="86" rx="20" ry="10" fill="#188a18" opacity="0.8" transform="rotate(55 64 86)"/>
<ellipse cx="36.5" cy="81" rx="13" ry="20" fill="#188a18" opacity="0.9"/>
<ellipse cx="141" cy="47" rx="15" ry="11" fill="#188a18" opacity="0.6"/>
<ellipse cx="185" cy="103.5" rx="65" ry="9.5" fill="#188a18" opacity="0.95" transform="rotate(62.4 185 103.5)"/>
<ellipse cx="172" cy="78" rx="25" ry="9" fill="#20a420" opacity="0.6" transform="rotate(62 172 78)"/>
<ellipse cx="104.7" cy="88.6" rx="11" ry="15" fill="#20a420" opacity="0.85"/>
<ellipse cx="138" cy="88" rx="18" ry="16" fill="#20a420" opacity="0.9"/>
<ellipse cx="90" cy="136" rx="28" ry="12.5" fill="#20a420" opacity="0.9" transform="rotate(55 90 136)"/>
<ellipse cx="164.5" cy="142" rx="7" ry="23" fill="#188a18" opacity="0.55"/>
<ellipse cx="23" cy="157" rx="15" ry="16" fill="#20a420" opacity="0.9" transform="rotate(30 23 157)"/>
<ellipse cx="229" cy="143" rx="11" ry="19" fill="#188a18" opacity="0.6" transform="rotate(-35 229 143)"/>
<ellipse cx="1" cy="52" rx="4" ry="22" fill="#188a18" opacity="0.7"/>
<ellipse cx="250" cy="172" rx="6" ry="6" fill="#188a18" opacity="0.7"/>
<ellipse cx="113" cy="21" rx="2.5" ry="2.2" fill="#0a3a0a" opacity="0.8"/>
<ellipse cx="227" cy="34" rx="2.5" ry="2.2" fill="#0a3a0a" opacity="0.8"/>
<ellipse cx="138" cy="92" rx="2.5" ry="2.2" fill="#0a3a0a" opacity="0.8"/>
<ellipse cx="90" cy="134" rx="2.5" ry="2.2" fill="#0a3a0a" opacity="0.8"/>
<ellipse cx="22" cy="154" rx="2.5" ry="2.2" fill="#0a3a0a" opacity="0.8"/>
</g></g>
<g clip-path="url(#cTR)"><g filter="url(#blur1)" transform="translate(395 1966.7)">
<ellipse cx="45" cy="20" rx="15" ry="18" fill="#20a420" opacity="0.85"/>
<ellipse cx="9" cy="41" rx="11" ry="15" fill="#20a420" opacity="0.85"/>
<ellipse cx="19" cy="72" rx="17" ry="22" fill="#188a18" opacity="0.9" transform="rotate(10 19 72)"/>
<ellipse cx="21" cy="64" rx="9" ry="9" fill="#2ed02e" opacity="0.6"/>
<ellipse cx="106" cy="10" rx="14" ry="11" fill="#20a420" opacity="0.9"/>
<ellipse cx="137" cy="5" rx="8" ry="6" fill="#188a18" opacity="0.5"/>
<ellipse cx="66" cy="93" rx="14" ry="25" fill="#20a420" opacity="0.9" transform="rotate(20 66 93)"/>
<ellipse cx="64" cy="96" rx="8" ry="11" fill="#2ed02e" opacity="0.7" transform="rotate(20 64 96)"/>
<path d="M117 57 L136 70 L151 86 L152 112 L138 124 L118 125 L112 104 L114 78 Z" fill="#20a420" opacity="0.9"/>
<ellipse cx="138" cy="92" rx="11" ry="13" fill="#2ed02e" opacity="0.9"/>
<ellipse cx="182" cy="78" rx="24" ry="18" fill="#20a420" opacity="0.95" transform="rotate(-5 182 78)"/>
<ellipse cx="180" cy="76" rx="14" ry="11" fill="#2ed02e" opacity="0.95"/>
<ellipse cx="238" cy="93" rx="13" ry="32" fill="#188a18" opacity="0.9" transform="rotate(-5 238 93)"/>
<ellipse cx="228" cy="142" rx="14" ry="30" fill="#188a18" opacity="0.9" transform="rotate(-10 228 142)"/>
<ellipse cx="49" cy="155" rx="19" ry="15" fill="#188a18" opacity="0.9" transform="rotate(-20 49 155)"/>
<ellipse cx="52" cy="151" rx="11" ry="9" fill="#2ed02e" opacity="0.7"/>
<ellipse cx="248" cy="20" rx="6" ry="11" fill="#188a18" opacity="0.7"/>
</g></g>
<g clip-path="url(#cBL)"><g filter="url(#blur2)" transform="translate(130.3 2146.3)">
<ellipse cx="114" cy="22" rx="14" ry="9.5" fill="#1e1ef2" opacity="0.95" transform="rotate(30 114 22)"/>
<ellipse cx="219" cy="34.5" rx="12" ry="8" fill="#1e1ef2" opacity="0.95"/>
<ellipse cx="140" cy="47.5" rx="11" ry="9" fill="#1e1ef2" opacity="0.95"/>
<ellipse cx="43" cy="56.6" rx="10" ry="16" fill="#1e1ef2" opacity="0.95" transform="rotate(-35 43 56.6)"/>
<ellipse cx="179" cy="77" rx="10" ry="12" fill="#1e1ef2" opacity="0.95" transform="rotate(-20 179 77)"/>
<ellipse cx="35" cy="88" rx="11" ry="8" fill="#1e1ef2" opacity="0.95"/>
<ellipse cx="71" cy="92" rx="8" ry="13" fill="#1e1ef2" opacity="0.95" transform="rotate(-30 71 92)"/>
<ellipse cx="103.5" cy="87.5" rx="10" ry="10" fill="#1e1ef2" opacity="0.95"/>
<ellipse cx="136" cy="88" rx="14" ry="13" fill="#1e1ef2" opacity="0.95"/>
<ellipse cx="93.5" cy="134.6" rx="14" ry="10" fill="#1e1ef2" opacity="0.95" transform="rotate(30 93.5 134.6)"/>
<ellipse cx="164" cy="138.5" rx="6" ry="12" fill="#1e1ef2" opacity="0.95"/>
<ellipse cx="19.5" cy="156.7" rx="10" ry="13" fill="#1e1ef2" opacity="0.95"/>
<ellipse cx="230" cy="148" rx="7" ry="6" fill="#1e1ef2" opacity="0.95"/>
<ellipse cx="186" cy="98" rx="3" ry="10" fill="#1e1ef2" opacity="0.5" transform="rotate(-20 186 98)"/>
</g></g>
<g clip-path="url(#cBR)"><g filter="url(#blur2)" transform="translate(395 2146.3)">
<ellipse cx="41.5" cy="19" rx="12.5" ry="13" fill="#1e1ef2" opacity="0.95"/>
<ellipse cx="9" cy="37" rx="10" ry="10" fill="#1e1ef2" opacity="0.95"/>
<ellipse cx="20" cy="62" rx="15" ry="10" fill="#1e1ef2" opacity="0.95" transform="rotate(-30 20 62)"/>
<ellipse cx="65" cy="100" rx="8.5" ry="14" fill="#1e1ef2" opacity="0.95" transform="rotate(-25 65 100)"/>
<ellipse cx="139" cy="90" rx="14" ry="14" fill="#1e1ef2" opacity="0.95"/>
<ellipse cx="176" cy="83" rx="15" ry="13" fill="#1e1ef2" opacity="0.95"/>
<ellipse cx="233.6" cy="87.5" rx="10" ry="15" fill="#1e1ef2" opacity="0.95" transform="rotate(-20 233.6 87.5)"/>
<ellipse cx="226" cy="136" rx="12" ry="10" fill="#1e1ef2" opacity="0.95"/>
<ellipse cx="54" cy="148" rx="14" ry="10" fill="#1e1ef2" opacity="0.95"/>
<ellipse cx="252" cy="88" rx="4" ry="10" fill="#1e1ef2" opacity="0.95"/>
<ellipse cx="252" cy="18" rx="3" ry="8" fill="#1e1ef2" opacity="0.95"/>
<ellipse cx="138" cy="1" rx="5" ry="3" fill="#1e1ef2" opacity="0.95"/>
</g></g>
<rect x="329.7" y="2300" width="38.5" height="13.6" fill="#fff"/>
<rect x="591.7" y="2300" width="38.5" height="13.6" fill="#fff"/>
<circle cx="827.7" cy="2142.4" r="5.7" fill="none" stroke="#000" stroke-width="3"/>
<circle cx="823.6" cy="2159.9" r="5.7" fill="none" stroke="#000" stroke-width="3"/>
<circle cx="831.8" cy="2158.4" r="5.7" fill="none" stroke="#000" stroke-width="3"/>
<circle cx="823.6" cy="2172.1" r="5.7" fill="none" stroke="#000" stroke-width="3"/>
<circle cx="831.8" cy="2170.2" r="5.7" fill="none" stroke="#000" stroke-width="3"/>
<circle cx="819.5" cy="2269.5" r="5.7" fill="none" stroke="#000" stroke-width="3"/>
<circle cx="827.7" cy="2269.1" r="5.7" fill="none" stroke="#000" stroke-width="3"/>
<circle cx="835.9" cy="2263.8" r="5.7" fill="none" stroke="#000" stroke-width="3"/>
<circle cx="823.6" cy="2280.2" r="5.7" fill="none" stroke="#000" stroke-width="3"/>
<circle cx="831.8" cy="2279" r="5.7" fill="none" stroke="#000" stroke-width="3"/>
<circle cx="827.7" cy="2295.4" r="5.7" fill="none" stroke="#000" stroke-width="3"/>
<circle cx="811.3" cy="2260.1" r="5.7" fill="none" stroke="#000" stroke-width="3"/>
<circle cx="819.5" cy="2257.1" r="5.7" fill="none" stroke="#000" stroke-width="3"/>
<circle cx="827.7" cy="2254.6" r="5.7" fill="none" stroke="#000" stroke-width="3"/>
<circle cx="835.9" cy="2252.4" r="5.7" fill="none" stroke="#000" stroke-width="3"/>
<circle cx="844.1" cy="2250.4" r="5.7" fill="none" stroke="#000" stroke-width="3"/>
<circle cx="801.7" cy="2248.6" r="5.7" fill="none" stroke="#000" stroke-width="3"/>
<circle cx="807.2" cy="2247" r="5.7" fill="none" stroke="#000" stroke-width="3"/>
<circle cx="815.4" cy="2245.4" r="5.7" fill="none" stroke="#000" stroke-width="3"/>
<circle cx="823.6" cy="2244" r="5.7" fill="none" stroke="#000" stroke-width="3"/>
<circle cx="831.8" cy="2242.6" r="5.7" fill="none" stroke="#000" stroke-width="3"/>
<circle cx="840" cy="2241.3" r="5.7" fill="none" stroke="#000" stroke-width="3"/>
<circle cx="848.2" cy="2240" r="5.7" fill="none" stroke="#000" stroke-width="3"/>
<circle cx="849.7" cy="2238.8" r="5.7" fill="none" stroke="#000" stroke-width="3"/>
<circle cx="801.7" cy="2237.6" r="5.7" fill="none" stroke="#000" stroke-width="3"/>
<circle cx="797.7" cy="2236.5" r="5.7" fill="none" stroke="#000" stroke-width="3"/>
<circle cx="807.2" cy="2235.4" r="5.7" fill="none" stroke="#000" stroke-width="3"/>
<circle cx="815.4" cy="2234.3" r="5.7" fill="none" stroke="#000" stroke-width="3"/>
<circle cx="823.6" cy="2233.2" r="5.7" fill="none" stroke="#000" stroke-width="3"/>
<circle cx="831.8" cy="2232.2" r="5.7" fill="none" stroke="#000" stroke-width="3"/>
<circle cx="840" cy="2231.1" r="5.7" fill="none" stroke="#000" stroke-width="3"/>
<circle cx="848.2" cy="2230.1" r="5.7" fill="none" stroke="#000" stroke-width="3"/>
<circle cx="845.7" cy="2229.1" r="5.7" fill="none" stroke="#000" stroke-width="3"/>
<circle cx="853.7" cy="2228.1" r="5.7" fill="none" stroke="#000" stroke-width="3"/>
<circle cx="801.7" cy="2227.1" r="5.7" fill="none" stroke="#000" stroke-width="3"/>
<circle cx="797.7" cy="2226.1" r="5.7" fill="none" stroke="#000" stroke-width="3"/>
<circle cx="803.1" cy="2225.1" r="5.7" fill="none" stroke="#000" stroke-width="3"/>
<circle cx="811.3" cy="2224.1" r="5.7" fill="none" stroke="#000" stroke-width="3"/>
<circle cx="819.5" cy="2223.1" r="5.7" fill="none" stroke="#000" stroke-width="3"/>
<circle cx="827.7" cy="2222.1" r="5.7" fill="none" stroke="#000" stroke-width="3"/>
<circle cx="835.9" cy="2221.1" r="5.7" fill="none" stroke="#000" stroke-width="3"/>
<circle cx="844.1" cy="2220.1" r="5.7" fill="none" stroke="#000" stroke-width="3"/>
<circle cx="852.3" cy="2219.1" r="5.7" fill="none" stroke="#000" stroke-width="3"/>
<circle cx="853.7" cy="2218.1" r="5.7" fill="none" stroke="#000" stroke-width="3"/>
<circle cx="849.7" cy="2217.1" r="5.7" fill="none" stroke="#000" stroke-width="3"/>
<circle cx="801.7" cy="2216" r="5.7" fill="none" stroke="#000" stroke-width="3"/>
<circle cx="803.1" cy="2215" r="5.7" fill="none" stroke="#000" stroke-width="3"/>
<circle cx="811.3" cy="2213.9" r="5.7" fill="none" stroke="#000" stroke-width="3"/>
<circle cx="819.5" cy="2212.7" r="5.7" fill="none" stroke="#000" stroke-width="3"/>
<circle cx="827.7" cy="2211.6" r="5.7" fill="none" stroke="#000" stroke-width="3"/>
<circle cx="835.9" cy="2210.4" r="5.7" fill="none" stroke="#000" stroke-width="3"/>
<circle cx="844.1" cy="2209.2" r="5.7" fill="none" stroke="#000" stroke-width="3"/>
<circle cx="852.3" cy="2207.9" r="5.7" fill="none" stroke="#000" stroke-width="3"/>
<circle cx="845.7" cy="2206.6" r="5.7" fill="none" stroke="#000" stroke-width="3"/>
<circle cx="803.1" cy="2205.2" r="5.7" fill="none" stroke="#000" stroke-width="3"/>
<circle cx="811.3" cy="2203.8" r="5.7" fill="none" stroke="#000" stroke-width="3"/>
<circle cx="819.5" cy="2202.2" r="5.7" fill="none" stroke="#000" stroke-width="3"/>
<circle cx="827.7" cy="2200.6" r="5.7" fill="none" stroke="#000" stroke-width="3"/>
<circle cx="835.9" cy="2198.8" r="5.7" fill="none" stroke="#000" stroke-width="3"/>
<circle cx="844.1" cy="2196.8" r="5.7" fill="none" stroke="#000" stroke-width="3"/>
<circle cx="852.3" cy="2194.6" r="5.7" fill="none" stroke="#000" stroke-width="3"/>
<circle cx="819.5" cy="2192.1" r="5.7" fill="none" stroke="#000" stroke-width="3"/>
<circle cx="827.7" cy="2189.2" r="5.7" fill="none" stroke="#000" stroke-width="3"/>
<circle cx="835.9" cy="2185.4" r="5.7" fill="none" stroke="#000" stroke-width="3"/>
<circle cx="827.7" cy="2180.2" r="5.7" fill="none" stroke="#000" stroke-width="3"/>
<circle cx="901.5" cy="2006.1" r="5.7" fill="none" stroke="#000" stroke-width="3"/>
<circle cx="909.7" cy="2003.8" r="5.7" fill="none" stroke="#000" stroke-width="3"/>
<circle cx="917.9" cy="2000" r="5.7" fill="none" stroke="#000" stroke-width="3"/>
<circle cx="909.7" cy="2053.3" r="5.7" fill="none" stroke="#000" stroke-width="3"/>
<circle cx="909.7" cy="2095.2" r="5.7" fill="none" stroke="#000" stroke-width="3"/>
<circle cx="905.6" cy="2104.1" r="5.7" fill="none" stroke="#000" stroke-width="3"/>
<circle cx="913.8" cy="2096.7" r="5.7" fill="none" stroke="#000" stroke-width="3"/>
<circle cx="897.4" cy="2127.6" r="5.7" fill="none" stroke="#000" stroke-width="3"/>
<circle cx="905.6" cy="2125.6" r="5.7" fill="none" stroke="#000" stroke-width="3"/>
<circle cx="913.8" cy="2123" r="5.7" fill="none" stroke="#000" stroke-width="3"/>
<circle cx="922" cy="2120.3" r="5.7" fill="none" stroke="#000" stroke-width="3"/>
<circle cx="901.5" cy="2236.8" r="5.7" fill="none" stroke="#000" stroke-width="3"/>
<circle cx="909.7" cy="2230.9" r="5.7" fill="none" stroke="#000" stroke-width="3"/>
<circle cx="917.9" cy="2228.4" r="5.7" fill="none" stroke="#000" stroke-width="3"/>
<circle cx="909.7" cy="2262.7" r="5.7" fill="none" stroke="#000" stroke-width="3"/>
<circle cx="905.6" cy="2222.3" r="5.7" fill="none" stroke="#000" stroke-width="3"/>
<circle cx="913.8" cy="2218.6" r="5.7" fill="none" stroke="#000" stroke-width="3"/>
<circle cx="905.6" cy="2212" r="5.7" fill="none" stroke="#000" stroke-width="3"/>
<circle cx="913.8" cy="2207.4" r="5.7" fill="none" stroke="#000" stroke-width="3"/>
<circle cx="897.4" cy="2203.6" r="5.7" fill="none" stroke="#000" stroke-width="3"/>
<circle cx="905.6" cy="2200.5" r="5.7" fill="none" stroke="#000" stroke-width="3"/>
<circle cx="913.8" cy="2197.7" r="5.7" fill="none" stroke="#000" stroke-width="3"/>
<circle cx="922" cy="2195.2" r="5.7" fill="none" stroke="#000" stroke-width="3"/>
<circle cx="893.3" cy="2192.9" r="5.7" fill="none" stroke="#000" stroke-width="3"/>
<circle cx="901.5" cy="2190.8" r="5.7" fill="none" stroke="#000" stroke-width="3"/>
<circle cx="909.7" cy="2188.8" r="5.7" fill="none" stroke="#000" stroke-width="3"/>
<circle cx="917.9" cy="2186.9" r="5.7" fill="none" stroke="#000" stroke-width="3"/>
<circle cx="926.1" cy="2185.1" r="5.7" fill="none" stroke="#000" stroke-width="3"/>
<circle cx="883.7" cy="2183.4" r="5.7" fill="none" stroke="#000" stroke-width="3"/>
<circle cx="889.2" cy="2181.7" r="5.7" fill="none" stroke="#000" stroke-width="3"/>
<circle cx="897.4" cy="2180.1" r="5.7" fill="none" stroke="#000" stroke-width="3"/>
<circle cx="905.6" cy="2178.5" r="5.7" fill="none" stroke="#000" stroke-width="3"/>
<circle cx="913.8" cy="2177" r="5.7" fill="none" stroke="#000" stroke-width="3"/>
<circle cx="922" cy="2175.5" r="5.7" fill="none" stroke="#000" stroke-width="3"/>
<circle cx="930.2" cy="2174" r="5.7" fill="none" stroke="#000" stroke-width="3"/>
<circle cx="931.7" cy="2172.5" r="5.7" fill="none" stroke="#000" stroke-width="3"/>
<circle cx="885.1" cy="2171.1" r="5.7" fill="none" stroke="#000" stroke-width="3"/>
<circle cx="893.3" cy="2169.6" r="5.7" fill="none" stroke="#000" stroke-width="3"/>
<circle cx="901.5" cy="2168.2" r="5.7" fill="none" stroke="#000" stroke-width="3"/>
<circle cx="909.7" cy="2166.8" r="5.7" fill="none" stroke="#000" stroke-width="3"/>
<circle cx="917.9" cy="2165.4" r="5.7" fill="none" stroke="#000" stroke-width="3"/>
<circle cx="926.1" cy="2163.9" r="5.7" fill="none" stroke="#000" stroke-width="3"/>
<circle cx="934.3" cy="2162.5" r="5.7" fill="none" stroke="#000" stroke-width="3"/>
<circle cx="885.1" cy="2161" r="5.7" fill="none" stroke="#000" stroke-width="3"/>
<circle cx="893.3" cy="2159.5" r="5.7" fill="none" stroke="#000" stroke-width="3"/>
<circle cx="901.5" cy="2158" r="5.7" fill="none" stroke="#000" stroke-width="3"/>
<circle cx="909.7" cy="2156.5" r="5.7" fill="none" stroke="#000" stroke-width="3"/>
<circle cx="917.9" cy="2154.9" r="5.7" fill="none" stroke="#000" stroke-width="3"/>
<circle cx="926.1" cy="2153.3" r="5.7" fill="none" stroke="#000" stroke-width="3"/>
<circle cx="934.3" cy="2151.6" r="5.7" fill="none" stroke="#000" stroke-width="3"/>
<circle cx="889.2" cy="2149.9" r="5.7" fill="none" stroke="#000" stroke-width="3"/>
<circle cx="897.4" cy="2148.1" r="5.7" fill="none" stroke="#000" stroke-width="3"/>
<circle cx="905.6" cy="2146.2" r="5.7" fill="none" stroke="#000" stroke-width="3"/>
<circle cx="913.8" cy="2144.2" r="5.7" fill="none" stroke="#000" stroke-width="3"/>
<circle cx="922" cy="2142.1" r="5.7" fill="none" stroke="#000" stroke-width="3"/>
<circle cx="930.2" cy="2139.8" r="5.7" fill="none" stroke="#000" stroke-width="3"/>
<circle cx="901.5" cy="2137.3" r="5.7" fill="none" stroke="#000" stroke-width="3"/>
<circle cx="909.7" cy="2134.5" r="5.7" fill="none" stroke="#000" stroke-width="3"/>
<circle cx="917.9" cy="2131.4" r="5.7" fill="none" stroke="#000" stroke-width="3"/>
<circle cx="909.7" cy="2116.4" r="5.7" fill="none" stroke="#000" stroke-width="3"/>
<line x1="775" y1="2243.5" x2="963" y2="2243.5" stroke="#000" stroke-width="3.5" stroke-dasharray="7.2 5.4"/>
<line x1="827.7" y1="2190.1" x2="827.7" y2="2256.7" stroke="#e8201e" stroke-width="3.6"/>
<line x1="800.1" y1="2223.7" x2="855.3" y2="2223.7" stroke="#e8201e" stroke-width="4.8"/>
<line x1="812.4" y1="2190.1" x2="843" y2="2190.1" stroke="#e8201e" stroke-width="3.8"/>
<line x1="812.4" y1="2256.7" x2="843" y2="2256.7" stroke="#e8201e" stroke-width="3.8"/>
<line x1="909.7" y1="2109.6" x2="909.7" y2="2215" stroke="#e8201e" stroke-width="3.6"/>
<line x1="882.7" y1="2162.5" x2="936.7" y2="2162.5" stroke="#e8201e" stroke-width="4.8"/>
<line x1="894.4" y1="2109.6" x2="925" y2="2109.6" stroke="#e8201e" stroke-width="3.8"/>
<line x1="894.4" y1="2215" x2="925" y2="2215" stroke="#e8201e" stroke-width="3.8"/>
<line x1="772.9" y1="1938.3" x2="772.9" y2="2321.7" stroke="#000" stroke-width="4"/>
<line x1="756.6" y1="2319.8" x2="964" y2="2319.8" stroke="#000" stroke-width="4"/>
<line x1="756.6" y1="2319.8" x2="772.9" y2="2319.8" stroke="#000" stroke-width="3.6"/>
<text x="0" y="0" font-size="31" text-anchor="end" font-weight="bold" transform="translate(750.8 2331.5) scale(1 1.038)">0</text>
<line x1="756.6" y1="2243.7" x2="772.9" y2="2243.7" stroke="#000" stroke-width="3.6"/>
<text x="0" y="0" font-size="31" text-anchor="end" font-weight="bold" transform="translate(750.8 2255.3) scale(1 1.038)">1</text>
<line x1="756.6" y1="2167.5" x2="772.9" y2="2167.5" stroke="#000" stroke-width="3.6"/>
<text x="0" y="0" font-size="31" text-anchor="end" font-weight="bold" transform="translate(750.8 2179.2) scale(1 1.038)">2</text>
<line x1="756.6" y1="2091.4" x2="772.9" y2="2091.4" stroke="#000" stroke-width="3.6"/>
<text x="0" y="0" font-size="31" text-anchor="end" font-weight="bold" transform="translate(750.8 2103.1) scale(1 1.038)">3</text>
<line x1="756.6" y1="2015.2" x2="772.9" y2="2015.2" stroke="#000" stroke-width="3.6"/>
<text x="0" y="0" font-size="31" text-anchor="end" font-weight="bold" transform="translate(750.8 2026.9) scale(1 1.038)">4</text>
<line x1="756.6" y1="1939.1" x2="772.9" y2="1939.1" stroke="#000" stroke-width="3.6"/>
<text x="0" y="0" font-size="31" text-anchor="end" font-weight="bold" transform="translate(750.8 1950.8) scale(1 1.038)">5</text>
<line x1="828.2" y1="2319.8" x2="828.2" y2="2335.4" stroke="#000" stroke-width="3.6"/>
<line x1="909.7" y1="2319.8" x2="909.7" y2="2335.4" stroke="#000" stroke-width="3.6"/>
<text x="0" y="0" font-size="31" text-anchor="middle" font-weight="bold" transform="translate(827 2371.6) scale(1 1.038)">0.77</text>
<text x="0" y="0" font-size="31" text-anchor="middle" font-weight="bold" transform="translate(909.7 2371.6) scale(1 1.038)">8</text>
<text x="0" y="0" font-size="30.5" text-anchor="middle" font-weight="bold" textLength="199" lengthAdjust="spacingAndGlyphs" transform="translate(869 2419.3) scale(1 1.038)">Viscosity (cP)</text>
<text x="0" y="0" font-size="31.5" text-anchor="middle" font-weight="bold" textLength="225" lengthAdjust="spacingAndGlyphs" transform="translate(699 2116.5) rotate(-90) scale(1 1.038)">YAP<tspan font-size="24" dy="11">NUC</tspan><tspan dy="-11">/YAP</tspan><tspan font-size="24" dy="11">CYT</tspan></text>
<text x="0" y="0" font-size="29" text-anchor="middle" font-weight="bold" fill="#e8201e" textLength="45" lengthAdjust="spacingAndGlyphs" transform="translate(913.9 1985.5) scale(1 1.038)">****</text>
<text x="0" y="0" font-size="46" font-weight="bold" transform="translate(1139.5 1931.7) scale(1 1.038)">f</text>
<rect x="1324.6" y="2189" width="57.7" height="131.5" fill="#f9a3a3"/>
<rect x="1412.3" y="2192.8" width="57.7" height="127.7" fill="#f9a3a3"/>
<rect x="1500.4" y="2119.5" width="57.4" height="201" fill="#f9a3a3"/>
<rect x="1587.9" y="2202.9" width="57.7" height="117.6" fill="#f9a3a3"/>
<rect x="1506.4" y="2135.5" width="45.4" height="4.7" fill="#8f8ff2"/>
<rect x="1506.4" y="2150.6" width="45.4" height="4.7" fill="#8f8ff2"/>
<rect x="1506.4" y="2165.7" width="45.4" height="4.7" fill="#8f8ff2"/>
<rect x="1506.4" y="2180.8" width="45.4" height="4.7" fill="#8f8ff2"/>
<rect x="1506.4" y="2195.9" width="45.4" height="4.7" fill="#8f8ff2"/>
<rect x="1506.4" y="2211" width="45.4" height="4.7" fill="#8f8ff2"/>
<rect x="1506.4" y="2226.1" width="45.4" height="4.7" fill="#8f8ff2"/>
<rect x="1506.4" y="2241.2" width="45.4" height="4.7" fill="#8f8ff2"/>
<rect x="1506.4" y="2256.3" width="45.4" height="4.7" fill="#8f8ff2"/>
<rect x="1506.4" y="2271.4" width="45.4" height="4.7" fill="#8f8ff2"/>
<rect x="1506.4" y="2286.5" width="45.4" height="4.7" fill="#8f8ff2"/>
<rect x="1506.4" y="2301.6" width="45.4" height="4.7" fill="#8f8ff2"/>
<rect x="1506.4" y="2316.7" width="45.4" height="4.7" fill="#8f8ff2"/>
<rect x="1593.9" y="2219" width="45.7" height="4.7" fill="#8f8ff2"/>
<rect x="1593.9" y="2234.1" width="45.7" height="4.7" fill="#8f8ff2"/>
<rect x="1593.9" y="2249.2" width="45.7" height="4.7" fill="#8f8ff2"/>
<rect x="1593.9" y="2264.3" width="45.7" height="4.7" fill="#8f8ff2"/>
<rect x="1593.9" y="2279.4" width="45.7" height="4.7" fill="#8f8ff2"/>
<rect x="1593.9" y="2294.5" width="45.7" height="4.7" fill="#8f8ff2"/>
<rect x="1593.9" y="2309.6" width="45.7" height="4.7" fill="#8f8ff2"/>
<circle cx="1352.6" cy="1987" r="1.9"/>
<circle cx="1352.6" cy="2027.8" r="1.9"/>
<circle cx="1352.6" cy="2057.5" r="1.9"/>
<circle cx="1349.2" cy="2080.4" r="1.9"/>
<circle cx="1356" cy="2076.6" r="1.9"/>
<circle cx="1349.2" cy="2091.8" r="1.9"/>
<circle cx="1356" cy="2085.1" r="1.9"/>
<circle cx="1345.8" cy="2099.6" r="1.9"/>
<circle cx="1352.6" cy="2097.6" r="1.9"/>
<circle cx="1359.4" cy="2093.2" r="1.9"/>
<circle cx="1345.8" cy="2109.6" r="1.9"/>
<circle cx="1352.6" cy="2107.1" r="1.9"/>
<circle cx="1359.4" cy="2104.9" r="1.9"/>
<circle cx="1349.2" cy="2276.7" r="1.9"/>
<circle cx="1356" cy="2275.7" r="1.9"/>
<circle cx="1342.4" cy="2271.9" r="1.9"/>
<circle cx="1349.2" cy="2265.1" r="1.9"/>
<circle cx="1356" cy="2267.1" r="1.9"/>
<circle cx="1362.8" cy="2269.9" r="1.9"/>
<circle cx="1349.2" cy="2260.9" r="1.9"/>
<circle cx="1356" cy="2257.2" r="1.9"/>
<circle cx="1345.8" cy="2253.8" r="1.9"/>
<circle cx="1352.6" cy="2250.8" r="1.9"/>
<circle cx="1359.4" cy="2247.9" r="1.9"/>
<circle cx="1342.4" cy="2245.2" r="1.9"/>
<circle cx="1349.2" cy="2238.1" r="1.9"/>
<circle cx="1356" cy="2240.4" r="1.9"/>
<circle cx="1362.8" cy="2242.7" r="1.9"/>
<circle cx="1339" cy="2236" r="1.9"/>
<circle cx="1345.8" cy="2230" r="1.9"/>
<circle cx="1352.6" cy="2233.9" r="1.9"/>
<circle cx="1359.4" cy="2228.1" r="1.9"/>
<circle cx="1366.2" cy="2231.9" r="1.9"/>
<circle cx="1339" cy="2226.3" r="1.9"/>
<circle cx="1345.8" cy="2221.2" r="1.9"/>
<circle cx="1352.6" cy="2224.5" r="1.9"/>
<circle cx="1359.4" cy="2219.5" r="1.9"/>
<circle cx="1366.2" cy="2222.8" r="1.9"/>
<circle cx="1335.6" cy="2217.9" r="1.9"/>
<circle cx="1342.4" cy="2216.3" r="1.9"/>
<circle cx="1349.2" cy="2214.8" r="1.9"/>
<circle cx="1356" cy="2213.3" r="1.9"/>
<circle cx="1362.8" cy="2211.8" r="1.9"/>
<circle cx="1369.6" cy="2210.3" r="1.9"/>
<circle cx="1335.6" cy="2208.9" r="1.9"/>
<circle cx="1342.4" cy="2207.4" r="1.9"/>
<circle cx="1349.2" cy="2206" r="1.9"/>
<circle cx="1356" cy="2204.6" r="1.9"/>
<circle cx="1362.8" cy="2203.2" r="1.9"/>
<circle cx="1369.6" cy="2201.8" r="1.9"/>
<circle cx="1332.2" cy="2200.4" r="1.9"/>
<circle cx="1339" cy="2199.1" r="1.9"/>
<circle cx="1345.8" cy="2197.7" r="1.9"/>
<circle cx="1352.6" cy="2196.4" r="1.9"/>
<circle cx="1359.4" cy="2195" r="1.9"/>
<circle cx="1366.2" cy="2193.7" r="1.9"/>
<circle cx="1373" cy="2192.4" r="1.9"/>
<circle cx="1335.6" cy="2191" r="1.9"/>
<circle cx="1342.4" cy="2189.7" r="1.9"/>
<circle cx="1349.2" cy="2188.3" r="1.9"/>
<circle cx="1356" cy="2186.8" r="1.9"/>
<circle cx="1362.8" cy="2185.3" r="1.9"/>
<circle cx="1369.6" cy="2183.9" r="1.9"/>
<circle cx="1335.6" cy="2182.4" r="1.9"/>
<circle cx="1342.4" cy="2180.9" r="1.9"/>
<circle cx="1349.2" cy="2179.4" r="1.9"/>
<circle cx="1356" cy="2177.9" r="1.9"/>
<circle cx="1362.8" cy="2176.4" r="1.9"/>
<circle cx="1369.6" cy="2174.9" r="1.9"/>
<circle cx="1335.6" cy="2173.3" r="1.9"/>
<circle cx="1342.4" cy="2171.8" r="1.9"/>
<circle cx="1349.2" cy="2170.3" r="1.9"/>
<circle cx="1356" cy="2168.7" r="1.9"/>
<circle cx="1362.8" cy="2167.1" r="1.9"/>
<circle cx="1369.6" cy="2165.5" r="1.9"/>
<circle cx="1339" cy="2163.9" r="1.9"/>
<circle cx="1345.8" cy="2158.8" r="1.9"/>
<circle cx="1352.6" cy="2162.2" r="1.9"/>
<circle cx="1359.4" cy="2157.1" r="1.9"/>
<circle cx="1366.2" cy="2160.5" r="1.9"/>
<circle cx="1339" cy="2155.3" r="1.9"/>
<circle cx="1345.8" cy="2149.8" r="1.9"/>
<circle cx="1352.6" cy="2153.5" r="1.9"/>
<circle cx="1359.4" cy="2147.8" r="1.9"/>
<circle cx="1366.2" cy="2151.7" r="1.9"/>
<circle cx="1342.4" cy="2145.8" r="1.9"/>
<circle cx="1349.2" cy="2139.4" r="1.9"/>
<circle cx="1356" cy="2141.6" r="1.9"/>
<circle cx="1362.8" cy="2143.8" r="1.9"/>
<circle cx="1342.4" cy="2137.1" r="1.9"/>
<circle cx="1349.2" cy="2129.6" r="1.9"/>
<circle cx="1356" cy="2132.3" r="1.9"/>
<circle cx="1362.8" cy="2134.8" r="1.9"/>
<circle cx="1345.8" cy="2126.9" r="1.9"/>
<circle cx="1352.6" cy="2123.9" r="1.9"/>
<circle cx="1359.4" cy="2120.8" r="1.9"/>
<circle cx="1349.2" cy="2117.4" r="1.9"/>
<circle cx="1356" cy="2113.7" r="1.9"/>
<circle cx="1352.6" cy="2073.6" r="1.9"/>
<circle cx="1352.6" cy="2051.4" r="1.9"/>
<circle cx="1440.4" cy="1981.3" r="1.9"/>
<circle cx="1440.4" cy="2072.8" r="1.9"/>
<circle cx="1433.6" cy="2082.3" r="1.9"/>
<circle cx="1440.4" cy="2081.7" r="1.9"/>
<circle cx="1447.2" cy="2076.6" r="1.9"/>
<circle cx="1440.4" cy="2086.1" r="1.9"/>
<circle cx="1433.6" cy="2100.6" r="1.9"/>
<circle cx="1440.4" cy="2095.7" r="1.9"/>
<circle cx="1447.2" cy="2092.7" r="1.9"/>
<circle cx="1440.4" cy="2282.4" r="1.9"/>
<circle cx="1433.6" cy="2277.6" r="1.9"/>
<circle cx="1440.4" cy="2276.3" r="1.9"/>
<circle cx="1447.2" cy="2272.9" r="1.9"/>
<circle cx="1437" cy="2270.7" r="1.9"/>
<circle cx="1443.8" cy="2266.1" r="1.9"/>
<circle cx="1433.6" cy="2262.1" r="1.9"/>
<circle cx="1440.4" cy="2258.5" r="1.9"/>
<circle cx="1447.2" cy="2255.2" r="1.9"/>
<circle cx="1433.6" cy="2252.3" r="1.9"/>
<circle cx="1440.4" cy="2249.5" r="1.9"/>
<circle cx="1447.2" cy="2247" r="1.9"/>
<circle cx="1430.2" cy="2244.6" r="1.9"/>
<circle cx="1437" cy="2238" r="1.9"/>
<circle cx="1443.8" cy="2240.1" r="1.9"/>
<circle cx="1450.6" cy="2242.3" r="1.9"/>
<circle cx="1426.8" cy="2236" r="1.9"/>
<circle cx="1433.6" cy="2230.5" r="1.9"/>
<circle cx="1440.4" cy="2234.1" r="1.9"/>
<circle cx="1447.2" cy="2228.7" r="1.9"/>
<circle cx="1454" cy="2232.3" r="1.9"/>
<circle cx="1423.4" cy="2227" r="1.9"/>
<circle cx="1430.2" cy="2225.4" r="1.9"/>
<circle cx="1437" cy="2223.8" r="1.9"/>
<circle cx="1443.8" cy="2222.2" r="1.9"/>
<circle cx="1450.6" cy="2220.7" r="1.9"/>
<circle cx="1457.4" cy="2219.1" r="1.9"/>
<circle cx="1423.4" cy="2217.7" r="1.9"/>
<circle cx="1430.2" cy="2216.2" r="1.9"/>
<circle cx="1437" cy="2214.8" r="1.9"/>
<circle cx="1443.8" cy="2213.3" r="1.9"/>
<circle cx="1450.6" cy="2211.9" r="1.9"/>
<circle cx="1457.4" cy="2210.6" r="1.9"/>
<circle cx="1420" cy="2209.2" r="1.9"/>
<circle cx="1426.8" cy="2207.8" r="1.9"/>
<circle cx="1433.6" cy="2206.5" r="1.9"/>
<circle cx="1440.4" cy="2205.2" r="1.9"/>
<circle cx="1447.2" cy="2203.8" r="1.9"/>
<circle cx="1454" cy="2202.5" r="1.9"/>
<circle cx="1460.8" cy="2201.2" r="1.9"/>
<circle cx="1420" cy="2199.9" r="1.9"/>
<circle cx="1426.8" cy="2198.6" r="1.9"/>
<circle cx="1433.6" cy="2197.3" r="1.9"/>
<circle cx="1440.4" cy="2196" r="1.9"/>
<circle cx="1447.2" cy="2194.8" r="1.9"/>
<circle cx="1454" cy="2193.5" r="1.9"/>
<circle cx="1460.8" cy="2192.1" r="1.9"/>
<circle cx="1423.4" cy="2190.7" r="1.9"/>
<circle cx="1430.2" cy="2189.3" r="1.9"/>
<circle cx="1437" cy="2187.9" r="1.9"/>
<circle cx="1443.8" cy="2186.4" r="1.9"/>
<circle cx="1450.6" cy="2185" r="1.9"/>
<circle cx="1457.4" cy="2183.6" r="1.9"/>
<circle cx="1423.4" cy="2182.1" r="1.9"/>
<circle cx="1430.2" cy="2180.7" r="1.9"/>
<circle cx="1437" cy="2179.2" r="1.9"/>
<circle cx="1443.8" cy="2177.7" r="1.9"/>
<circle cx="1450.6" cy="2176.3" r="1.9"/>
<circle cx="1457.4" cy="2174.8" r="1.9"/>
<circle cx="1423.4" cy="2173.2" r="1.9"/>
<circle cx="1430.2" cy="2171.7" r="1.9"/>
<circle cx="1437" cy="2170.2" r="1.9"/>
<circle cx="1443.8" cy="2168.6" r="1.9"/>
<circle cx="1450.6" cy="2167" r="1.9"/>
<circle cx="1457.4" cy="2165.4" r="1.9"/>
<circle cx="1426.8" cy="2163.7" r="1.9"/>
<circle cx="1433.6" cy="2158.6" r="1.9"/>
<circle cx="1440.4" cy="2162.1" r="1.9"/>
<circle cx="1447.2" cy="2156.8" r="1.9"/>
<circle cx="1454" cy="2160.4" r="1.9"/>
<circle cx="1426.8" cy="2155" r="1.9"/>
<circle cx="1433.6" cy="2149.3" r="1.9"/>
<circle cx="1440.4" cy="2153.2" r="1.9"/>
<circle cx="1447.2" cy="2147.2" r="1.9"/>
<circle cx="1454" cy="2151.2" r="1.9"/>
<circle cx="1430.2" cy="2145.1" r="1.9"/>
<circle cx="1437" cy="2138.2" r="1.9"/>
<circle cx="1443.8" cy="2140.6" r="1.9"/>
<circle cx="1450.6" cy="2142.9" r="1.9"/>
<circle cx="1433.6" cy="2135.7" r="1.9"/>
<circle cx="1440.4" cy="2133" r="1.9"/>
<circle cx="1447.2" cy="2130.2" r="1.9"/>
<circle cx="1433.6" cy="2127.1" r="1.9"/>
<circle cx="1440.4" cy="2123.8" r="1.9"/>
<circle cx="1447.2" cy="2120.3" r="1.9"/>
<circle cx="1437" cy="2116.3" r="1.9"/>
<circle cx="1443.8" cy="2111.9" r="1.9"/>
<circle cx="1440.4" cy="2106.7" r="1.9"/>
<circle cx="1440.4" cy="2060.3" r="1.9"/>
<circle cx="1528.1" cy="1962.3" r="1.9"/>
<circle cx="1524.7" cy="1973.7" r="1.9"/>
<circle cx="1531.5" cy="1968" r="1.9"/>
<circle cx="1521.3" cy="1981.3" r="1.9"/>
<circle cx="1528.1" cy="1978.4" r="1.9"/>
<circle cx="1534.9" cy="1977.5" r="1.9"/>
<circle cx="1524.7" cy="1992.8" r="1.9"/>
<circle cx="1531.5" cy="1992.4" r="1.9"/>
<circle cx="1524.7" cy="2010.2" r="1.9"/>
<circle cx="1531.5" cy="2006.1" r="1.9"/>
<circle cx="1524.7" cy="2019.4" r="1.9"/>
<circle cx="1531.5" cy="2016.7" r="1.9"/>
<circle cx="1521.3" cy="2027.4" r="1.9"/>
<circle cx="1528.1" cy="2025.1" r="1.9"/>
<circle cx="1534.9" cy="2022.3" r="1.9"/>
<circle cx="1521.3" cy="2036.1" r="1.9"/>
<circle cx="1528.1" cy="2034.7" r="1.9"/>
<circle cx="1534.9" cy="2031.9" r="1.9"/>
<circle cx="1528.1" cy="2259.5" r="1.9"/>
<circle cx="1528.1" cy="2247.1" r="1.9"/>
<circle cx="1528.1" cy="2234.4" r="1.9"/>
<circle cx="1528.1" cy="2225.4" r="1.9"/>
<circle cx="1524.7" cy="2218.4" r="1.9"/>
<circle cx="1531.5" cy="2212.5" r="1.9"/>
<circle cx="1524.7" cy="2207.3" r="1.9"/>
<circle cx="1531.5" cy="2202.8" r="1.9"/>
<circle cx="1524.7" cy="2198.7" r="1.9"/>
<circle cx="1531.5" cy="2194.9" r="1.9"/>
<circle cx="1521.3" cy="2191.4" r="1.9"/>
<circle cx="1528.1" cy="2188.2" r="1.9"/>
<circle cx="1534.9" cy="2185.1" r="1.9"/>
<circle cx="1517.9" cy="2182.2" r="1.9"/>
<circle cx="1524.7" cy="2174.3" r="1.9"/>
<circle cx="1531.5" cy="2176.8" r="1.9"/>
<circle cx="1538.3" cy="2179.5" r="1.9"/>
<circle cx="1517.9" cy="2171.9" r="1.9"/>
<circle cx="1524.7" cy="2165" r="1.9"/>
<circle cx="1531.5" cy="2167.2" r="1.9"/>
<circle cx="1538.3" cy="2169.5" r="1.9"/>
<circle cx="1517.9" cy="2162.9" r="1.9"/>
<circle cx="1524.7" cy="2156.7" r="1.9"/>
<circle cx="1531.5" cy="2158.7" r="1.9"/>
<circle cx="1538.3" cy="2160.8" r="1.9"/>
<circle cx="1514.5" cy="2154.8" r="1.9"/>
<circle cx="1521.3" cy="2149.1" r="1.9"/>
<circle cx="1528.1" cy="2152.9" r="1.9"/>
<circle cx="1534.9" cy="2147.3" r="1.9"/>
<circle cx="1541.7" cy="2151" r="1.9"/>
<circle cx="1514.5" cy="2145.5" r="1.9"/>
<circle cx="1521.3" cy="2140.2" r="1.9"/>
<circle cx="1528.1" cy="2143.7" r="1.9"/>
<circle cx="1534.9" cy="2138.5" r="1.9"/>
<circle cx="1541.7" cy="2142" r="1.9"/>
<circle cx="1514.5" cy="2136.8" r="1.9"/>
<circle cx="1521.3" cy="2131.8" r="1.9"/>
<circle cx="1528.1" cy="2135.1" r="1.9"/>
<circle cx="1534.9" cy="2130.1" r="1.9"/>
<circle cx="1541.7" cy="2133.4" r="1.9"/>
<circle cx="1511.1" cy="2128.5" r="1.9"/>
<circle cx="1517.9" cy="2126.8" r="1.9"/>
<circle cx="1524.7" cy="2125.2" r="1.9"/>
<circle cx="1531.5" cy="2123.5" r="1.9"/>
<circle cx="1538.3" cy="2121.9" r="1.9"/>
<circle cx="1545.1" cy="2120.3" r="1.9"/>
<circle cx="1514.5" cy="2118.6" r="1.9"/>
<circle cx="1521.3" cy="2113.2" r="1.9"/>
<circle cx="1528.1" cy="2116.8" r="1.9"/>
<circle cx="1534.9" cy="2111.4" r="1.9"/>
<circle cx="1541.7" cy="2115" r="1.9"/>
<circle cx="1514.5" cy="2109.5" r="1.9"/>
<circle cx="1521.3" cy="2104" r="1.9"/>
<circle cx="1528.1" cy="2107.7" r="1.9"/>
<circle cx="1534.9" cy="2102.2" r="1.9"/>
<circle cx="1541.7" cy="2105.9" r="1.9"/>
<circle cx="1514.5" cy="2100.3" r="1.9"/>
<circle cx="1521.3" cy="2094.6" r="1.9"/>
<circle cx="1528.1" cy="2098.4" r="1.9"/>
<circle cx="1534.9" cy="2092.7" r="1.9"/>
<circle cx="1541.7" cy="2096.5" r="1.9"/>
<circle cx="1517.9" cy="2090.7" r="1.9"/>
<circle cx="1524.7" cy="2084.6" r="1.9"/>
<circle cx="1531.5" cy="2086.7" r="1.9"/>
<circle cx="1538.3" cy="2088.7" r="1.9"/>
<circle cx="1517.9" cy="2082.6" r="1.9"/>
<circle cx="1524.7" cy="2076.1" r="1.9"/>
<circle cx="1531.5" cy="2078.3" r="1.9"/>
<circle cx="1538.3" cy="2080.4" r="1.9"/>
<circle cx="1517.9" cy="2073.8" r="1.9"/>
<circle cx="1524.7" cy="2066.7" r="1.9"/>
<circle cx="1531.5" cy="2069.1" r="1.9"/>
<circle cx="1538.3" cy="2071.5" r="1.9"/>
<circle cx="1521.3" cy="2064.2" r="1.9"/>
<circle cx="1528.1" cy="2061.6" r="1.9"/>
<circle cx="1534.9" cy="2058.9" r="1.9"/>
<circle cx="1521.3" cy="2056.1" r="1.9"/>
<circle cx="1528.1" cy="2053.2" r="1.9"/>
<circle cx="1534.9" cy="2050.1" r="1.9"/>
<circle cx="1521.3" cy="2046.9" r="1.9"/>
<circle cx="1528.1" cy="2043.5" r="1.9"/>
<circle cx="1534.9" cy="2039.9" r="1.9"/>
<circle cx="1528.1" cy="2002.3" r="1.9"/>
<circle cx="1528.1" cy="1951.3" r="1.9"/>
<circle cx="1616.2" cy="1939.4" r="1.9"/>
<circle cx="1612.8" cy="2053.7" r="1.9"/>
<circle cx="1619.6" cy="2051.8" r="1.9"/>
<circle cx="1609.4" cy="2088" r="1.9"/>
<circle cx="1616.2" cy="2087.5" r="1.9"/>
<circle cx="1623" cy="2086.1" r="1.9"/>
<circle cx="1612.8" cy="2099" r="1.9"/>
<circle cx="1619.6" cy="2097.6" r="1.9"/>
<circle cx="1612.8" cy="2107.1" r="1.9"/>
<circle cx="1619.6" cy="2107.1" r="1.9"/>
<circle cx="1609.4" cy="2297.6" r="1.9"/>
<circle cx="1616.2" cy="2297" r="1.9"/>
<circle cx="1623" cy="2292.9" r="1.9"/>
<circle cx="1612.8" cy="2289.6" r="1.9"/>
<circle cx="1619.6" cy="2283.8" r="1.9"/>
<circle cx="1612.8" cy="2279" r="1.9"/>
<circle cx="1619.6" cy="2274.8" r="1.9"/>
<circle cx="1609.4" cy="2271.1" r="1.9"/>
<circle cx="1616.2" cy="2267.7" r="1.9"/>
<circle cx="1623" cy="2264.7" r="1.9"/>
<circle cx="1609.4" cy="2261.8" r="1.9"/>
<circle cx="1616.2" cy="2259.2" r="1.9"/>
<circle cx="1623" cy="2256.6" r="1.9"/>
<circle cx="1602.6" cy="2254.3" r="1.9"/>
<circle cx="1609.4" cy="2247.8" r="1.9"/>
<circle cx="1616.2" cy="2252" r="1.9"/>
<circle cx="1623" cy="2245.8" r="1.9"/>
<circle cx="1629.8" cy="2249.9" r="1.9"/>
<circle cx="1602.6" cy="2243.9" r="1.9"/>
<circle cx="1609.4" cy="2238.5" r="1.9"/>
<circle cx="1616.2" cy="2242" r="1.9"/>
<circle cx="1623" cy="2236.7" r="1.9"/>
<circle cx="1629.8" cy="2240.2" r="1.9"/>
<circle cx="1602.6" cy="2235.1" r="1.9"/>
<circle cx="1609.4" cy="2230.3" r="1.9"/>
<circle cx="1616.2" cy="2233.4" r="1.9"/>
<circle cx="1623" cy="2228.7" r="1.9"/>
<circle cx="1629.8" cy="2231.8" r="1.9"/>
<circle cx="1595.8" cy="2227.2" r="1.9"/>
<circle cx="1602.6" cy="2225.7" r="1.9"/>
<circle cx="1609.4" cy="2224.2" r="1.9"/>
<circle cx="1616.2" cy="2222.8" r="1.9"/>
<circle cx="1623" cy="2221.3" r="1.9"/>
<circle cx="1629.8" cy="2219.9" r="1.9"/>
<circle cx="1636.6" cy="2218.5" r="1.9"/>
<circle cx="1599.2" cy="2217.1" r="1.9"/>
<circle cx="1606" cy="2215.7" r="1.9"/>
<circle cx="1612.8" cy="2214.4" r="1.9"/>
<circle cx="1619.6" cy="2213" r="1.9"/>
<circle cx="1626.4" cy="2211.6" r="1.9"/>
<circle cx="1633.2" cy="2210.3" r="1.9"/>
<circle cx="1595.8" cy="2208.9" r="1.9"/>
<circle cx="1602.6" cy="2207.6" r="1.9"/>
<circle cx="1609.4" cy="2206.3" r="1.9"/>
<circle cx="1616.2" cy="2204.9" r="1.9"/>
<circle cx="1623" cy="2203.6" r="1.9"/>
<circle cx="1629.8" cy="2202.2" r="1.9"/>
<circle cx="1636.6" cy="2200.7" r="1.9"/>
<circle cx="1599.2" cy="2199.2" r="1.9"/>
<circle cx="1606" cy="2197.8" r="1.9"/>
<circle cx="1612.8" cy="2196.3" r="1.9"/>
<circle cx="1619.6" cy="2194.8" r="1.9"/>
<circle cx="1626.4" cy="2193.3" r="1.9"/>
<circle cx="1633.2" cy="2191.8" r="1.9"/>
<circle cx="1599.2" cy="2190.3" r="1.9"/>
<circle cx="1606" cy="2188.8" r="1.9"/>
<circle cx="1612.8" cy="2187.3" r="1.9"/>
<circle cx="1619.6" cy="2185.7" r="1.9"/>
<circle cx="1626.4" cy="2184.2" r="1.9"/>
<circle cx="1633.2" cy="2182.6" r="1.9"/>
<circle cx="1602.6" cy="2181" r="1.9"/>
<circle cx="1609.4" cy="2176.1" r="1.9"/>
<circle cx="1616.2" cy="2179.4" r="1.9"/>
<circle cx="1623" cy="2174.4" r="1.9"/>
<circle cx="1629.8" cy="2177.8" r="1.9"/>
<circle cx="1602.6" cy="2172.7" r="1.9"/>
<circle cx="1609.4" cy="2167.4" r="1.9"/>
<circle cx="1616.2" cy="2171" r="1.9"/>
<circle cx="1623" cy="2165.6" r="1.9"/>
<circle cx="1629.8" cy="2169.2" r="1.9"/>
<circle cx="1602.6" cy="2163.7" r="1.9"/>
<circle cx="1609.4" cy="2157.7" r="1.9"/>
<circle cx="1616.2" cy="2161.7" r="1.9"/>
<circle cx="1623" cy="2155.5" r="1.9"/>
<circle cx="1629.8" cy="2159.7" r="1.9"/>
<circle cx="1609.4" cy="2153.3" r="1.9"/>
<circle cx="1616.2" cy="2151.1" r="1.9"/>
<circle cx="1623" cy="2148.7" r="1.9"/>
<circle cx="1606" cy="2146.2" r="1.9"/>
<circle cx="1612.8" cy="2137.8" r="1.9"/>
<circle cx="1619.6" cy="2140.8" r="1.9"/>
<circle cx="1626.4" cy="2143.6" r="1.9"/>
<circle cx="1612.8" cy="2134.7" r="1.9"/>
<circle cx="1619.6" cy="2131.3" r="1.9"/>
<circle cx="1612.8" cy="2127.6" r="1.9"/>
<circle cx="1619.6" cy="2123.5" r="1.9"/>
<circle cx="1612.8" cy="2118.8" r="1.9"/>
<circle cx="1619.6" cy="2113.5" r="1.9"/>
<circle cx="1616.2" cy="2065.3" r="1.9"/>
<line x1="1352.6" y1="2134.3" x2="1352.6" y2="2242.8" stroke="#e41e1e" stroke-width="4.4"/>
<line x1="1338.1" y1="2134.3" x2="1367.1" y2="2134.3" stroke="#e41e1e" stroke-width="5.6" stroke-linecap="round"/>
<line x1="1338.1" y1="2242.8" x2="1367.1" y2="2242.8" stroke="#e41e1e" stroke-width="5.6" stroke-linecap="round"/>
<line x1="1440.4" y1="2137" x2="1440.4" y2="2248" stroke="#e41e1e" stroke-width="4.4"/>
<line x1="1425.9" y1="2137" x2="1454.9" y2="2137" stroke="#e41e1e" stroke-width="5.6" stroke-linecap="round"/>
<line x1="1425.9" y1="2248" x2="1454.9" y2="2248" stroke="#e41e1e" stroke-width="5.6" stroke-linecap="round"/>
<line x1="1528.1" y1="2048.5" x2="1528.1" y2="2190.4" stroke="#e41e1e" stroke-width="4.4"/>
<line x1="1513.6" y1="2048.5" x2="1542.6" y2="2048.5" stroke="#e41e1e" stroke-width="5.6" stroke-linecap="round"/>
<line x1="1513.6" y1="2190.4" x2="1542.6" y2="2190.4" stroke="#e41e1e" stroke-width="5.6" stroke-linecap="round"/>
<line x1="1616.2" y1="2143.6" x2="1616.2" y2="2261.4" stroke="#e41e1e" stroke-width="4.4"/>
<line x1="1601.7" y1="2143.6" x2="1630.7" y2="2143.6" stroke="#e41e1e" stroke-width="5.6" stroke-linecap="round"/>
<line x1="1601.7" y1="2261.4" x2="1630.7" y2="2261.4" stroke="#e41e1e" stroke-width="5.6" stroke-linecap="round"/>
<line x1="1295" y1="1937.5" x2="1295" y2="2322.6" stroke="#000" stroke-width="4.2"/>
<line x1="1284.2" y1="2320.5" x2="1675.6" y2="2320.5" stroke="#000" stroke-width="4.2"/>
<line x1="1284.2" y1="2320.5" x2="1295" y2="2320.5" stroke="#000" stroke-width="4.2"/>
<text x="0" y="0" font-size="31" text-anchor="end" font-weight="bold" transform="translate(1277.5 2331.3) scale(1 1.038)">0</text>
<line x1="1284.2" y1="2225.2" x2="1295" y2="2225.2" stroke="#000" stroke-width="4.2"/>
<text x="0" y="0" font-size="31" text-anchor="end" font-weight="bold" transform="translate(1277.5 2236) scale(1 1.038)">50</text>
<line x1="1284.2" y1="2129.9" x2="1295" y2="2129.9" stroke="#000" stroke-width="4.2"/>
<text x="0" y="0" font-size="31" text-anchor="end" font-weight="bold" transform="translate(1277.5 2140.8) scale(1 1.038)">100</text>
<line x1="1284.2" y1="2034.7" x2="1295" y2="2034.7" stroke="#000" stroke-width="4.2"/>
<text x="0" y="0" font-size="31" text-anchor="end" font-weight="bold" transform="translate(1277.5 2045.5) scale(1 1.038)">150</text>
<line x1="1284.2" y1="1939.4" x2="1295" y2="1939.4" stroke="#000" stroke-width="4.2"/>
<text x="0" y="0" font-size="31" text-anchor="end" font-weight="bold" transform="translate(1277.5 1950.2) scale(1 1.038)">200</text>
<line x1="1352.6" y1="2320.5" x2="1352.6" y2="2331.5" stroke="#000" stroke-width="3.8"/>
<line x1="1440.4" y1="2320.5" x2="1440.4" y2="2331.5" stroke="#000" stroke-width="3.8"/>
<line x1="1528.1" y1="2320.5" x2="1528.1" y2="2331.5" stroke="#000" stroke-width="3.8"/>
<line x1="1616.2" y1="2320.5" x2="1616.2" y2="2331.5" stroke="#000" stroke-width="3.8"/>
<path d="M1345.2 1936.7 V1919 H1521.5 V1936.7" fill="none" stroke="#000" stroke-width="3.8" stroke-linecap="round"/>
<path d="M1531.5 1936.7 V1919 H1613.9 V1936.7" fill="none" stroke="#000" stroke-width="3.8" stroke-linecap="round"/>
<path d="M1351.3 1975.1 V1957.8 H1439.7 V1975.1" fill="none" stroke="#000" stroke-width="3.8" stroke-linecap="round"/>
<text x="0" y="0" font-size="29" text-anchor="middle" font-weight="bold" fill="#e41e1e" textLength="45" lengthAdjust="spacingAndGlyphs" transform="translate(1442.8 1921.5) scale(1 1.038)">****</text>
<text x="0" y="0" font-size="29" text-anchor="middle" font-weight="bold" fill="#e41e1e" textLength="45" lengthAdjust="spacingAndGlyphs" transform="translate(1571.7 1921.5) scale(1 1.038)">****</text>
<text x="0" y="0" font-size="31" text-anchor="middle" fill="#e41e1e" transform="translate(1396 1953.4) scale(1 1.038)">ns</text>
<text x="0" y="0" font-size="31.5" text-anchor="middle" font-weight="bold" textLength="186" lengthAdjust="spacingAndGlyphs" transform="translate(1208.2 2127.3) rotate(-90) scale(1 1.038)">speed (µm/h)</text>
<text x="0" y="0" font-size="30" text-anchor="end" font-weight="bold" transform="translate(1364.6 2353) rotate(-45) scale(1 1.038)">veh</text>
<text x="0" y="0" font-size="30" text-anchor="end" font-weight="bold" transform="translate(1452.4 2353) rotate(-45) scale(1 1.038)">vert</text>
<text x="0" y="0" font-size="30" text-anchor="end" font-weight="bold" transform="translate(1540.1 2353) rotate(-45) scale(1 1.038)">veh</text>
<text x="0" y="0" font-size="30" text-anchor="end" font-weight="bold" transform="translate(1628.2 2353) rotate(-45) scale(1 1.038)">vert</text>
<line x1="1340.2" y1="2399.6" x2="1473.7" y2="2399.2" stroke="#000" stroke-width="3.2"/>
<line x1="1512" y1="2397.6" x2="1646.6" y2="2397.2" stroke="#000" stroke-width="3.2"/>
<text x="0" y="0" font-size="30" text-anchor="middle" font-weight="bold" textLength="135" lengthAdjust="spacingAndGlyphs" transform="translate(1252.6 2436.8) scale(1 1.038)">migration</text>
<text x="0" y="0" font-size="30" text-anchor="middle" font-weight="bold" textLength="85" lengthAdjust="spacingAndGlyphs" transform="translate(1411.2 2436.8) scale(1 1.038)">0.7 cP</text>
<text x="0" y="0" font-size="30" text-anchor="middle" font-weight="bold" textLength="85" lengthAdjust="spacingAndGlyphs" transform="translate(1581.4 2436.8) scale(1 1.038)">0.7 cP</text>
<text x="0" y="0" font-size="30" text-anchor="middle" font-weight="bold" textLength="135" lengthAdjust="spacingAndGlyphs" transform="translate(1252.6 2515.5) scale(1 1.038)">treatment</text>
<text x="0" y="0" font-size="30" text-anchor="middle" font-weight="bold" textLength="85" lengthAdjust="spacingAndGlyphs" transform="translate(1411.2 2515.5) scale(1 1.038)">0.7 cP</text>
<text x="0" y="0" font-size="30" text-anchor="middle" font-weight="bold" textLength="60" lengthAdjust="spacingAndGlyphs" transform="translate(1582.1 2515.5) scale(1 1.038)">8 cP</text>
<path d="M1263.5 2443.5 L1275.2 2465.2 L1251.8 2465.2 Z" fill="#000"/>
<line x1="1263.5" y1="2464" x2="1263.5" y2="2483" stroke="#000" stroke-width="3.2"/>
<path d="M1410.3 2443.5 L1422 2465.2 L1398.6 2465.2 Z" fill="#000"/>
<line x1="1410.3" y1="2464" x2="1410.3" y2="2483" stroke="#000" stroke-width="3.2"/>
<path d="M1576.2 2443.5 L1587.9 2465.2 L1564.5 2465.2 Z" fill="#000"/>
<line x1="1576.2" y1="2464" x2="1576.2" y2="2483" stroke="#000" stroke-width="3.2"/>
</svg>
</body></html>
